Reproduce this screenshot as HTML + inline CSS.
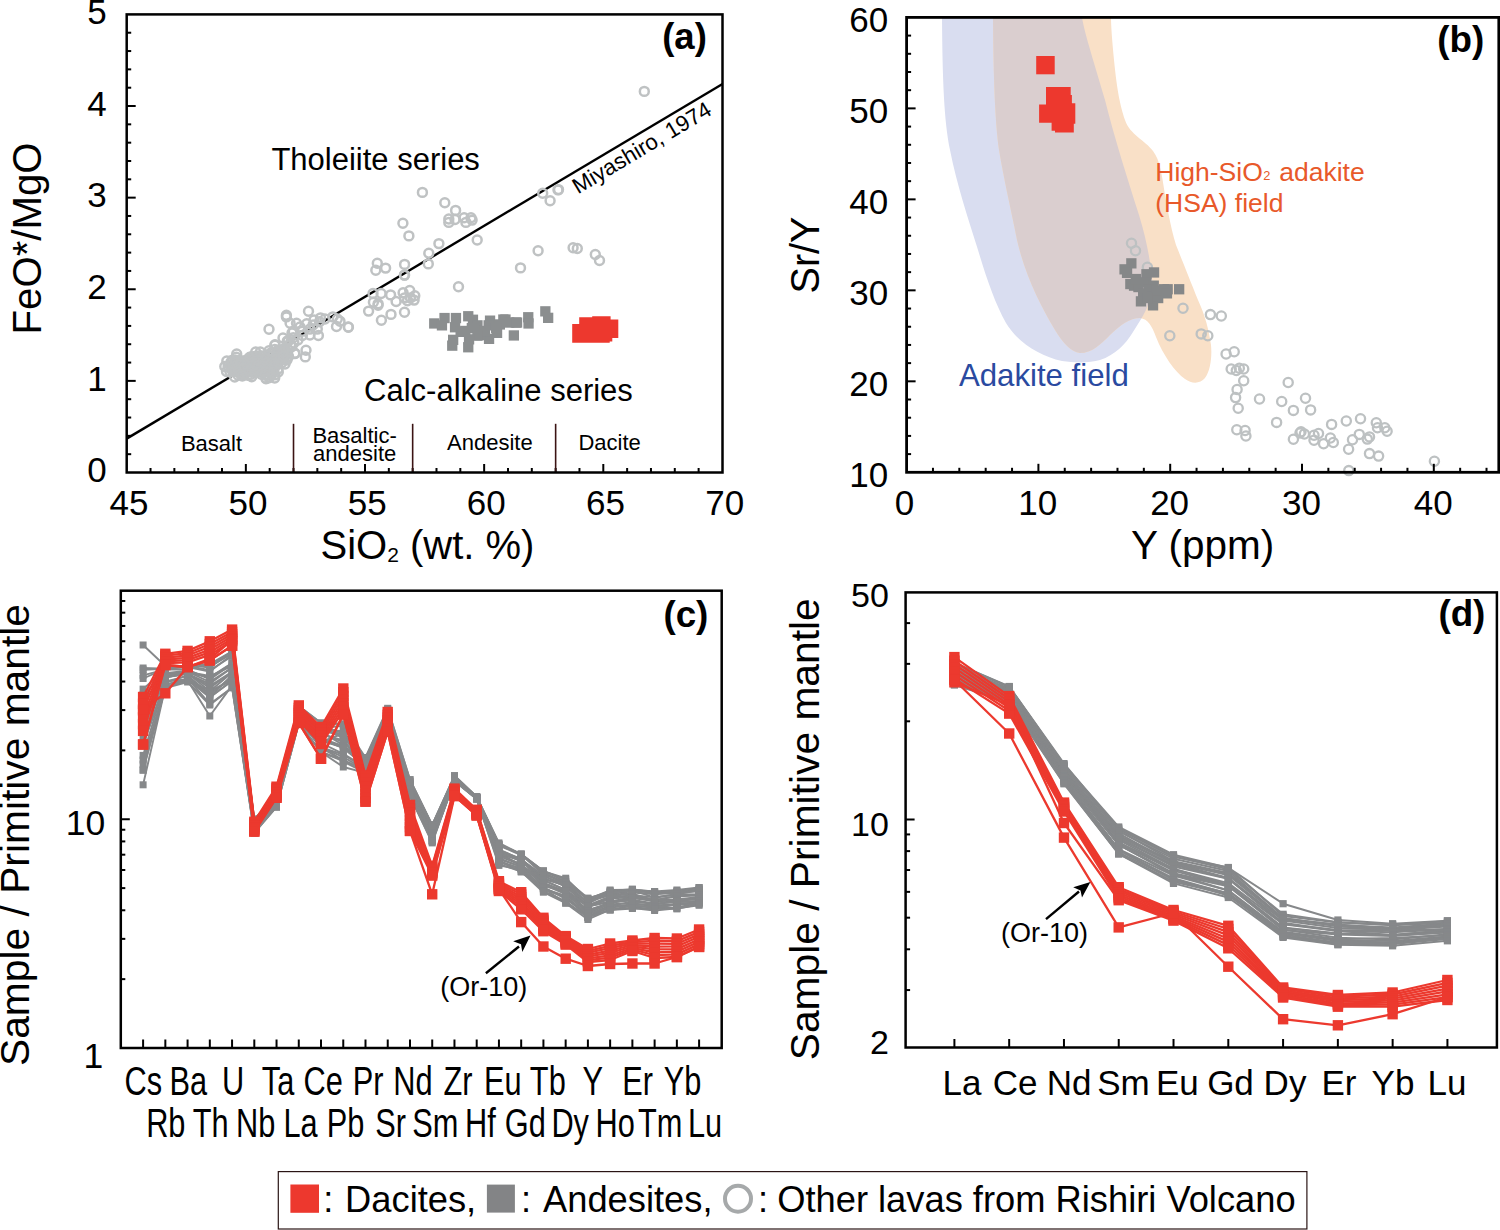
<!DOCTYPE html><html><head><meta charset="utf-8"><style>html,body{margin:0;padding:0;background:#fff;}svg{display:block;font-family:"Liberation Sans",sans-serif;}</style></head><body>
<svg width="1500" height="1230" viewBox="0 0 1500 1230" font-family="Liberation Sans, sans-serif">
<rect width="1500" height="1230" fill="#fff"/>
<line x1="150.53" y1="472.50" x2="150.53" y2="468.00" stroke="#000" stroke-width="2" />
<line x1="174.36" y1="472.50" x2="174.36" y2="468.00" stroke="#000" stroke-width="2" />
<line x1="198.19" y1="472.50" x2="198.19" y2="468.00" stroke="#000" stroke-width="2" />
<line x1="222.02" y1="472.50" x2="222.02" y2="468.00" stroke="#000" stroke-width="2" />
<line x1="245.85" y1="472.50" x2="245.85" y2="464.00" stroke="#000" stroke-width="2" />
<line x1="269.68" y1="472.50" x2="269.68" y2="468.00" stroke="#000" stroke-width="2" />
<line x1="293.51" y1="472.50" x2="293.51" y2="468.00" stroke="#000" stroke-width="2" />
<line x1="317.34" y1="472.50" x2="317.34" y2="468.00" stroke="#000" stroke-width="2" />
<line x1="341.17" y1="472.50" x2="341.17" y2="468.00" stroke="#000" stroke-width="2" />
<line x1="365.00" y1="472.50" x2="365.00" y2="464.00" stroke="#000" stroke-width="2" />
<line x1="388.83" y1="472.50" x2="388.83" y2="468.00" stroke="#000" stroke-width="2" />
<line x1="412.66" y1="472.50" x2="412.66" y2="468.00" stroke="#000" stroke-width="2" />
<line x1="436.49" y1="472.50" x2="436.49" y2="468.00" stroke="#000" stroke-width="2" />
<line x1="460.32" y1="472.50" x2="460.32" y2="468.00" stroke="#000" stroke-width="2" />
<line x1="484.15" y1="472.50" x2="484.15" y2="464.00" stroke="#000" stroke-width="2" />
<line x1="507.98" y1="472.50" x2="507.98" y2="468.00" stroke="#000" stroke-width="2" />
<line x1="531.81" y1="472.50" x2="531.81" y2="468.00" stroke="#000" stroke-width="2" />
<line x1="555.64" y1="472.50" x2="555.64" y2="468.00" stroke="#000" stroke-width="2" />
<line x1="579.47" y1="472.50" x2="579.47" y2="468.00" stroke="#000" stroke-width="2" />
<line x1="603.30" y1="472.50" x2="603.30" y2="464.00" stroke="#000" stroke-width="2" />
<line x1="627.13" y1="472.50" x2="627.13" y2="468.00" stroke="#000" stroke-width="2" />
<line x1="650.96" y1="472.50" x2="650.96" y2="468.00" stroke="#000" stroke-width="2" />
<line x1="674.79" y1="472.50" x2="674.79" y2="468.00" stroke="#000" stroke-width="2" />
<line x1="698.62" y1="472.50" x2="698.62" y2="468.00" stroke="#000" stroke-width="2" />
<line x1="126.70" y1="454.18" x2="131.20" y2="454.18" stroke="#000" stroke-width="2" />
<line x1="126.70" y1="435.85" x2="131.20" y2="435.85" stroke="#000" stroke-width="2" />
<line x1="126.70" y1="417.53" x2="131.20" y2="417.53" stroke="#000" stroke-width="2" />
<line x1="126.70" y1="399.20" x2="131.20" y2="399.20" stroke="#000" stroke-width="2" />
<line x1="126.70" y1="380.88" x2="135.70" y2="380.88" stroke="#000" stroke-width="2" />
<line x1="126.70" y1="362.56" x2="131.20" y2="362.56" stroke="#000" stroke-width="2" />
<line x1="126.70" y1="344.23" x2="131.20" y2="344.23" stroke="#000" stroke-width="2" />
<line x1="126.70" y1="325.91" x2="131.20" y2="325.91" stroke="#000" stroke-width="2" />
<line x1="126.70" y1="307.58" x2="131.20" y2="307.58" stroke="#000" stroke-width="2" />
<line x1="126.70" y1="289.26" x2="135.70" y2="289.26" stroke="#000" stroke-width="2" />
<line x1="126.70" y1="270.94" x2="131.20" y2="270.94" stroke="#000" stroke-width="2" />
<line x1="126.70" y1="252.61" x2="131.20" y2="252.61" stroke="#000" stroke-width="2" />
<line x1="126.70" y1="234.29" x2="131.20" y2="234.29" stroke="#000" stroke-width="2" />
<line x1="126.70" y1="215.96" x2="131.20" y2="215.96" stroke="#000" stroke-width="2" />
<line x1="126.70" y1="197.64" x2="135.70" y2="197.64" stroke="#000" stroke-width="2" />
<line x1="126.70" y1="179.32" x2="131.20" y2="179.32" stroke="#000" stroke-width="2" />
<line x1="126.70" y1="160.99" x2="131.20" y2="160.99" stroke="#000" stroke-width="2" />
<line x1="126.70" y1="142.67" x2="131.20" y2="142.67" stroke="#000" stroke-width="2" />
<line x1="126.70" y1="124.34" x2="131.20" y2="124.34" stroke="#000" stroke-width="2" />
<line x1="126.70" y1="106.02" x2="135.70" y2="106.02" stroke="#000" stroke-width="2" />
<line x1="126.70" y1="87.70" x2="131.20" y2="87.70" stroke="#000" stroke-width="2" />
<line x1="126.70" y1="69.37" x2="131.20" y2="69.37" stroke="#000" stroke-width="2" />
<line x1="126.70" y1="51.05" x2="131.20" y2="51.05" stroke="#000" stroke-width="2" />
<line x1="126.70" y1="32.72" x2="131.20" y2="32.72" stroke="#000" stroke-width="2" />
<line x1="293.51" y1="423.80" x2="293.51" y2="472.50" stroke="#3b1414" stroke-width="1.6" />
<line x1="412.66" y1="423.80" x2="412.66" y2="472.50" stroke="#3b1414" stroke-width="1.6" />
<line x1="555.64" y1="423.80" x2="555.64" y2="472.50" stroke="#3b1414" stroke-width="1.6" />
<line x1="126.70" y1="438.60" x2="722.50" y2="84.00" stroke="#000" stroke-width="2.4" />
<circle cx="274.8" cy="349.4" r="4.45" fill="none" stroke="#bfc2c3" stroke-width="2.5"/>
<circle cx="278.2" cy="350.1" r="4.45" fill="none" stroke="#bfc2c3" stroke-width="2.5"/>
<circle cx="281.7" cy="349.9" r="4.45" fill="none" stroke="#bfc2c3" stroke-width="2.5"/>
<circle cx="285.2" cy="350.6" r="4.45" fill="none" stroke="#bfc2c3" stroke-width="2.5"/>
<circle cx="270.3" cy="353.2" r="4.45" fill="none" stroke="#bfc2c3" stroke-width="2.5"/>
<circle cx="272.5" cy="352.6" r="4.45" fill="none" stroke="#bfc2c3" stroke-width="2.5"/>
<circle cx="276.5" cy="352.7" r="4.45" fill="none" stroke="#bfc2c3" stroke-width="2.5"/>
<circle cx="280.4" cy="353.9" r="4.45" fill="none" stroke="#bfc2c3" stroke-width="2.5"/>
<circle cx="282.6" cy="352.9" r="4.45" fill="none" stroke="#bfc2c3" stroke-width="2.5"/>
<circle cx="287.2" cy="353.6" r="4.45" fill="none" stroke="#bfc2c3" stroke-width="2.5"/>
<circle cx="236.3" cy="357.2" r="4.45" fill="none" stroke="#bfc2c3" stroke-width="2.5"/>
<circle cx="251.2" cy="357.0" r="4.45" fill="none" stroke="#bfc2c3" stroke-width="2.5"/>
<circle cx="254.5" cy="356.4" r="4.45" fill="none" stroke="#bfc2c3" stroke-width="2.5"/>
<circle cx="257.2" cy="356.1" r="4.45" fill="none" stroke="#bfc2c3" stroke-width="2.5"/>
<circle cx="260.5" cy="355.6" r="4.45" fill="none" stroke="#bfc2c3" stroke-width="2.5"/>
<circle cx="264.6" cy="356.0" r="4.45" fill="none" stroke="#bfc2c3" stroke-width="2.5"/>
<circle cx="268.4" cy="355.6" r="4.45" fill="none" stroke="#bfc2c3" stroke-width="2.5"/>
<circle cx="271.9" cy="356.7" r="4.45" fill="none" stroke="#bfc2c3" stroke-width="2.5"/>
<circle cx="275.4" cy="357.1" r="4.45" fill="none" stroke="#bfc2c3" stroke-width="2.5"/>
<circle cx="278.7" cy="356.5" r="4.45" fill="none" stroke="#bfc2c3" stroke-width="2.5"/>
<circle cx="280.5" cy="356.8" r="4.45" fill="none" stroke="#bfc2c3" stroke-width="2.5"/>
<circle cx="284.2" cy="356.0" r="4.45" fill="none" stroke="#bfc2c3" stroke-width="2.5"/>
<circle cx="288.5" cy="356.4" r="4.45" fill="none" stroke="#bfc2c3" stroke-width="2.5"/>
<circle cx="232.3" cy="360.1" r="4.45" fill="none" stroke="#bfc2c3" stroke-width="2.5"/>
<circle cx="235.0" cy="360.0" r="4.45" fill="none" stroke="#bfc2c3" stroke-width="2.5"/>
<circle cx="239.8" cy="360.1" r="4.45" fill="none" stroke="#bfc2c3" stroke-width="2.5"/>
<circle cx="246.0" cy="360.2" r="4.45" fill="none" stroke="#bfc2c3" stroke-width="2.5"/>
<circle cx="248.4" cy="359.1" r="4.45" fill="none" stroke="#bfc2c3" stroke-width="2.5"/>
<circle cx="252.2" cy="359.5" r="4.45" fill="none" stroke="#bfc2c3" stroke-width="2.5"/>
<circle cx="255.9" cy="359.5" r="4.45" fill="none" stroke="#bfc2c3" stroke-width="2.5"/>
<circle cx="259.9" cy="358.6" r="4.45" fill="none" stroke="#bfc2c3" stroke-width="2.5"/>
<circle cx="262.0" cy="358.8" r="4.45" fill="none" stroke="#bfc2c3" stroke-width="2.5"/>
<circle cx="265.5" cy="358.7" r="4.45" fill="none" stroke="#bfc2c3" stroke-width="2.5"/>
<circle cx="270.5" cy="360.1" r="4.45" fill="none" stroke="#bfc2c3" stroke-width="2.5"/>
<circle cx="272.3" cy="359.5" r="4.45" fill="none" stroke="#bfc2c3" stroke-width="2.5"/>
<circle cx="276.1" cy="359.2" r="4.45" fill="none" stroke="#bfc2c3" stroke-width="2.5"/>
<circle cx="279.5" cy="359.8" r="4.45" fill="none" stroke="#bfc2c3" stroke-width="2.5"/>
<circle cx="283.4" cy="359.2" r="4.45" fill="none" stroke="#bfc2c3" stroke-width="2.5"/>
<circle cx="286.0" cy="359.2" r="4.45" fill="none" stroke="#bfc2c3" stroke-width="2.5"/>
<circle cx="230.9" cy="362.4" r="4.45" fill="none" stroke="#bfc2c3" stroke-width="2.5"/>
<circle cx="234.3" cy="362.8" r="4.45" fill="none" stroke="#bfc2c3" stroke-width="2.5"/>
<circle cx="237.1" cy="362.4" r="4.45" fill="none" stroke="#bfc2c3" stroke-width="2.5"/>
<circle cx="240.6" cy="363.0" r="4.45" fill="none" stroke="#bfc2c3" stroke-width="2.5"/>
<circle cx="243.9" cy="362.9" r="4.45" fill="none" stroke="#bfc2c3" stroke-width="2.5"/>
<circle cx="247.3" cy="362.1" r="4.45" fill="none" stroke="#bfc2c3" stroke-width="2.5"/>
<circle cx="250.9" cy="363.0" r="4.45" fill="none" stroke="#bfc2c3" stroke-width="2.5"/>
<circle cx="253.4" cy="362.5" r="4.45" fill="none" stroke="#bfc2c3" stroke-width="2.5"/>
<circle cx="257.5" cy="363.3" r="4.45" fill="none" stroke="#bfc2c3" stroke-width="2.5"/>
<circle cx="261.8" cy="362.4" r="4.45" fill="none" stroke="#bfc2c3" stroke-width="2.5"/>
<circle cx="265.1" cy="363.1" r="4.45" fill="none" stroke="#bfc2c3" stroke-width="2.5"/>
<circle cx="267.4" cy="362.5" r="4.45" fill="none" stroke="#bfc2c3" stroke-width="2.5"/>
<circle cx="270.5" cy="363.2" r="4.45" fill="none" stroke="#bfc2c3" stroke-width="2.5"/>
<circle cx="274.9" cy="363.3" r="4.45" fill="none" stroke="#bfc2c3" stroke-width="2.5"/>
<circle cx="278.5" cy="362.9" r="4.45" fill="none" stroke="#bfc2c3" stroke-width="2.5"/>
<circle cx="281.8" cy="362.7" r="4.45" fill="none" stroke="#bfc2c3" stroke-width="2.5"/>
<circle cx="228.1" cy="366.3" r="4.45" fill="none" stroke="#bfc2c3" stroke-width="2.5"/>
<circle cx="232.5" cy="366.3" r="4.45" fill="none" stroke="#bfc2c3" stroke-width="2.5"/>
<circle cx="236.4" cy="365.8" r="4.45" fill="none" stroke="#bfc2c3" stroke-width="2.5"/>
<circle cx="239.5" cy="364.9" r="4.45" fill="none" stroke="#bfc2c3" stroke-width="2.5"/>
<circle cx="242.9" cy="365.7" r="4.45" fill="none" stroke="#bfc2c3" stroke-width="2.5"/>
<circle cx="246.2" cy="365.0" r="4.45" fill="none" stroke="#bfc2c3" stroke-width="2.5"/>
<circle cx="249.6" cy="366.5" r="4.45" fill="none" stroke="#bfc2c3" stroke-width="2.5"/>
<circle cx="251.8" cy="365.4" r="4.45" fill="none" stroke="#bfc2c3" stroke-width="2.5"/>
<circle cx="256.1" cy="366.3" r="4.45" fill="none" stroke="#bfc2c3" stroke-width="2.5"/>
<circle cx="258.9" cy="365.1" r="4.45" fill="none" stroke="#bfc2c3" stroke-width="2.5"/>
<circle cx="262.3" cy="365.9" r="4.45" fill="none" stroke="#bfc2c3" stroke-width="2.5"/>
<circle cx="266.7" cy="365.5" r="4.45" fill="none" stroke="#bfc2c3" stroke-width="2.5"/>
<circle cx="269.4" cy="365.5" r="4.45" fill="none" stroke="#bfc2c3" stroke-width="2.5"/>
<circle cx="272.7" cy="365.6" r="4.45" fill="none" stroke="#bfc2c3" stroke-width="2.5"/>
<circle cx="275.6" cy="365.7" r="4.45" fill="none" stroke="#bfc2c3" stroke-width="2.5"/>
<circle cx="231.1" cy="368.8" r="4.45" fill="none" stroke="#bfc2c3" stroke-width="2.5"/>
<circle cx="233.7" cy="369.2" r="4.45" fill="none" stroke="#bfc2c3" stroke-width="2.5"/>
<circle cx="236.6" cy="368.4" r="4.45" fill="none" stroke="#bfc2c3" stroke-width="2.5"/>
<circle cx="240.1" cy="369.0" r="4.45" fill="none" stroke="#bfc2c3" stroke-width="2.5"/>
<circle cx="243.7" cy="368.3" r="4.45" fill="none" stroke="#bfc2c3" stroke-width="2.5"/>
<circle cx="247.7" cy="369.6" r="4.45" fill="none" stroke="#bfc2c3" stroke-width="2.5"/>
<circle cx="250.4" cy="369.2" r="4.45" fill="none" stroke="#bfc2c3" stroke-width="2.5"/>
<circle cx="254.0" cy="369.4" r="4.45" fill="none" stroke="#bfc2c3" stroke-width="2.5"/>
<circle cx="257.8" cy="368.4" r="4.45" fill="none" stroke="#bfc2c3" stroke-width="2.5"/>
<circle cx="260.5" cy="367.9" r="4.45" fill="none" stroke="#bfc2c3" stroke-width="2.5"/>
<circle cx="264.4" cy="368.6" r="4.45" fill="none" stroke="#bfc2c3" stroke-width="2.5"/>
<circle cx="267.2" cy="368.5" r="4.45" fill="none" stroke="#bfc2c3" stroke-width="2.5"/>
<circle cx="270.9" cy="369.3" r="4.45" fill="none" stroke="#bfc2c3" stroke-width="2.5"/>
<circle cx="274.0" cy="369.7" r="4.45" fill="none" stroke="#bfc2c3" stroke-width="2.5"/>
<circle cx="278.0" cy="369.0" r="4.45" fill="none" stroke="#bfc2c3" stroke-width="2.5"/>
<circle cx="232.8" cy="371.4" r="4.45" fill="none" stroke="#bfc2c3" stroke-width="2.5"/>
<circle cx="235.0" cy="371.5" r="4.45" fill="none" stroke="#bfc2c3" stroke-width="2.5"/>
<circle cx="238.4" cy="372.3" r="4.45" fill="none" stroke="#bfc2c3" stroke-width="2.5"/>
<circle cx="243.0" cy="372.6" r="4.45" fill="none" stroke="#bfc2c3" stroke-width="2.5"/>
<circle cx="245.4" cy="372.6" r="4.45" fill="none" stroke="#bfc2c3" stroke-width="2.5"/>
<circle cx="248.9" cy="371.8" r="4.45" fill="none" stroke="#bfc2c3" stroke-width="2.5"/>
<circle cx="253.0" cy="371.2" r="4.45" fill="none" stroke="#bfc2c3" stroke-width="2.5"/>
<circle cx="255.3" cy="372.5" r="4.45" fill="none" stroke="#bfc2c3" stroke-width="2.5"/>
<circle cx="259.0" cy="371.6" r="4.45" fill="none" stroke="#bfc2c3" stroke-width="2.5"/>
<circle cx="262.9" cy="372.2" r="4.45" fill="none" stroke="#bfc2c3" stroke-width="2.5"/>
<circle cx="265.3" cy="371.6" r="4.45" fill="none" stroke="#bfc2c3" stroke-width="2.5"/>
<circle cx="269.5" cy="371.9" r="4.45" fill="none" stroke="#bfc2c3" stroke-width="2.5"/>
<circle cx="272.5" cy="372.1" r="4.45" fill="none" stroke="#bfc2c3" stroke-width="2.5"/>
<circle cx="238.0" cy="375.3" r="4.45" fill="none" stroke="#bfc2c3" stroke-width="2.5"/>
<circle cx="240.7" cy="374.3" r="4.45" fill="none" stroke="#bfc2c3" stroke-width="2.5"/>
<circle cx="244.0" cy="374.7" r="4.45" fill="none" stroke="#bfc2c3" stroke-width="2.5"/>
<circle cx="247.8" cy="375.3" r="4.45" fill="none" stroke="#bfc2c3" stroke-width="2.5"/>
<circle cx="250.9" cy="374.4" r="4.45" fill="none" stroke="#bfc2c3" stroke-width="2.5"/>
<circle cx="261.3" cy="374.3" r="4.45" fill="none" stroke="#bfc2c3" stroke-width="2.5"/>
<circle cx="265.2" cy="374.4" r="4.45" fill="none" stroke="#bfc2c3" stroke-width="2.5"/>
<circle cx="267.5" cy="375.4" r="4.45" fill="none" stroke="#bfc2c3" stroke-width="2.5"/>
<circle cx="271.4" cy="375.1" r="4.45" fill="none" stroke="#bfc2c3" stroke-width="2.5"/>
<circle cx="274.9" cy="374.9" r="4.45" fill="none" stroke="#bfc2c3" stroke-width="2.5"/>
<circle cx="266.2" cy="378.2" r="4.45" fill="none" stroke="#bfc2c3" stroke-width="2.5"/>
<circle cx="269.1" cy="377.7" r="4.45" fill="none" stroke="#bfc2c3" stroke-width="2.5"/>
<circle cx="422.4" cy="192.4" r="4.45" fill="none" stroke="#bfc2c3" stroke-width="2.5"/>
<circle cx="402.9" cy="223.3" r="4.45" fill="none" stroke="#bfc2c3" stroke-width="2.5"/>
<circle cx="408.9" cy="235.9" r="4.45" fill="none" stroke="#bfc2c3" stroke-width="2.5"/>
<circle cx="438.9" cy="243.6" r="4.45" fill="none" stroke="#bfc2c3" stroke-width="2.5"/>
<circle cx="428.8" cy="253.2" r="4.45" fill="none" stroke="#bfc2c3" stroke-width="2.5"/>
<circle cx="428.3" cy="263.9" r="4.45" fill="none" stroke="#bfc2c3" stroke-width="2.5"/>
<circle cx="404.6" cy="264.4" r="4.45" fill="none" stroke="#bfc2c3" stroke-width="2.5"/>
<circle cx="404.6" cy="275.1" r="4.45" fill="none" stroke="#bfc2c3" stroke-width="2.5"/>
<circle cx="377.3" cy="263.3" r="4.45" fill="none" stroke="#bfc2c3" stroke-width="2.5"/>
<circle cx="375.8" cy="270.3" r="4.45" fill="none" stroke="#bfc2c3" stroke-width="2.5"/>
<circle cx="385.6" cy="268.1" r="4.45" fill="none" stroke="#bfc2c3" stroke-width="2.5"/>
<circle cx="404.4" cy="275.1" r="4.45" fill="none" stroke="#bfc2c3" stroke-width="2.5"/>
<circle cx="373.0" cy="293.5" r="4.45" fill="none" stroke="#bfc2c3" stroke-width="2.5"/>
<circle cx="381.1" cy="293.5" r="4.45" fill="none" stroke="#bfc2c3" stroke-width="2.5"/>
<circle cx="390.6" cy="294.9" r="4.45" fill="none" stroke="#bfc2c3" stroke-width="2.5"/>
<circle cx="396.1" cy="301.5" r="4.45" fill="none" stroke="#bfc2c3" stroke-width="2.5"/>
<circle cx="373.4" cy="302.3" r="4.45" fill="none" stroke="#bfc2c3" stroke-width="2.5"/>
<circle cx="378.1" cy="303.7" r="4.45" fill="none" stroke="#bfc2c3" stroke-width="2.5"/>
<circle cx="378.1" cy="305.2" r="4.45" fill="none" stroke="#bfc2c3" stroke-width="2.5"/>
<circle cx="368.6" cy="311.1" r="4.45" fill="none" stroke="#bfc2c3" stroke-width="2.5"/>
<circle cx="381.4" cy="320.2" r="4.45" fill="none" stroke="#bfc2c3" stroke-width="2.5"/>
<circle cx="391.0" cy="314.4" r="4.45" fill="none" stroke="#bfc2c3" stroke-width="2.5"/>
<circle cx="404.5" cy="312.2" r="4.45" fill="none" stroke="#bfc2c3" stroke-width="2.5"/>
<circle cx="348.4" cy="327.2" r="4.45" fill="none" stroke="#bfc2c3" stroke-width="2.5"/>
<circle cx="340.0" cy="321.3" r="4.45" fill="none" stroke="#bfc2c3" stroke-width="2.5"/>
<circle cx="403.1" cy="292.7" r="4.45" fill="none" stroke="#bfc2c3" stroke-width="2.5"/>
<circle cx="409.7" cy="290.5" r="4.45" fill="none" stroke="#bfc2c3" stroke-width="2.5"/>
<circle cx="414.8" cy="295.7" r="4.45" fill="none" stroke="#bfc2c3" stroke-width="2.5"/>
<circle cx="410.4" cy="297.9" r="4.45" fill="none" stroke="#bfc2c3" stroke-width="2.5"/>
<circle cx="414.1" cy="300.1" r="4.45" fill="none" stroke="#bfc2c3" stroke-width="2.5"/>
<circle cx="404.5" cy="297.9" r="4.45" fill="none" stroke="#bfc2c3" stroke-width="2.5"/>
<circle cx="407.5" cy="300.8" r="4.45" fill="none" stroke="#bfc2c3" stroke-width="2.5"/>
<circle cx="444.8" cy="202.7" r="4.45" fill="none" stroke="#bfc2c3" stroke-width="2.5"/>
<circle cx="455.6" cy="210.4" r="4.45" fill="none" stroke="#bfc2c3" stroke-width="2.5"/>
<circle cx="448.8" cy="219.0" r="4.45" fill="none" stroke="#bfc2c3" stroke-width="2.5"/>
<circle cx="448.8" cy="222.4" r="4.45" fill="none" stroke="#bfc2c3" stroke-width="2.5"/>
<circle cx="455.0" cy="219.5" r="4.45" fill="none" stroke="#bfc2c3" stroke-width="2.5"/>
<circle cx="464.1" cy="217.8" r="4.45" fill="none" stroke="#bfc2c3" stroke-width="2.5"/>
<circle cx="465.9" cy="222.4" r="4.45" fill="none" stroke="#bfc2c3" stroke-width="2.5"/>
<circle cx="471.0" cy="217.8" r="4.45" fill="none" stroke="#bfc2c3" stroke-width="2.5"/>
<circle cx="472.1" cy="220.1" r="4.45" fill="none" stroke="#bfc2c3" stroke-width="2.5"/>
<circle cx="477.2" cy="240.0" r="4.45" fill="none" stroke="#bfc2c3" stroke-width="2.5"/>
<circle cx="458.5" cy="286.7" r="4.45" fill="none" stroke="#bfc2c3" stroke-width="2.5"/>
<circle cx="538.1" cy="250.8" r="4.45" fill="none" stroke="#bfc2c3" stroke-width="2.5"/>
<circle cx="520.5" cy="267.9" r="4.45" fill="none" stroke="#bfc2c3" stroke-width="2.5"/>
<circle cx="542.7" cy="193.3" r="4.45" fill="none" stroke="#bfc2c3" stroke-width="2.5"/>
<circle cx="550.1" cy="200.7" r="4.45" fill="none" stroke="#bfc2c3" stroke-width="2.5"/>
<circle cx="558.0" cy="189.9" r="4.45" fill="none" stroke="#bfc2c3" stroke-width="2.5"/>
<circle cx="644.3" cy="91.4" r="4.45" fill="none" stroke="#bfc2c3" stroke-width="2.5"/>
<circle cx="558.5" cy="189.6" r="4.45" fill="none" stroke="#bfc2c3" stroke-width="2.5"/>
<circle cx="573.1" cy="247.7" r="4.45" fill="none" stroke="#bfc2c3" stroke-width="2.5"/>
<circle cx="577.3" cy="248.5" r="4.45" fill="none" stroke="#bfc2c3" stroke-width="2.5"/>
<circle cx="595.3" cy="254.5" r="4.45" fill="none" stroke="#bfc2c3" stroke-width="2.5"/>
<circle cx="599.5" cy="260.5" r="4.45" fill="none" stroke="#bfc2c3" stroke-width="2.5"/>
<circle cx="308.5" cy="311.3" r="4.45" fill="none" stroke="#bfc2c3" stroke-width="2.5"/>
<circle cx="286.4" cy="315.3" r="4.45" fill="none" stroke="#bfc2c3" stroke-width="2.5"/>
<circle cx="286.4" cy="316.9" r="4.45" fill="none" stroke="#bfc2c3" stroke-width="2.5"/>
<circle cx="320.5" cy="317.9" r="4.45" fill="none" stroke="#bfc2c3" stroke-width="2.5"/>
<circle cx="332.8" cy="316.9" r="4.45" fill="none" stroke="#bfc2c3" stroke-width="2.5"/>
<circle cx="337.3" cy="319.0" r="4.45" fill="none" stroke="#bfc2c3" stroke-width="2.5"/>
<circle cx="336.5" cy="326.5" r="4.45" fill="none" stroke="#bfc2c3" stroke-width="2.5"/>
<circle cx="348.3" cy="327.0" r="4.45" fill="none" stroke="#bfc2c3" stroke-width="2.5"/>
<circle cx="290.1" cy="323.3" r="4.45" fill="none" stroke="#bfc2c3" stroke-width="2.5"/>
<circle cx="296.5" cy="323.3" r="4.45" fill="none" stroke="#bfc2c3" stroke-width="2.5"/>
<circle cx="306.7" cy="323.8" r="4.45" fill="none" stroke="#bfc2c3" stroke-width="2.5"/>
<circle cx="313.1" cy="324.9" r="4.45" fill="none" stroke="#bfc2c3" stroke-width="2.5"/>
<circle cx="319.5" cy="321.7" r="4.45" fill="none" stroke="#bfc2c3" stroke-width="2.5"/>
<circle cx="293.3" cy="331.3" r="4.45" fill="none" stroke="#bfc2c3" stroke-width="2.5"/>
<circle cx="302.4" cy="331.3" r="4.45" fill="none" stroke="#bfc2c3" stroke-width="2.5"/>
<circle cx="309.9" cy="329.1" r="4.45" fill="none" stroke="#bfc2c3" stroke-width="2.5"/>
<circle cx="317.3" cy="329.1" r="4.45" fill="none" stroke="#bfc2c3" stroke-width="2.5"/>
<circle cx="318.4" cy="335.5" r="4.45" fill="none" stroke="#bfc2c3" stroke-width="2.5"/>
<circle cx="309.9" cy="335.0" r="4.45" fill="none" stroke="#bfc2c3" stroke-width="2.5"/>
<circle cx="302.4" cy="335.5" r="4.45" fill="none" stroke="#bfc2c3" stroke-width="2.5"/>
<circle cx="293.3" cy="337.7" r="4.45" fill="none" stroke="#bfc2c3" stroke-width="2.5"/>
<circle cx="288.0" cy="341.4" r="4.45" fill="none" stroke="#bfc2c3" stroke-width="2.5"/>
<circle cx="293.9" cy="343.0" r="4.45" fill="none" stroke="#bfc2c3" stroke-width="2.5"/>
<circle cx="269.0" cy="329.3" r="4.45" fill="none" stroke="#bfc2c3" stroke-width="2.5"/>
<circle cx="275.0" cy="344.7" r="4.45" fill="none" stroke="#bfc2c3" stroke-width="2.5"/>
<circle cx="306.0" cy="350.3" r="4.45" fill="none" stroke="#bfc2c3" stroke-width="2.5"/>
<circle cx="305.3" cy="356.9" r="4.45" fill="none" stroke="#bfc2c3" stroke-width="2.5"/>
<circle cx="294.8" cy="353.6" r="4.45" fill="none" stroke="#bfc2c3" stroke-width="2.5"/>
<circle cx="288.3" cy="349.9" r="4.45" fill="none" stroke="#bfc2c3" stroke-width="2.5"/>
<circle cx="287.3" cy="341.0" r="4.45" fill="none" stroke="#bfc2c3" stroke-width="2.5"/>
<circle cx="290.6" cy="344.7" r="4.45" fill="none" stroke="#bfc2c3" stroke-width="2.5"/>
<circle cx="292.0" cy="333.0" r="4.45" fill="none" stroke="#bfc2c3" stroke-width="2.5"/>
<circle cx="300.0" cy="327.0" r="4.45" fill="none" stroke="#bfc2c3" stroke-width="2.5"/>
<circle cx="314.0" cy="320.0" r="4.45" fill="none" stroke="#bfc2c3" stroke-width="2.5"/>
<circle cx="325.0" cy="319.0" r="4.45" fill="none" stroke="#bfc2c3" stroke-width="2.5"/>
<circle cx="298.0" cy="340.0" r="4.45" fill="none" stroke="#bfc2c3" stroke-width="2.5"/>
<circle cx="283.0" cy="338.0" r="4.45" fill="none" stroke="#bfc2c3" stroke-width="2.5"/>
<circle cx="234.7" cy="377.0" r="4.45" fill="none" stroke="#bfc2c3" stroke-width="2.5"/>
<circle cx="274.7" cy="378.0" r="4.45" fill="none" stroke="#bfc2c3" stroke-width="2.5"/>
<circle cx="266.0" cy="378.7" r="4.45" fill="none" stroke="#bfc2c3" stroke-width="2.5"/>
<circle cx="251.7" cy="376.7" r="4.45" fill="none" stroke="#bfc2c3" stroke-width="2.5"/>
<circle cx="242.3" cy="376.0" r="4.45" fill="none" stroke="#bfc2c3" stroke-width="2.5"/>
<circle cx="236.7" cy="354.0" r="4.45" fill="none" stroke="#bfc2c3" stroke-width="2.5"/>
<circle cx="226.8" cy="361.0" r="4.45" fill="none" stroke="#bfc2c3" stroke-width="2.5"/>
<circle cx="224.8" cy="366.5" r="4.45" fill="none" stroke="#bfc2c3" stroke-width="2.5"/>
<circle cx="249.7" cy="357.3" r="4.45" fill="none" stroke="#bfc2c3" stroke-width="2.5"/>
<circle cx="255.7" cy="352.0" r="4.45" fill="none" stroke="#bfc2c3" stroke-width="2.5"/>
<circle cx="260.3" cy="352.0" r="4.45" fill="none" stroke="#bfc2c3" stroke-width="2.5"/>
<circle cx="269.0" cy="350.7" r="4.45" fill="none" stroke="#bfc2c3" stroke-width="2.5"/>
<circle cx="275.0" cy="345.3" r="4.45" fill="none" stroke="#bfc2c3" stroke-width="2.5"/>
<circle cx="285.0" cy="348.0" r="4.45" fill="none" stroke="#bfc2c3" stroke-width="2.5"/>
<circle cx="291.7" cy="346.7" r="4.45" fill="none" stroke="#bfc2c3" stroke-width="2.5"/>
<circle cx="295.0" cy="353.3" r="4.45" fill="none" stroke="#bfc2c3" stroke-width="2.5"/>
<circle cx="287.0" cy="360.0" r="4.45" fill="none" stroke="#bfc2c3" stroke-width="2.5"/>
<circle cx="285.0" cy="364.0" r="4.45" fill="none" stroke="#bfc2c3" stroke-width="2.5"/>
<circle cx="278.3" cy="372.0" r="4.45" fill="none" stroke="#bfc2c3" stroke-width="2.5"/>
<circle cx="226.5" cy="371.5" r="4.45" fill="none" stroke="#bfc2c3" stroke-width="2.5"/>
<circle cx="230.0" cy="372.0" r="4.45" fill="none" stroke="#bfc2c3" stroke-width="2.5"/>
<circle cx="283.0" cy="356.0" r="4.45" fill="none" stroke="#bfc2c3" stroke-width="2.5"/>
<rect x="429.1" y="318.3" width="10.3" height="10.3" fill="#8b8e8f"/>
<rect x="439.4" y="312.9" width="10.3" height="10.3" fill="#8b8e8f"/>
<rect x="450.8" y="312.9" width="10.3" height="10.3" fill="#8b8e8f"/>
<rect x="463.1" y="311.1" width="10.3" height="10.3" fill="#8b8e8f"/>
<rect x="467.8" y="314.6" width="10.3" height="10.3" fill="#8b8e8f"/>
<rect x="484.9" y="315.5" width="10.3" height="10.3" fill="#8b8e8f"/>
<rect x="498.2" y="314.4" width="10.3" height="10.3" fill="#8b8e8f"/>
<rect x="500.3" y="314.4" width="10.3" height="10.3" fill="#8b8e8f"/>
<rect x="510.7" y="317.4" width="10.3" height="10.3" fill="#8b8e8f"/>
<rect x="523.1" y="312.1" width="10.3" height="10.3" fill="#8b8e8f"/>
<rect x="523.4" y="318.3" width="10.3" height="10.3" fill="#8b8e8f"/>
<rect x="540.2" y="306.2" width="10.3" height="10.3" fill="#8b8e8f"/>
<rect x="543.0" y="312.7" width="10.3" height="10.3" fill="#8b8e8f"/>
<rect x="508.7" y="330.3" width="10.3" height="10.3" fill="#8b8e8f"/>
<rect x="447.1" y="340.5" width="10.3" height="10.3" fill="#8b8e8f"/>
<rect x="463.1" y="342.1" width="10.3" height="10.3" fill="#8b8e8f"/>
<rect x="483.9" y="333.7" width="10.3" height="10.3" fill="#8b8e8f"/>
<rect x="448.0" y="334.7" width="10.3" height="10.3" fill="#8b8e8f"/>
<rect x="436.8" y="320.2" width="10.3" height="10.3" fill="#8b8e8f"/>
<rect x="449.9" y="322.1" width="10.3" height="10.3" fill="#8b8e8f"/>
<rect x="455.5" y="326.7" width="10.3" height="10.3" fill="#8b8e8f"/>
<rect x="475.1" y="330.0" width="10.3" height="10.3" fill="#8b8e8f"/>
<rect x="491.9" y="327.7" width="10.3" height="10.3" fill="#8b8e8f"/>
<rect x="472.3" y="320.2" width="10.3" height="10.3" fill="#8b8e8f"/>
<rect x="483.5" y="320.2" width="10.3" height="10.3" fill="#8b8e8f"/>
<rect x="494.7" y="319.3" width="10.3" height="10.3" fill="#8b8e8f"/>
<rect x="504.0" y="317.4" width="10.3" height="10.3" fill="#8b8e8f"/>
<rect x="511.9" y="317.4" width="10.3" height="10.3" fill="#8b8e8f"/>
<rect x="460.1" y="325.8" width="10.3" height="10.3" fill="#8b8e8f"/>
<rect x="466.7" y="323.0" width="10.3" height="10.3" fill="#8b8e8f"/>
<rect x="479.7" y="325.8" width="10.3" height="10.3" fill="#8b8e8f"/>
<rect x="490.9" y="323.0" width="10.3" height="10.3" fill="#8b8e8f"/>
<rect x="472.3" y="330.5" width="10.3" height="10.3" fill="#8b8e8f"/>
<rect x="463.9" y="334.2" width="10.3" height="10.3" fill="#8b8e8f"/>
<polygon points="572.2,324.0 579.2,324.0 579.2,317.2 592.2,317.2 592.2,316.2 610.6,316.2 610.6,319.6 618.3,319.6 618.3,338.1 612.3,338.1 612.3,341.6 609.7,341.6 609.7,342.7 572.2,342.7" fill="#ed382e"/>
<rect x="126.7" y="14.4" width="595.8" height="458.1" fill="none" stroke="#000" stroke-width="2.5"/>
<text x="106.8" y="482.1" font-size="35" text-anchor="end" fill="#000" >0</text>
<text x="106.8" y="390.5" font-size="35" text-anchor="end" fill="#000" >1</text>
<text x="106.8" y="298.9" font-size="35" text-anchor="end" fill="#000" >2</text>
<text x="106.8" y="207.2" font-size="35" text-anchor="end" fill="#000" >3</text>
<text x="106.8" y="115.6" font-size="35" text-anchor="end" fill="#000" >4</text>
<text x="106.8" y="24.0" font-size="35" text-anchor="end" fill="#000" >5</text>
<text x="128.9" y="514.8" font-size="35" text-anchor="middle" fill="#000" >45</text>
<text x="248.0" y="514.8" font-size="35" text-anchor="middle" fill="#000" >50</text>
<text x="367.2" y="514.8" font-size="35" text-anchor="middle" fill="#000" >55</text>
<text x="486.3" y="514.8" font-size="35" text-anchor="middle" fill="#000" >60</text>
<text x="605.5" y="514.8" font-size="35" text-anchor="middle" fill="#000" >65</text>
<text x="724.7" y="514.8" font-size="35" text-anchor="middle" fill="#000" >70</text>
<text transform="translate(41.2,334.5) rotate(-90)" font-size="40.5" textLength="192" lengthAdjust="spacingAndGlyphs">FeO*/MgO</text>
<text x="320.5" y="558.9" font-size="40">SiO<tspan font-size="21" dy="2.6">2</tspan><tspan dy="-2.6"> (wt. %)</tspan></text>
<text x="271.4" y="170.0" font-size="31" fill="#000" >Tholeiite series</text>
<text x="364.1" y="400.5" font-size="31" fill="#000" >Calc-alkaline series</text>
<text x="180.9" y="450.7" font-size="22" fill="#000" >Basalt</text>
<text x="312.4" y="443.4" font-size="22" fill="#000" >Basaltic-</text>
<text x="313.1" y="461.1" font-size="22" fill="#000" >andesite</text>
<text x="447.0" y="449.7" font-size="22" fill="#000" >Andesite</text>
<text x="578.4" y="449.7" font-size="22" fill="#000" >Dacite</text>
<text transform="translate(578,194.5) rotate(-30.76)" font-size="22.3">Miyashiro, 1974</text>
<text x="662.2" y="49.0" font-size="36.5" font-weight="bold" fill="#000" >(a)</text>
<defs><clipPath id="clipB"><rect x="906.6" y="17.4" width="592" height="455"/></clipPath><clipPath id="clipBlue"><path d="M942,17.4 C942.5,80 944,120 950,150 C957,185 967,215 978,250 C987,280 995,303 1006,323 C1018,343 1040,356 1062,361 C1075,363 1090,363 1100,360 C1115,355 1125,345 1133,332 C1138,324 1142,318 1146,310 C1151,298 1153,288 1152,278 C1150,258 1146,238 1139,215 C1128,180 1115,140 1105,100 C1095,65 1085,35 1082,17.4 Z"/></clipPath></defs>
<g clip-path="url(#clipB)">
<path d="M942,17.4 C942.5,80 944,120 950,150 C957,185 967,215 978,250 C987,280 995,303 1006,323 C1018,343 1040,356 1062,361 C1075,363 1090,363 1100,360 C1115,355 1125,345 1133,332 C1138,324 1142,318 1146,310 C1151,298 1153,288 1152,278 C1150,258 1146,238 1139,215 C1128,180 1115,140 1105,100 C1095,65 1085,35 1082,17.4 Z" fill="#d9ddf0"/>
<path d="M993,17.4 C993.5,80 995,120 999,150 C1004,180 1010,205 1017,240 C1025,275 1040,305 1055,330 C1063,343 1071,352 1080,353 C1092,353 1100,345 1110,335 C1120,325 1130,318 1140,318 C1148,319 1152,326 1156,337 C1163,355 1175,372 1185,379 C1192,384 1200,384 1205,378 C1211,370 1212,355 1211,345 C1209,330 1205,315 1198,300 C1190,280 1182,260 1176,245 C1170,225 1167,205 1165,195 C1162,175 1160,160 1153,151 C1145,140 1130,135 1125,120 C1120,105 1117,90 1114,60 C1112,40 1111,25 1111,17.4 Z" fill="#f9e0c7"/>
<path d="M993,17.4 C993.5,80 995,120 999,150 C1004,180 1010,205 1017,240 C1025,275 1040,305 1055,330 C1063,343 1071,352 1080,353 C1092,353 1100,345 1110,335 C1120,325 1130,318 1140,318 C1148,319 1152,326 1156,337 C1163,355 1175,372 1185,379 C1192,384 1200,384 1205,378 C1211,370 1212,355 1211,345 C1209,330 1205,315 1198,300 C1190,280 1182,260 1176,245 C1170,225 1167,205 1165,195 C1162,175 1160,160 1153,151 C1145,140 1130,135 1125,120 C1120,105 1117,90 1114,60 C1112,40 1111,25 1111,17.4 Z" fill="#dacecf" clip-path="url(#clipBlue)"/>
</g>
<circle cx="1131.5" cy="243.2" r="4.6" fill="none" stroke="#bdc1c2" stroke-width="2.3"/>
<circle cx="1135.5" cy="250.8" r="4.6" fill="none" stroke="#bdc1c2" stroke-width="2.3"/>
<circle cx="1147.4" cy="267.3" r="4.6" fill="none" stroke="#bdc1c2" stroke-width="2.3"/>
<circle cx="1183.0" cy="308.3" r="4.6" fill="none" stroke="#bdc1c2" stroke-width="2.3"/>
<circle cx="1169.8" cy="335.7" r="4.6" fill="none" stroke="#bdc1c2" stroke-width="2.3"/>
<circle cx="1201.2" cy="333.9" r="4.6" fill="none" stroke="#bdc1c2" stroke-width="2.3"/>
<circle cx="1207.8" cy="335.7" r="4.6" fill="none" stroke="#bdc1c2" stroke-width="2.3"/>
<circle cx="1210.4" cy="314.6" r="4.6" fill="none" stroke="#bdc1c2" stroke-width="2.3"/>
<circle cx="1221.3" cy="316.0" r="4.6" fill="none" stroke="#bdc1c2" stroke-width="2.3"/>
<circle cx="1226.1" cy="354.0" r="4.6" fill="none" stroke="#bdc1c2" stroke-width="2.3"/>
<circle cx="1234.2" cy="351.8" r="4.6" fill="none" stroke="#bdc1c2" stroke-width="2.3"/>
<circle cx="1231.2" cy="369.0" r="4.6" fill="none" stroke="#bdc1c2" stroke-width="2.3"/>
<circle cx="1236.3" cy="370.5" r="4.6" fill="none" stroke="#bdc1c2" stroke-width="2.3"/>
<circle cx="1239.3" cy="368.3" r="4.6" fill="none" stroke="#bdc1c2" stroke-width="2.3"/>
<circle cx="1243.7" cy="369.0" r="4.6" fill="none" stroke="#bdc1c2" stroke-width="2.3"/>
<circle cx="1243.7" cy="380.7" r="4.6" fill="none" stroke="#bdc1c2" stroke-width="2.3"/>
<circle cx="1237.1" cy="389.5" r="4.6" fill="none" stroke="#bdc1c2" stroke-width="2.3"/>
<circle cx="1235.6" cy="397.6" r="4.6" fill="none" stroke="#bdc1c2" stroke-width="2.3"/>
<circle cx="1238.2" cy="408.2" r="4.6" fill="none" stroke="#bdc1c2" stroke-width="2.3"/>
<circle cx="1259.5" cy="399.0" r="4.6" fill="none" stroke="#bdc1c2" stroke-width="2.3"/>
<circle cx="1288.2" cy="382.5" r="4.6" fill="none" stroke="#bdc1c2" stroke-width="2.3"/>
<circle cx="1281.7" cy="401.5" r="4.6" fill="none" stroke="#bdc1c2" stroke-width="2.3"/>
<circle cx="1293.4" cy="410.4" r="4.6" fill="none" stroke="#bdc1c2" stroke-width="2.3"/>
<circle cx="1276.6" cy="422.4" r="4.6" fill="none" stroke="#bdc1c2" stroke-width="2.3"/>
<circle cx="1236.8" cy="429.8" r="4.6" fill="none" stroke="#bdc1c2" stroke-width="2.3"/>
<circle cx="1245.1" cy="430.5" r="4.6" fill="none" stroke="#bdc1c2" stroke-width="2.3"/>
<circle cx="1245.9" cy="436.0" r="4.6" fill="none" stroke="#bdc1c2" stroke-width="2.3"/>
<circle cx="1293.4" cy="439.3" r="4.6" fill="none" stroke="#bdc1c2" stroke-width="2.3"/>
<circle cx="1305.5" cy="398.3" r="4.6" fill="none" stroke="#bdc1c2" stroke-width="2.3"/>
<circle cx="1310.6" cy="409.9" r="4.6" fill="none" stroke="#bdc1c2" stroke-width="2.3"/>
<circle cx="1331.6" cy="424.4" r="4.6" fill="none" stroke="#bdc1c2" stroke-width="2.3"/>
<circle cx="1346.3" cy="421.0" r="4.6" fill="none" stroke="#bdc1c2" stroke-width="2.3"/>
<circle cx="1360.5" cy="418.7" r="4.6" fill="none" stroke="#bdc1c2" stroke-width="2.3"/>
<circle cx="1376.3" cy="422.7" r="4.6" fill="none" stroke="#bdc1c2" stroke-width="2.3"/>
<circle cx="1377.5" cy="427.8" r="4.6" fill="none" stroke="#bdc1c2" stroke-width="2.3"/>
<circle cx="1384.8" cy="427.8" r="4.6" fill="none" stroke="#bdc1c2" stroke-width="2.3"/>
<circle cx="1387.1" cy="431.2" r="4.6" fill="none" stroke="#bdc1c2" stroke-width="2.3"/>
<circle cx="1301.0" cy="431.8" r="4.6" fill="none" stroke="#bdc1c2" stroke-width="2.3"/>
<circle cx="1304.4" cy="434.0" r="4.6" fill="none" stroke="#bdc1c2" stroke-width="2.3"/>
<circle cx="1314.0" cy="435.2" r="4.6" fill="none" stroke="#bdc1c2" stroke-width="2.3"/>
<circle cx="1318.5" cy="433.5" r="4.6" fill="none" stroke="#bdc1c2" stroke-width="2.3"/>
<circle cx="1300.0" cy="433.0" r="4.6" fill="none" stroke="#bdc1c2" stroke-width="2.3"/>
<circle cx="1314.0" cy="440.3" r="4.6" fill="none" stroke="#bdc1c2" stroke-width="2.3"/>
<circle cx="1323.6" cy="443.7" r="4.6" fill="none" stroke="#bdc1c2" stroke-width="2.3"/>
<circle cx="1330.4" cy="438.0" r="4.6" fill="none" stroke="#bdc1c2" stroke-width="2.3"/>
<circle cx="1333.3" cy="442.5" r="4.6" fill="none" stroke="#bdc1c2" stroke-width="2.3"/>
<circle cx="1352.5" cy="439.7" r="4.6" fill="none" stroke="#bdc1c2" stroke-width="2.3"/>
<circle cx="1359.3" cy="434.4" r="4.6" fill="none" stroke="#bdc1c2" stroke-width="2.3"/>
<circle cx="1369.5" cy="436.9" r="4.6" fill="none" stroke="#bdc1c2" stroke-width="2.3"/>
<circle cx="1367.3" cy="439.1" r="4.6" fill="none" stroke="#bdc1c2" stroke-width="2.3"/>
<circle cx="1348.6" cy="449.3" r="4.6" fill="none" stroke="#bdc1c2" stroke-width="2.3"/>
<circle cx="1369.5" cy="453.6" r="4.6" fill="none" stroke="#bdc1c2" stroke-width="2.3"/>
<circle cx="1378.6" cy="456.1" r="4.6" fill="none" stroke="#bdc1c2" stroke-width="2.3"/>
<circle cx="1348.8" cy="470.6" r="4.6" fill="none" stroke="#bdc1c2" stroke-width="2.3"/>
<circle cx="1434.4" cy="461.2" r="4.6" fill="none" stroke="#bdc1c2" stroke-width="2.3"/>
<rect x="1126.2" y="258.2" width="10.3" height="10.3" fill="#858788"/>
<rect x="1119.4" y="264.2" width="10.3" height="10.3" fill="#858788"/>
<rect x="1121.9" y="267.7" width="10.3" height="10.3" fill="#858788"/>
<rect x="1125.2" y="278.9" width="10.3" height="10.3" fill="#858788"/>
<rect x="1128.9" y="280.5" width="10.3" height="10.3" fill="#858788"/>
<rect x="1133.3" y="281.9" width="10.3" height="10.3" fill="#858788"/>
<rect x="1141.3" y="269.1" width="10.3" height="10.3" fill="#858788"/>
<rect x="1148.9" y="267.3" width="10.3" height="10.3" fill="#858788"/>
<rect x="1141.0" y="277.2" width="10.3" height="10.3" fill="#858788"/>
<rect x="1148.6" y="280.5" width="10.3" height="10.3" fill="#858788"/>
<rect x="1158.9" y="284.1" width="10.3" height="10.3" fill="#858788"/>
<rect x="1162.5" y="284.1" width="10.3" height="10.3" fill="#858788"/>
<rect x="1174.0" y="284.1" width="10.3" height="10.3" fill="#858788"/>
<rect x="1161.8" y="288.2" width="10.3" height="10.3" fill="#858788"/>
<rect x="1138.0" y="288.2" width="10.3" height="10.3" fill="#858788"/>
<rect x="1135.8" y="296.2" width="10.3" height="10.3" fill="#858788"/>
<rect x="1147.9" y="300.2" width="10.3" height="10.3" fill="#858788"/>
<rect x="1153.0" y="292.9" width="10.3" height="10.3" fill="#858788"/>
<rect x="1143.9" y="284.1" width="10.3" height="10.3" fill="#858788"/>
<rect x="1146.8" y="291.4" width="10.3" height="10.3" fill="#858788"/>
<rect x="1130.7" y="273.9" width="10.3" height="10.3" fill="#858788"/>
<rect x="1151.2" y="285.6" width="10.3" height="10.3" fill="#858788"/>
<rect x="1142.4" y="292.9" width="10.3" height="10.3" fill="#858788"/>
<rect x="1036.2" y="56" width="18.5" height="18.3" fill="#ed382e"/>
<polygon points="1046.0,87.1 1070.7,87.1 1070.7,95.0 1071.9,95.0 1071.9,103.3 1075.3,103.3 1075.3,123.8 1073.8,123.8 1073.8,132.6 1055.0,132.6 1055.0,130.7 1051.6,130.7 1051.6,122.8 1039.1,122.8 1039.1,104.5 1046.0,104.5" fill="#ed382e"/>
<line x1="932.96" y1="472.30" x2="932.96" y2="467.80" stroke="#000" stroke-width="2" />
<line x1="959.32" y1="472.30" x2="959.32" y2="467.80" stroke="#000" stroke-width="2" />
<line x1="985.68" y1="472.30" x2="985.68" y2="467.80" stroke="#000" stroke-width="2" />
<line x1="1012.04" y1="472.30" x2="1012.04" y2="467.80" stroke="#000" stroke-width="2" />
<line x1="1038.40" y1="472.30" x2="1038.40" y2="463.80" stroke="#000" stroke-width="2" />
<line x1="1064.76" y1="472.30" x2="1064.76" y2="467.80" stroke="#000" stroke-width="2" />
<line x1="1091.12" y1="472.30" x2="1091.12" y2="467.80" stroke="#000" stroke-width="2" />
<line x1="1117.48" y1="472.30" x2="1117.48" y2="467.80" stroke="#000" stroke-width="2" />
<line x1="1143.84" y1="472.30" x2="1143.84" y2="467.80" stroke="#000" stroke-width="2" />
<line x1="1170.20" y1="472.30" x2="1170.20" y2="463.80" stroke="#000" stroke-width="2" />
<line x1="1196.56" y1="472.30" x2="1196.56" y2="467.80" stroke="#000" stroke-width="2" />
<line x1="1222.92" y1="472.30" x2="1222.92" y2="467.80" stroke="#000" stroke-width="2" />
<line x1="1249.28" y1="472.30" x2="1249.28" y2="467.80" stroke="#000" stroke-width="2" />
<line x1="1275.64" y1="472.30" x2="1275.64" y2="467.80" stroke="#000" stroke-width="2" />
<line x1="1302.00" y1="472.30" x2="1302.00" y2="463.80" stroke="#000" stroke-width="2" />
<line x1="1328.36" y1="472.30" x2="1328.36" y2="467.80" stroke="#000" stroke-width="2" />
<line x1="1354.72" y1="472.30" x2="1354.72" y2="467.80" stroke="#000" stroke-width="2" />
<line x1="1381.08" y1="472.30" x2="1381.08" y2="467.80" stroke="#000" stroke-width="2" />
<line x1="1407.44" y1="472.30" x2="1407.44" y2="467.80" stroke="#000" stroke-width="2" />
<line x1="1433.80" y1="472.30" x2="1433.80" y2="463.80" stroke="#000" stroke-width="2" />
<line x1="1460.16" y1="472.30" x2="1460.16" y2="467.80" stroke="#000" stroke-width="2" />
<line x1="1486.52" y1="472.30" x2="1486.52" y2="467.80" stroke="#000" stroke-width="2" />
<line x1="906.60" y1="454.10" x2="911.10" y2="454.10" stroke="#000" stroke-width="2" />
<line x1="906.60" y1="435.91" x2="911.10" y2="435.91" stroke="#000" stroke-width="2" />
<line x1="906.60" y1="417.71" x2="911.10" y2="417.71" stroke="#000" stroke-width="2" />
<line x1="906.60" y1="399.52" x2="911.10" y2="399.52" stroke="#000" stroke-width="2" />
<line x1="906.60" y1="381.32" x2="915.60" y2="381.32" stroke="#000" stroke-width="2" />
<line x1="906.60" y1="363.12" x2="911.10" y2="363.12" stroke="#000" stroke-width="2" />
<line x1="906.60" y1="344.93" x2="911.10" y2="344.93" stroke="#000" stroke-width="2" />
<line x1="906.60" y1="326.73" x2="911.10" y2="326.73" stroke="#000" stroke-width="2" />
<line x1="906.60" y1="308.54" x2="911.10" y2="308.54" stroke="#000" stroke-width="2" />
<line x1="906.60" y1="290.34" x2="915.60" y2="290.34" stroke="#000" stroke-width="2" />
<line x1="906.60" y1="272.14" x2="911.10" y2="272.14" stroke="#000" stroke-width="2" />
<line x1="906.60" y1="253.95" x2="911.10" y2="253.95" stroke="#000" stroke-width="2" />
<line x1="906.60" y1="235.75" x2="911.10" y2="235.75" stroke="#000" stroke-width="2" />
<line x1="906.60" y1="217.56" x2="911.10" y2="217.56" stroke="#000" stroke-width="2" />
<line x1="906.60" y1="199.36" x2="915.60" y2="199.36" stroke="#000" stroke-width="2" />
<line x1="906.60" y1="181.16" x2="911.10" y2="181.16" stroke="#000" stroke-width="2" />
<line x1="906.60" y1="162.97" x2="911.10" y2="162.97" stroke="#000" stroke-width="2" />
<line x1="906.60" y1="144.77" x2="911.10" y2="144.77" stroke="#000" stroke-width="2" />
<line x1="906.60" y1="126.58" x2="911.10" y2="126.58" stroke="#000" stroke-width="2" />
<line x1="906.60" y1="108.38" x2="915.60" y2="108.38" stroke="#000" stroke-width="2" />
<line x1="906.60" y1="90.18" x2="911.10" y2="90.18" stroke="#000" stroke-width="2" />
<line x1="906.60" y1="71.99" x2="911.10" y2="71.99" stroke="#000" stroke-width="2" />
<line x1="906.60" y1="53.79" x2="911.10" y2="53.79" stroke="#000" stroke-width="2" />
<line x1="906.60" y1="35.60" x2="911.10" y2="35.60" stroke="#000" stroke-width="2" />
<rect x="906.6" y="17.4" width="592.2" height="454.9" fill="none" stroke="#000" stroke-width="2.8"/>
<text x="888.3" y="486.5" font-size="35" text-anchor="end" fill="#000" >10</text>
<text x="888.3" y="395.5" font-size="35" text-anchor="end" fill="#000" >20</text>
<text x="888.3" y="304.5" font-size="35" text-anchor="end" fill="#000" >30</text>
<text x="888.3" y="213.6" font-size="35" text-anchor="end" fill="#000" >40</text>
<text x="888.3" y="122.6" font-size="35" text-anchor="end" fill="#000" >50</text>
<text x="888.3" y="31.6" font-size="35" text-anchor="end" fill="#000" >60</text>
<text x="904.4" y="514.7" font-size="35" text-anchor="middle" fill="#000" >0</text>
<text x="1037.8" y="514.7" font-size="35" text-anchor="middle" fill="#000" >10</text>
<text x="1169.6" y="514.7" font-size="35" text-anchor="middle" fill="#000" >20</text>
<text x="1301.4" y="514.7" font-size="35" text-anchor="middle" fill="#000" >30</text>
<text x="1433.2" y="514.7" font-size="35" text-anchor="middle" fill="#000" >40</text>
<text transform="translate(819.1,293.5) rotate(-90)" font-size="40.5" textLength="77" lengthAdjust="spacingAndGlyphs">Sr/Y</text>
<text x="1130.9" y="559.4" font-size="40.5" fill="#000" >Y (ppm)</text>
<text x="958.9" y="385.8" font-size="31.2" fill="#2a4aa0" >Adakite field</text>
<text x="1155.3" y="181.0" font-size="26.5" fill="#e8592a" >High-SiO</text>
<text x="1263.3" y="180.1" font-size="12.8" fill="#e8592a" >2</text>
<text x="1279.2" y="181.0" font-size="26.5" fill="#e8592a" >adakite</text>
<text x="1155.3" y="211.8" font-size="26.5" fill="#e8592a" >(HSA) field</text>
<text x="1437.2" y="51.5" font-size="36.8" font-weight="bold" fill="#000" >(b)</text>
<polyline points="143.1,645.0 165.3,666.0 187.6,665.6 209.8,664.0 232.1,651.3 254.3,819.0 276.5,795.0 298.8,706.0 321.0,723.0 343.3,724.0 365.5,757.5 387.7,708.3 410.0,779.7 432.2,825.1 454.5,775.6 476.7,796.7 498.9,842.9 521.2,854.2 543.4,871.3 565.7,878.2 587.9,899.6 610.1,890.0 632.4,889.8 654.6,891.5 676.9,890.0 699.1,887.5" fill="none" stroke="#86888a" stroke-width="1.9" stroke-linejoin="round"/>
<polyline points="143.1,668.0 165.3,668.6 187.6,665.0 209.8,666.6 232.1,653.8 254.3,819.2 276.5,795.7 298.8,706.0 321.0,723.0 343.3,724.0 365.5,758.8 387.7,709.0 410.0,779.7 432.2,824.8 454.5,775.8 476.7,796.7 498.9,844.8 521.2,853.9 543.4,870.9 565.7,879.7 587.9,898.1 610.1,892.7 632.4,890.0 654.6,891.5 676.9,893.0 699.1,887.5" fill="none" stroke="#86888a" stroke-width="1.9" stroke-linejoin="round"/>
<polyline points="143.1,675.3 165.3,669.3 187.6,665.1 209.8,667.5 232.1,651.0 254.3,820.8 276.5,796.8 298.8,707.9 321.0,728.1 343.3,725.8 365.5,759.6 387.7,711.1 410.0,781.4 432.2,825.1 454.5,776.6 476.7,797.2 498.9,844.1 521.2,854.6 543.4,870.9 565.7,881.6 587.9,899.8 610.1,894.1 632.4,891.4 654.6,892.2 676.9,891.1 699.1,889.9" fill="none" stroke="#86888a" stroke-width="1.9" stroke-linejoin="round"/>
<polyline points="143.1,669.7 165.3,668.7 187.6,665.9 209.8,665.6 232.1,651.9 254.3,821.7 276.5,795.5 298.8,707.3 321.0,742.0 343.3,733.4 365.5,758.0 387.7,711.4 410.0,782.0 432.2,827.9 454.5,776.8 476.7,797.2 498.9,844.0 521.2,854.3 543.4,873.0 565.7,883.8 587.9,902.4 610.1,890.9 632.4,889.1 654.6,892.8 676.9,891.3 699.1,889.8" fill="none" stroke="#86888a" stroke-width="1.9" stroke-linejoin="round"/>
<polyline points="143.1,689.1 165.3,668.6 187.6,665.9 209.8,670.3 232.1,656.3 254.3,821.7 276.5,798.4 298.8,710.0 321.0,728.2 343.3,732.7 365.5,760.9 387.7,710.0 410.0,784.1 432.2,828.3 454.5,777.1 476.7,797.3 498.9,845.6 521.2,855.1 543.4,872.6 565.7,883.4 587.9,898.5 610.1,891.4 632.4,890.1 654.6,893.3 676.9,892.6 699.1,888.7" fill="none" stroke="#86888a" stroke-width="1.9" stroke-linejoin="round"/>
<polyline points="143.1,678.5 165.3,668.9 187.6,667.1 209.8,671.6 232.1,654.8 254.3,823.3 276.5,797.9 298.8,708.4 321.0,727.6 343.3,731.8 365.5,760.4 387.7,711.6 410.0,784.6 432.2,830.1 454.5,776.8 476.7,797.2 498.9,844.9 521.2,854.5 543.4,874.7 565.7,882.2 587.9,903.7 610.1,892.7 632.4,890.1 654.6,897.7 676.9,894.3 699.1,890.0" fill="none" stroke="#86888a" stroke-width="1.9" stroke-linejoin="round"/>
<polyline points="143.1,697.3 165.3,669.2 187.6,669.5 209.8,679.4 232.1,663.9 254.3,823.3 276.5,797.4 298.8,710.1 321.0,728.2 343.3,738.0 365.5,761.7 387.7,716.8 410.0,783.3 432.2,827.4 454.5,777.5 476.7,797.6 498.9,850.2 521.2,858.9 543.4,878.1 565.7,886.2 587.9,901.4 610.1,895.3 632.4,892.6 654.6,894.3 676.9,892.8 699.1,891.3" fill="none" stroke="#86888a" stroke-width="1.9" stroke-linejoin="round"/>
<polyline points="143.1,694.6 165.3,673.7 187.6,672.0 209.8,676.0 232.1,666.1 254.3,824.9 276.5,800.0 298.8,710.9 321.0,729.9 343.3,734.3 365.5,761.1 387.7,714.4 410.0,785.1 432.2,831.4 454.5,777.8 476.7,797.4 498.9,850.1 521.2,859.8 543.4,875.3 565.7,886.8 587.9,906.1 610.1,897.4 632.4,895.5 654.6,897.2 676.9,894.3 699.1,894.4" fill="none" stroke="#86888a" stroke-width="1.9" stroke-linejoin="round"/>
<polyline points="143.1,701.2 165.3,675.2 187.6,672.8 209.8,677.2 232.1,663.0 254.3,825.4 276.5,799.8 298.8,710.8 321.0,730.5 343.3,735.4 365.5,764.4 387.7,719.3 410.0,784.0 432.2,831.9 454.5,778.2 476.7,797.7 498.9,849.4 521.2,859.4 543.4,876.4 565.7,884.0 587.9,907.4 610.1,897.7 632.4,895.3 654.6,900.1 676.9,896.3 699.1,895.6" fill="none" stroke="#86888a" stroke-width="1.9" stroke-linejoin="round"/>
<polyline points="143.1,718.7 165.3,673.1 187.6,670.6 209.8,678.0 232.1,663.2 254.3,824.8 276.5,799.0 298.8,712.7 321.0,731.8 343.3,745.1 365.5,763.0 387.7,718.2 410.0,786.4 432.2,833.1 454.5,777.7 476.7,797.9 498.9,851.3 521.2,860.3 543.4,879.4 565.7,885.1 587.9,905.5 610.1,896.3 632.4,893.6 654.6,900.3 676.9,895.9 699.1,894.6" fill="none" stroke="#86888a" stroke-width="1.9" stroke-linejoin="round"/>
<polyline points="143.1,720.8 165.3,675.9 187.6,671.7 209.8,682.0 232.1,667.6 254.3,826.0 276.5,799.1 298.8,714.1 321.0,733.9 343.3,740.4 365.5,765.3 387.7,719.7 410.0,787.0 432.2,833.3 454.5,778.6 476.7,797.8 498.9,852.9 521.2,861.0 543.4,880.2 565.7,890.2 587.9,906.5 610.1,898.9 632.4,896.8 654.6,901.8 676.9,899.2 699.1,897.2" fill="none" stroke="#86888a" stroke-width="1.9" stroke-linejoin="round"/>
<polyline points="143.1,731.1 165.3,675.3 187.6,673.4 209.8,688.0 232.1,671.7 254.3,824.5 276.5,799.6 298.8,714.4 321.0,733.9 343.3,741.9 365.5,763.3 387.7,721.8 410.0,788.6 432.2,834.8 454.5,777.9 476.7,798.0 498.9,854.2 521.2,860.1 543.4,883.0 565.7,893.0 587.9,906.2 610.1,901.7 632.4,897.3 654.6,900.5 676.9,901.3 699.1,897.8" fill="none" stroke="#86888a" stroke-width="1.9" stroke-linejoin="round"/>
<polyline points="143.1,715.6 165.3,677.1 187.6,673.9 209.8,683.8 232.1,667.6 254.3,825.7 276.5,801.9 298.8,713.3 321.0,738.5 343.3,745.8 365.5,763.8 387.7,720.8 410.0,788.7 432.2,833.8 454.5,778.0 476.7,798.3 498.9,855.9 521.2,865.1 543.4,880.0 565.7,889.8 587.9,906.3 610.1,901.8 632.4,897.6 654.6,899.7 676.9,899.6 699.1,899.0" fill="none" stroke="#86888a" stroke-width="1.9" stroke-linejoin="round"/>
<polyline points="143.1,737.3 165.3,677.2 187.6,673.2 209.8,691.3 232.1,672.5 254.3,827.6 276.5,800.6 298.8,714.3 321.0,740.7 343.3,747.5 365.5,764.7 387.7,725.7 410.0,789.4 432.2,836.0 454.5,778.3 476.7,798.3 498.9,852.9 521.2,865.5 543.4,882.7 565.7,891.4 587.9,910.0 610.1,903.4 632.4,898.4 654.6,900.5 676.9,900.9 699.1,896.8" fill="none" stroke="#86888a" stroke-width="1.9" stroke-linejoin="round"/>
<polyline points="143.1,723.6 165.3,677.6 187.6,673.5 209.8,686.0 232.1,671.9 254.3,826.9 276.5,803.1 298.8,716.0 321.0,740.7 343.3,746.8 365.5,766.4 387.7,721.1 410.0,788.6 432.2,833.2 454.5,779.4 476.7,798.3 498.9,854.6 521.2,864.5 543.4,886.1 565.7,891.1 587.9,912.4 610.1,901.8 632.4,900.5 654.6,904.6 676.9,901.1 699.1,898.8" fill="none" stroke="#86888a" stroke-width="1.9" stroke-linejoin="round"/>
<polyline points="143.1,743.3 165.3,682.9 187.6,675.4 209.8,694.0 232.1,677.0 254.3,828.6 276.5,802.6 298.8,717.1 321.0,738.8 343.3,748.2 365.5,766.0 387.7,726.8 410.0,789.4 432.2,834.7 454.5,778.7 476.7,798.5 498.9,859.4 521.2,866.3 543.4,883.7 565.7,893.0 587.9,910.6 610.1,902.8 632.4,899.7 654.6,903.6 676.9,901.3 699.1,901.6" fill="none" stroke="#86888a" stroke-width="1.9" stroke-linejoin="round"/>
<polyline points="143.1,755.4 165.3,681.6 187.6,675.8 209.8,697.1 232.1,675.0 254.3,828.3 276.5,801.9 298.8,718.0 321.0,743.0 343.3,753.9 365.5,767.2 387.7,726.4 410.0,789.1 432.2,836.1 454.5,779.0 476.7,798.4 498.9,855.8 521.2,864.0 543.4,884.7 565.7,894.0 587.9,913.1 610.1,904.1 632.4,903.5 654.6,905.4 676.9,904.2 699.1,902.1" fill="none" stroke="#86888a" stroke-width="1.9" stroke-linejoin="round"/>
<polyline points="143.1,745.0 165.3,681.3 187.6,679.5 209.8,690.9 232.1,680.3 254.3,829.8 276.5,802.6 298.8,720.8 321.0,747.2 343.3,757.1 365.5,769.8 387.7,729.5 410.0,790.3 432.2,838.1 454.5,779.8 476.7,798.7 498.9,861.0 521.2,868.9 543.4,887.1 565.7,899.0 587.9,914.6 610.1,905.7 632.4,901.8 654.6,903.4 676.9,902.4 699.1,900.6" fill="none" stroke="#86888a" stroke-width="1.9" stroke-linejoin="round"/>
<polyline points="143.1,742.3 165.3,685.0 187.6,678.5 209.8,697.3 232.1,681.1 254.3,830.6 276.5,804.4 298.8,717.9 321.0,747.8 343.3,760.2 365.5,769.6 387.7,728.9 410.0,793.1 432.2,836.8 454.5,780.4 476.7,798.5 498.9,858.0 521.2,867.0 543.4,888.7 565.7,896.0 587.9,915.9 610.1,907.9 632.4,904.0 654.6,905.8 676.9,904.8 699.1,902.8" fill="none" stroke="#86888a" stroke-width="1.9" stroke-linejoin="round"/>
<polyline points="143.1,764.1 165.3,684.8 187.6,679.6 209.8,693.7 232.1,678.4 254.3,829.7 276.5,805.6 298.8,720.0 321.0,747.4 343.3,754.5 365.5,768.7 387.7,728.3 410.0,793.8 432.2,840.6 454.5,780.5 476.7,798.6 498.9,861.5 521.2,868.9 543.4,888.3 565.7,896.6 587.9,917.7 610.1,905.1 632.4,907.3 654.6,909.2 676.9,903.5 699.1,902.6" fill="none" stroke="#86888a" stroke-width="1.9" stroke-linejoin="round"/>
<polyline points="143.1,770.2 165.3,687.6 187.6,679.6 209.8,697.4 232.1,680.6 254.3,832.7 276.5,804.6 298.8,722.0 321.0,745.7 343.3,761.6 365.5,772.7 387.7,728.6 410.0,795.1 432.2,840.6 454.5,781.1 476.7,799.0 498.9,860.9 521.2,872.0 543.4,889.4 565.7,897.1 587.9,913.9 610.1,907.4 632.4,905.6 654.6,907.1 676.9,904.9 699.1,902.9" fill="none" stroke="#86888a" stroke-width="1.9" stroke-linejoin="round"/>
<polyline points="143.1,760.0 165.3,687.9 187.6,678.5 209.8,703.9 232.1,687.8 254.3,830.5 276.5,807.0 298.8,723.4 321.0,752.0 343.3,761.1 365.5,771.2 387.7,731.4 410.0,796.0 432.2,841.8 454.5,780.6 476.7,798.9 498.9,862.1 521.2,868.7 543.4,888.3 565.7,903.0 587.9,916.4 610.1,910.0 632.4,905.5 654.6,907.8 676.9,907.4 699.1,903.0" fill="none" stroke="#86888a" stroke-width="1.9" stroke-linejoin="round"/>
<polyline points="143.1,770.0 165.3,688.0 187.6,682.0 209.8,705.0 232.1,687.6 254.3,833.0 276.5,807.0 298.8,723.4 321.0,752.0 343.3,760.0 365.5,773.0 387.7,732.9 410.0,796.0 432.2,842.9 454.5,780.8 476.7,798.8 498.9,865.4 521.2,869.9 543.4,891.1 565.7,901.2 587.9,917.4 610.1,910.0 632.4,908.5 654.6,908.6 676.9,908.9 699.1,904.3" fill="none" stroke="#86888a" stroke-width="1.9" stroke-linejoin="round"/>
<polyline points="143.1,784.8 165.3,687.4 187.6,680.6 209.8,716.0 232.1,685.4 254.3,833.0 276.5,807.0 298.8,722.8 321.0,752.0 343.3,767.0 365.5,772.8 387.7,732.1 410.0,794.8 432.2,841.2 454.5,781.1 476.7,799.0 498.9,863.9 521.2,871.5 543.4,892.2 565.7,903.2 587.9,919.5 610.1,909.6 632.4,908.1 654.6,910.5 676.9,908.4 699.1,905.3" fill="none" stroke="#86888a" stroke-width="1.9" stroke-linejoin="round"/>
<rect x="139.6" y="641.5" width="7" height="7" fill="#86888a"/>
<rect x="161.8" y="662.5" width="7" height="7" fill="#86888a"/>
<rect x="184.1" y="662.1" width="7" height="7" fill="#86888a"/>
<rect x="206.3" y="660.5" width="7" height="7" fill="#86888a"/>
<rect x="228.6" y="647.8" width="7" height="7" fill="#86888a"/>
<rect x="250.8" y="815.5" width="7" height="7" fill="#86888a"/>
<rect x="273.0" y="791.5" width="7" height="7" fill="#86888a"/>
<rect x="295.3" y="702.5" width="7" height="7" fill="#86888a"/>
<rect x="317.5" y="719.5" width="7" height="7" fill="#86888a"/>
<rect x="339.8" y="720.5" width="7" height="7" fill="#86888a"/>
<rect x="362.0" y="754.0" width="7" height="7" fill="#86888a"/>
<rect x="384.2" y="704.8" width="7" height="7" fill="#86888a"/>
<rect x="406.5" y="776.2" width="7" height="7" fill="#86888a"/>
<rect x="428.7" y="821.6" width="7" height="7" fill="#86888a"/>
<rect x="451.0" y="772.1" width="7" height="7" fill="#86888a"/>
<rect x="473.2" y="793.2" width="7" height="7" fill="#86888a"/>
<rect x="495.4" y="839.4" width="7" height="7" fill="#86888a"/>
<rect x="517.7" y="850.7" width="7" height="7" fill="#86888a"/>
<rect x="539.9" y="867.8" width="7" height="7" fill="#86888a"/>
<rect x="562.2" y="874.7" width="7" height="7" fill="#86888a"/>
<rect x="584.4" y="896.1" width="7" height="7" fill="#86888a"/>
<rect x="606.6" y="886.5" width="7" height="7" fill="#86888a"/>
<rect x="628.9" y="886.3" width="7" height="7" fill="#86888a"/>
<rect x="651.1" y="888.0" width="7" height="7" fill="#86888a"/>
<rect x="673.4" y="886.5" width="7" height="7" fill="#86888a"/>
<rect x="695.6" y="884.0" width="7" height="7" fill="#86888a"/>
<rect x="139.6" y="664.5" width="7" height="7" fill="#86888a"/>
<rect x="161.8" y="665.1" width="7" height="7" fill="#86888a"/>
<rect x="184.1" y="661.5" width="7" height="7" fill="#86888a"/>
<rect x="206.3" y="663.1" width="7" height="7" fill="#86888a"/>
<rect x="228.6" y="650.3" width="7" height="7" fill="#86888a"/>
<rect x="250.8" y="815.7" width="7" height="7" fill="#86888a"/>
<rect x="273.0" y="792.2" width="7" height="7" fill="#86888a"/>
<rect x="295.3" y="702.5" width="7" height="7" fill="#86888a"/>
<rect x="317.5" y="719.5" width="7" height="7" fill="#86888a"/>
<rect x="339.8" y="720.5" width="7" height="7" fill="#86888a"/>
<rect x="362.0" y="755.3" width="7" height="7" fill="#86888a"/>
<rect x="384.2" y="705.5" width="7" height="7" fill="#86888a"/>
<rect x="406.5" y="776.2" width="7" height="7" fill="#86888a"/>
<rect x="428.7" y="821.3" width="7" height="7" fill="#86888a"/>
<rect x="451.0" y="772.3" width="7" height="7" fill="#86888a"/>
<rect x="473.2" y="793.2" width="7" height="7" fill="#86888a"/>
<rect x="495.4" y="841.3" width="7" height="7" fill="#86888a"/>
<rect x="517.7" y="850.4" width="7" height="7" fill="#86888a"/>
<rect x="539.9" y="867.4" width="7" height="7" fill="#86888a"/>
<rect x="562.2" y="876.2" width="7" height="7" fill="#86888a"/>
<rect x="584.4" y="894.6" width="7" height="7" fill="#86888a"/>
<rect x="606.6" y="889.2" width="7" height="7" fill="#86888a"/>
<rect x="628.9" y="886.5" width="7" height="7" fill="#86888a"/>
<rect x="651.1" y="888.0" width="7" height="7" fill="#86888a"/>
<rect x="673.4" y="889.5" width="7" height="7" fill="#86888a"/>
<rect x="695.6" y="884.0" width="7" height="7" fill="#86888a"/>
<rect x="139.6" y="671.8" width="7" height="7" fill="#86888a"/>
<rect x="161.8" y="665.8" width="7" height="7" fill="#86888a"/>
<rect x="184.1" y="661.6" width="7" height="7" fill="#86888a"/>
<rect x="206.3" y="664.0" width="7" height="7" fill="#86888a"/>
<rect x="228.6" y="647.5" width="7" height="7" fill="#86888a"/>
<rect x="250.8" y="817.3" width="7" height="7" fill="#86888a"/>
<rect x="273.0" y="793.3" width="7" height="7" fill="#86888a"/>
<rect x="295.3" y="704.4" width="7" height="7" fill="#86888a"/>
<rect x="317.5" y="724.6" width="7" height="7" fill="#86888a"/>
<rect x="339.8" y="722.3" width="7" height="7" fill="#86888a"/>
<rect x="362.0" y="756.1" width="7" height="7" fill="#86888a"/>
<rect x="384.2" y="707.6" width="7" height="7" fill="#86888a"/>
<rect x="406.5" y="777.9" width="7" height="7" fill="#86888a"/>
<rect x="428.7" y="821.6" width="7" height="7" fill="#86888a"/>
<rect x="451.0" y="773.1" width="7" height="7" fill="#86888a"/>
<rect x="473.2" y="793.7" width="7" height="7" fill="#86888a"/>
<rect x="495.4" y="840.6" width="7" height="7" fill="#86888a"/>
<rect x="517.7" y="851.1" width="7" height="7" fill="#86888a"/>
<rect x="539.9" y="867.4" width="7" height="7" fill="#86888a"/>
<rect x="562.2" y="878.1" width="7" height="7" fill="#86888a"/>
<rect x="584.4" y="896.3" width="7" height="7" fill="#86888a"/>
<rect x="606.6" y="890.6" width="7" height="7" fill="#86888a"/>
<rect x="628.9" y="887.9" width="7" height="7" fill="#86888a"/>
<rect x="651.1" y="888.7" width="7" height="7" fill="#86888a"/>
<rect x="673.4" y="887.6" width="7" height="7" fill="#86888a"/>
<rect x="695.6" y="886.4" width="7" height="7" fill="#86888a"/>
<rect x="139.6" y="666.2" width="7" height="7" fill="#86888a"/>
<rect x="161.8" y="665.2" width="7" height="7" fill="#86888a"/>
<rect x="184.1" y="662.4" width="7" height="7" fill="#86888a"/>
<rect x="206.3" y="662.1" width="7" height="7" fill="#86888a"/>
<rect x="228.6" y="648.4" width="7" height="7" fill="#86888a"/>
<rect x="250.8" y="818.2" width="7" height="7" fill="#86888a"/>
<rect x="273.0" y="792.0" width="7" height="7" fill="#86888a"/>
<rect x="295.3" y="703.8" width="7" height="7" fill="#86888a"/>
<rect x="317.5" y="738.5" width="7" height="7" fill="#86888a"/>
<rect x="339.8" y="729.9" width="7" height="7" fill="#86888a"/>
<rect x="362.0" y="754.5" width="7" height="7" fill="#86888a"/>
<rect x="384.2" y="707.9" width="7" height="7" fill="#86888a"/>
<rect x="406.5" y="778.5" width="7" height="7" fill="#86888a"/>
<rect x="428.7" y="824.4" width="7" height="7" fill="#86888a"/>
<rect x="451.0" y="773.3" width="7" height="7" fill="#86888a"/>
<rect x="473.2" y="793.7" width="7" height="7" fill="#86888a"/>
<rect x="495.4" y="840.5" width="7" height="7" fill="#86888a"/>
<rect x="517.7" y="850.8" width="7" height="7" fill="#86888a"/>
<rect x="539.9" y="869.5" width="7" height="7" fill="#86888a"/>
<rect x="562.2" y="880.3" width="7" height="7" fill="#86888a"/>
<rect x="584.4" y="898.9" width="7" height="7" fill="#86888a"/>
<rect x="606.6" y="887.4" width="7" height="7" fill="#86888a"/>
<rect x="628.9" y="885.6" width="7" height="7" fill="#86888a"/>
<rect x="651.1" y="889.3" width="7" height="7" fill="#86888a"/>
<rect x="673.4" y="887.8" width="7" height="7" fill="#86888a"/>
<rect x="695.6" y="886.3" width="7" height="7" fill="#86888a"/>
<rect x="139.6" y="685.6" width="7" height="7" fill="#86888a"/>
<rect x="161.8" y="665.1" width="7" height="7" fill="#86888a"/>
<rect x="184.1" y="662.4" width="7" height="7" fill="#86888a"/>
<rect x="206.3" y="666.8" width="7" height="7" fill="#86888a"/>
<rect x="228.6" y="652.8" width="7" height="7" fill="#86888a"/>
<rect x="250.8" y="818.2" width="7" height="7" fill="#86888a"/>
<rect x="273.0" y="794.9" width="7" height="7" fill="#86888a"/>
<rect x="295.3" y="706.5" width="7" height="7" fill="#86888a"/>
<rect x="317.5" y="724.7" width="7" height="7" fill="#86888a"/>
<rect x="339.8" y="729.2" width="7" height="7" fill="#86888a"/>
<rect x="362.0" y="757.4" width="7" height="7" fill="#86888a"/>
<rect x="384.2" y="706.5" width="7" height="7" fill="#86888a"/>
<rect x="406.5" y="780.6" width="7" height="7" fill="#86888a"/>
<rect x="428.7" y="824.8" width="7" height="7" fill="#86888a"/>
<rect x="451.0" y="773.6" width="7" height="7" fill="#86888a"/>
<rect x="473.2" y="793.8" width="7" height="7" fill="#86888a"/>
<rect x="495.4" y="842.1" width="7" height="7" fill="#86888a"/>
<rect x="517.7" y="851.6" width="7" height="7" fill="#86888a"/>
<rect x="539.9" y="869.1" width="7" height="7" fill="#86888a"/>
<rect x="562.2" y="879.9" width="7" height="7" fill="#86888a"/>
<rect x="584.4" y="895.0" width="7" height="7" fill="#86888a"/>
<rect x="606.6" y="887.9" width="7" height="7" fill="#86888a"/>
<rect x="628.9" y="886.6" width="7" height="7" fill="#86888a"/>
<rect x="651.1" y="889.8" width="7" height="7" fill="#86888a"/>
<rect x="673.4" y="889.1" width="7" height="7" fill="#86888a"/>
<rect x="695.6" y="885.2" width="7" height="7" fill="#86888a"/>
<rect x="139.6" y="675.0" width="7" height="7" fill="#86888a"/>
<rect x="161.8" y="665.4" width="7" height="7" fill="#86888a"/>
<rect x="184.1" y="663.6" width="7" height="7" fill="#86888a"/>
<rect x="206.3" y="668.1" width="7" height="7" fill="#86888a"/>
<rect x="228.6" y="651.3" width="7" height="7" fill="#86888a"/>
<rect x="250.8" y="819.8" width="7" height="7" fill="#86888a"/>
<rect x="273.0" y="794.4" width="7" height="7" fill="#86888a"/>
<rect x="295.3" y="704.9" width="7" height="7" fill="#86888a"/>
<rect x="317.5" y="724.1" width="7" height="7" fill="#86888a"/>
<rect x="339.8" y="728.3" width="7" height="7" fill="#86888a"/>
<rect x="362.0" y="756.9" width="7" height="7" fill="#86888a"/>
<rect x="384.2" y="708.1" width="7" height="7" fill="#86888a"/>
<rect x="406.5" y="781.1" width="7" height="7" fill="#86888a"/>
<rect x="428.7" y="826.6" width="7" height="7" fill="#86888a"/>
<rect x="451.0" y="773.3" width="7" height="7" fill="#86888a"/>
<rect x="473.2" y="793.7" width="7" height="7" fill="#86888a"/>
<rect x="495.4" y="841.4" width="7" height="7" fill="#86888a"/>
<rect x="517.7" y="851.0" width="7" height="7" fill="#86888a"/>
<rect x="539.9" y="871.2" width="7" height="7" fill="#86888a"/>
<rect x="562.2" y="878.7" width="7" height="7" fill="#86888a"/>
<rect x="584.4" y="900.2" width="7" height="7" fill="#86888a"/>
<rect x="606.6" y="889.2" width="7" height="7" fill="#86888a"/>
<rect x="628.9" y="886.6" width="7" height="7" fill="#86888a"/>
<rect x="651.1" y="894.2" width="7" height="7" fill="#86888a"/>
<rect x="673.4" y="890.8" width="7" height="7" fill="#86888a"/>
<rect x="695.6" y="886.5" width="7" height="7" fill="#86888a"/>
<rect x="139.6" y="693.8" width="7" height="7" fill="#86888a"/>
<rect x="161.8" y="665.7" width="7" height="7" fill="#86888a"/>
<rect x="184.1" y="666.0" width="7" height="7" fill="#86888a"/>
<rect x="206.3" y="675.9" width="7" height="7" fill="#86888a"/>
<rect x="228.6" y="660.4" width="7" height="7" fill="#86888a"/>
<rect x="250.8" y="819.8" width="7" height="7" fill="#86888a"/>
<rect x="273.0" y="793.9" width="7" height="7" fill="#86888a"/>
<rect x="295.3" y="706.6" width="7" height="7" fill="#86888a"/>
<rect x="317.5" y="724.7" width="7" height="7" fill="#86888a"/>
<rect x="339.8" y="734.5" width="7" height="7" fill="#86888a"/>
<rect x="362.0" y="758.2" width="7" height="7" fill="#86888a"/>
<rect x="384.2" y="713.3" width="7" height="7" fill="#86888a"/>
<rect x="406.5" y="779.8" width="7" height="7" fill="#86888a"/>
<rect x="428.7" y="823.9" width="7" height="7" fill="#86888a"/>
<rect x="451.0" y="774.0" width="7" height="7" fill="#86888a"/>
<rect x="473.2" y="794.1" width="7" height="7" fill="#86888a"/>
<rect x="495.4" y="846.7" width="7" height="7" fill="#86888a"/>
<rect x="517.7" y="855.4" width="7" height="7" fill="#86888a"/>
<rect x="539.9" y="874.6" width="7" height="7" fill="#86888a"/>
<rect x="562.2" y="882.7" width="7" height="7" fill="#86888a"/>
<rect x="584.4" y="897.9" width="7" height="7" fill="#86888a"/>
<rect x="606.6" y="891.8" width="7" height="7" fill="#86888a"/>
<rect x="628.9" y="889.1" width="7" height="7" fill="#86888a"/>
<rect x="651.1" y="890.8" width="7" height="7" fill="#86888a"/>
<rect x="673.4" y="889.3" width="7" height="7" fill="#86888a"/>
<rect x="695.6" y="887.8" width="7" height="7" fill="#86888a"/>
<rect x="139.6" y="691.1" width="7" height="7" fill="#86888a"/>
<rect x="161.8" y="670.2" width="7" height="7" fill="#86888a"/>
<rect x="184.1" y="668.5" width="7" height="7" fill="#86888a"/>
<rect x="206.3" y="672.5" width="7" height="7" fill="#86888a"/>
<rect x="228.6" y="662.6" width="7" height="7" fill="#86888a"/>
<rect x="250.8" y="821.4" width="7" height="7" fill="#86888a"/>
<rect x="273.0" y="796.5" width="7" height="7" fill="#86888a"/>
<rect x="295.3" y="707.4" width="7" height="7" fill="#86888a"/>
<rect x="317.5" y="726.4" width="7" height="7" fill="#86888a"/>
<rect x="339.8" y="730.8" width="7" height="7" fill="#86888a"/>
<rect x="362.0" y="757.6" width="7" height="7" fill="#86888a"/>
<rect x="384.2" y="710.9" width="7" height="7" fill="#86888a"/>
<rect x="406.5" y="781.6" width="7" height="7" fill="#86888a"/>
<rect x="428.7" y="827.9" width="7" height="7" fill="#86888a"/>
<rect x="451.0" y="774.3" width="7" height="7" fill="#86888a"/>
<rect x="473.2" y="793.9" width="7" height="7" fill="#86888a"/>
<rect x="495.4" y="846.6" width="7" height="7" fill="#86888a"/>
<rect x="517.7" y="856.3" width="7" height="7" fill="#86888a"/>
<rect x="539.9" y="871.8" width="7" height="7" fill="#86888a"/>
<rect x="562.2" y="883.3" width="7" height="7" fill="#86888a"/>
<rect x="584.4" y="902.6" width="7" height="7" fill="#86888a"/>
<rect x="606.6" y="893.9" width="7" height="7" fill="#86888a"/>
<rect x="628.9" y="892.0" width="7" height="7" fill="#86888a"/>
<rect x="651.1" y="893.7" width="7" height="7" fill="#86888a"/>
<rect x="673.4" y="890.8" width="7" height="7" fill="#86888a"/>
<rect x="695.6" y="890.9" width="7" height="7" fill="#86888a"/>
<rect x="139.6" y="697.7" width="7" height="7" fill="#86888a"/>
<rect x="161.8" y="671.7" width="7" height="7" fill="#86888a"/>
<rect x="184.1" y="669.3" width="7" height="7" fill="#86888a"/>
<rect x="206.3" y="673.7" width="7" height="7" fill="#86888a"/>
<rect x="228.6" y="659.5" width="7" height="7" fill="#86888a"/>
<rect x="250.8" y="821.9" width="7" height="7" fill="#86888a"/>
<rect x="273.0" y="796.3" width="7" height="7" fill="#86888a"/>
<rect x="295.3" y="707.3" width="7" height="7" fill="#86888a"/>
<rect x="317.5" y="727.0" width="7" height="7" fill="#86888a"/>
<rect x="339.8" y="731.9" width="7" height="7" fill="#86888a"/>
<rect x="362.0" y="760.9" width="7" height="7" fill="#86888a"/>
<rect x="384.2" y="715.8" width="7" height="7" fill="#86888a"/>
<rect x="406.5" y="780.5" width="7" height="7" fill="#86888a"/>
<rect x="428.7" y="828.4" width="7" height="7" fill="#86888a"/>
<rect x="451.0" y="774.7" width="7" height="7" fill="#86888a"/>
<rect x="473.2" y="794.2" width="7" height="7" fill="#86888a"/>
<rect x="495.4" y="845.9" width="7" height="7" fill="#86888a"/>
<rect x="517.7" y="855.9" width="7" height="7" fill="#86888a"/>
<rect x="539.9" y="872.9" width="7" height="7" fill="#86888a"/>
<rect x="562.2" y="880.5" width="7" height="7" fill="#86888a"/>
<rect x="584.4" y="903.9" width="7" height="7" fill="#86888a"/>
<rect x="606.6" y="894.2" width="7" height="7" fill="#86888a"/>
<rect x="628.9" y="891.8" width="7" height="7" fill="#86888a"/>
<rect x="651.1" y="896.6" width="7" height="7" fill="#86888a"/>
<rect x="673.4" y="892.8" width="7" height="7" fill="#86888a"/>
<rect x="695.6" y="892.1" width="7" height="7" fill="#86888a"/>
<rect x="139.6" y="715.2" width="7" height="7" fill="#86888a"/>
<rect x="161.8" y="669.6" width="7" height="7" fill="#86888a"/>
<rect x="184.1" y="667.1" width="7" height="7" fill="#86888a"/>
<rect x="206.3" y="674.5" width="7" height="7" fill="#86888a"/>
<rect x="228.6" y="659.7" width="7" height="7" fill="#86888a"/>
<rect x="250.8" y="821.3" width="7" height="7" fill="#86888a"/>
<rect x="273.0" y="795.5" width="7" height="7" fill="#86888a"/>
<rect x="295.3" y="709.2" width="7" height="7" fill="#86888a"/>
<rect x="317.5" y="728.3" width="7" height="7" fill="#86888a"/>
<rect x="339.8" y="741.6" width="7" height="7" fill="#86888a"/>
<rect x="362.0" y="759.5" width="7" height="7" fill="#86888a"/>
<rect x="384.2" y="714.7" width="7" height="7" fill="#86888a"/>
<rect x="406.5" y="782.9" width="7" height="7" fill="#86888a"/>
<rect x="428.7" y="829.6" width="7" height="7" fill="#86888a"/>
<rect x="451.0" y="774.2" width="7" height="7" fill="#86888a"/>
<rect x="473.2" y="794.4" width="7" height="7" fill="#86888a"/>
<rect x="495.4" y="847.8" width="7" height="7" fill="#86888a"/>
<rect x="517.7" y="856.8" width="7" height="7" fill="#86888a"/>
<rect x="539.9" y="875.9" width="7" height="7" fill="#86888a"/>
<rect x="562.2" y="881.6" width="7" height="7" fill="#86888a"/>
<rect x="584.4" y="902.0" width="7" height="7" fill="#86888a"/>
<rect x="606.6" y="892.8" width="7" height="7" fill="#86888a"/>
<rect x="628.9" y="890.1" width="7" height="7" fill="#86888a"/>
<rect x="651.1" y="896.8" width="7" height="7" fill="#86888a"/>
<rect x="673.4" y="892.4" width="7" height="7" fill="#86888a"/>
<rect x="695.6" y="891.1" width="7" height="7" fill="#86888a"/>
<rect x="139.6" y="717.3" width="7" height="7" fill="#86888a"/>
<rect x="161.8" y="672.4" width="7" height="7" fill="#86888a"/>
<rect x="184.1" y="668.2" width="7" height="7" fill="#86888a"/>
<rect x="206.3" y="678.5" width="7" height="7" fill="#86888a"/>
<rect x="228.6" y="664.1" width="7" height="7" fill="#86888a"/>
<rect x="250.8" y="822.5" width="7" height="7" fill="#86888a"/>
<rect x="273.0" y="795.6" width="7" height="7" fill="#86888a"/>
<rect x="295.3" y="710.6" width="7" height="7" fill="#86888a"/>
<rect x="317.5" y="730.4" width="7" height="7" fill="#86888a"/>
<rect x="339.8" y="736.9" width="7" height="7" fill="#86888a"/>
<rect x="362.0" y="761.8" width="7" height="7" fill="#86888a"/>
<rect x="384.2" y="716.2" width="7" height="7" fill="#86888a"/>
<rect x="406.5" y="783.5" width="7" height="7" fill="#86888a"/>
<rect x="428.7" y="829.8" width="7" height="7" fill="#86888a"/>
<rect x="451.0" y="775.1" width="7" height="7" fill="#86888a"/>
<rect x="473.2" y="794.3" width="7" height="7" fill="#86888a"/>
<rect x="495.4" y="849.4" width="7" height="7" fill="#86888a"/>
<rect x="517.7" y="857.5" width="7" height="7" fill="#86888a"/>
<rect x="539.9" y="876.7" width="7" height="7" fill="#86888a"/>
<rect x="562.2" y="886.7" width="7" height="7" fill="#86888a"/>
<rect x="584.4" y="903.0" width="7" height="7" fill="#86888a"/>
<rect x="606.6" y="895.4" width="7" height="7" fill="#86888a"/>
<rect x="628.9" y="893.3" width="7" height="7" fill="#86888a"/>
<rect x="651.1" y="898.3" width="7" height="7" fill="#86888a"/>
<rect x="673.4" y="895.7" width="7" height="7" fill="#86888a"/>
<rect x="695.6" y="893.7" width="7" height="7" fill="#86888a"/>
<rect x="139.6" y="727.6" width="7" height="7" fill="#86888a"/>
<rect x="161.8" y="671.8" width="7" height="7" fill="#86888a"/>
<rect x="184.1" y="669.9" width="7" height="7" fill="#86888a"/>
<rect x="206.3" y="684.5" width="7" height="7" fill="#86888a"/>
<rect x="228.6" y="668.2" width="7" height="7" fill="#86888a"/>
<rect x="250.8" y="821.0" width="7" height="7" fill="#86888a"/>
<rect x="273.0" y="796.1" width="7" height="7" fill="#86888a"/>
<rect x="295.3" y="710.9" width="7" height="7" fill="#86888a"/>
<rect x="317.5" y="730.4" width="7" height="7" fill="#86888a"/>
<rect x="339.8" y="738.4" width="7" height="7" fill="#86888a"/>
<rect x="362.0" y="759.8" width="7" height="7" fill="#86888a"/>
<rect x="384.2" y="718.3" width="7" height="7" fill="#86888a"/>
<rect x="406.5" y="785.1" width="7" height="7" fill="#86888a"/>
<rect x="428.7" y="831.3" width="7" height="7" fill="#86888a"/>
<rect x="451.0" y="774.4" width="7" height="7" fill="#86888a"/>
<rect x="473.2" y="794.5" width="7" height="7" fill="#86888a"/>
<rect x="495.4" y="850.7" width="7" height="7" fill="#86888a"/>
<rect x="517.7" y="856.6" width="7" height="7" fill="#86888a"/>
<rect x="539.9" y="879.5" width="7" height="7" fill="#86888a"/>
<rect x="562.2" y="889.5" width="7" height="7" fill="#86888a"/>
<rect x="584.4" y="902.7" width="7" height="7" fill="#86888a"/>
<rect x="606.6" y="898.2" width="7" height="7" fill="#86888a"/>
<rect x="628.9" y="893.8" width="7" height="7" fill="#86888a"/>
<rect x="651.1" y="897.0" width="7" height="7" fill="#86888a"/>
<rect x="673.4" y="897.8" width="7" height="7" fill="#86888a"/>
<rect x="695.6" y="894.3" width="7" height="7" fill="#86888a"/>
<rect x="139.6" y="712.1" width="7" height="7" fill="#86888a"/>
<rect x="161.8" y="673.6" width="7" height="7" fill="#86888a"/>
<rect x="184.1" y="670.4" width="7" height="7" fill="#86888a"/>
<rect x="206.3" y="680.3" width="7" height="7" fill="#86888a"/>
<rect x="228.6" y="664.1" width="7" height="7" fill="#86888a"/>
<rect x="250.8" y="822.2" width="7" height="7" fill="#86888a"/>
<rect x="273.0" y="798.4" width="7" height="7" fill="#86888a"/>
<rect x="295.3" y="709.8" width="7" height="7" fill="#86888a"/>
<rect x="317.5" y="735.0" width="7" height="7" fill="#86888a"/>
<rect x="339.8" y="742.3" width="7" height="7" fill="#86888a"/>
<rect x="362.0" y="760.3" width="7" height="7" fill="#86888a"/>
<rect x="384.2" y="717.3" width="7" height="7" fill="#86888a"/>
<rect x="406.5" y="785.2" width="7" height="7" fill="#86888a"/>
<rect x="428.7" y="830.3" width="7" height="7" fill="#86888a"/>
<rect x="451.0" y="774.5" width="7" height="7" fill="#86888a"/>
<rect x="473.2" y="794.8" width="7" height="7" fill="#86888a"/>
<rect x="495.4" y="852.4" width="7" height="7" fill="#86888a"/>
<rect x="517.7" y="861.6" width="7" height="7" fill="#86888a"/>
<rect x="539.9" y="876.5" width="7" height="7" fill="#86888a"/>
<rect x="562.2" y="886.3" width="7" height="7" fill="#86888a"/>
<rect x="584.4" y="902.8" width="7" height="7" fill="#86888a"/>
<rect x="606.6" y="898.3" width="7" height="7" fill="#86888a"/>
<rect x="628.9" y="894.1" width="7" height="7" fill="#86888a"/>
<rect x="651.1" y="896.2" width="7" height="7" fill="#86888a"/>
<rect x="673.4" y="896.1" width="7" height="7" fill="#86888a"/>
<rect x="695.6" y="895.5" width="7" height="7" fill="#86888a"/>
<rect x="139.6" y="733.8" width="7" height="7" fill="#86888a"/>
<rect x="161.8" y="673.7" width="7" height="7" fill="#86888a"/>
<rect x="184.1" y="669.7" width="7" height="7" fill="#86888a"/>
<rect x="206.3" y="687.8" width="7" height="7" fill="#86888a"/>
<rect x="228.6" y="669.0" width="7" height="7" fill="#86888a"/>
<rect x="250.8" y="824.1" width="7" height="7" fill="#86888a"/>
<rect x="273.0" y="797.1" width="7" height="7" fill="#86888a"/>
<rect x="295.3" y="710.8" width="7" height="7" fill="#86888a"/>
<rect x="317.5" y="737.2" width="7" height="7" fill="#86888a"/>
<rect x="339.8" y="744.0" width="7" height="7" fill="#86888a"/>
<rect x="362.0" y="761.2" width="7" height="7" fill="#86888a"/>
<rect x="384.2" y="722.2" width="7" height="7" fill="#86888a"/>
<rect x="406.5" y="785.9" width="7" height="7" fill="#86888a"/>
<rect x="428.7" y="832.5" width="7" height="7" fill="#86888a"/>
<rect x="451.0" y="774.8" width="7" height="7" fill="#86888a"/>
<rect x="473.2" y="794.8" width="7" height="7" fill="#86888a"/>
<rect x="495.4" y="849.4" width="7" height="7" fill="#86888a"/>
<rect x="517.7" y="862.0" width="7" height="7" fill="#86888a"/>
<rect x="539.9" y="879.2" width="7" height="7" fill="#86888a"/>
<rect x="562.2" y="887.9" width="7" height="7" fill="#86888a"/>
<rect x="584.4" y="906.5" width="7" height="7" fill="#86888a"/>
<rect x="606.6" y="899.9" width="7" height="7" fill="#86888a"/>
<rect x="628.9" y="894.9" width="7" height="7" fill="#86888a"/>
<rect x="651.1" y="897.0" width="7" height="7" fill="#86888a"/>
<rect x="673.4" y="897.4" width="7" height="7" fill="#86888a"/>
<rect x="695.6" y="893.3" width="7" height="7" fill="#86888a"/>
<rect x="139.6" y="720.1" width="7" height="7" fill="#86888a"/>
<rect x="161.8" y="674.1" width="7" height="7" fill="#86888a"/>
<rect x="184.1" y="670.0" width="7" height="7" fill="#86888a"/>
<rect x="206.3" y="682.5" width="7" height="7" fill="#86888a"/>
<rect x="228.6" y="668.4" width="7" height="7" fill="#86888a"/>
<rect x="250.8" y="823.4" width="7" height="7" fill="#86888a"/>
<rect x="273.0" y="799.6" width="7" height="7" fill="#86888a"/>
<rect x="295.3" y="712.5" width="7" height="7" fill="#86888a"/>
<rect x="317.5" y="737.2" width="7" height="7" fill="#86888a"/>
<rect x="339.8" y="743.3" width="7" height="7" fill="#86888a"/>
<rect x="362.0" y="762.9" width="7" height="7" fill="#86888a"/>
<rect x="384.2" y="717.6" width="7" height="7" fill="#86888a"/>
<rect x="406.5" y="785.1" width="7" height="7" fill="#86888a"/>
<rect x="428.7" y="829.7" width="7" height="7" fill="#86888a"/>
<rect x="451.0" y="775.9" width="7" height="7" fill="#86888a"/>
<rect x="473.2" y="794.8" width="7" height="7" fill="#86888a"/>
<rect x="495.4" y="851.1" width="7" height="7" fill="#86888a"/>
<rect x="517.7" y="861.0" width="7" height="7" fill="#86888a"/>
<rect x="539.9" y="882.6" width="7" height="7" fill="#86888a"/>
<rect x="562.2" y="887.6" width="7" height="7" fill="#86888a"/>
<rect x="584.4" y="908.9" width="7" height="7" fill="#86888a"/>
<rect x="606.6" y="898.3" width="7" height="7" fill="#86888a"/>
<rect x="628.9" y="897.0" width="7" height="7" fill="#86888a"/>
<rect x="651.1" y="901.1" width="7" height="7" fill="#86888a"/>
<rect x="673.4" y="897.6" width="7" height="7" fill="#86888a"/>
<rect x="695.6" y="895.3" width="7" height="7" fill="#86888a"/>
<rect x="139.6" y="739.8" width="7" height="7" fill="#86888a"/>
<rect x="161.8" y="679.4" width="7" height="7" fill="#86888a"/>
<rect x="184.1" y="671.9" width="7" height="7" fill="#86888a"/>
<rect x="206.3" y="690.5" width="7" height="7" fill="#86888a"/>
<rect x="228.6" y="673.5" width="7" height="7" fill="#86888a"/>
<rect x="250.8" y="825.1" width="7" height="7" fill="#86888a"/>
<rect x="273.0" y="799.1" width="7" height="7" fill="#86888a"/>
<rect x="295.3" y="713.6" width="7" height="7" fill="#86888a"/>
<rect x="317.5" y="735.3" width="7" height="7" fill="#86888a"/>
<rect x="339.8" y="744.7" width="7" height="7" fill="#86888a"/>
<rect x="362.0" y="762.5" width="7" height="7" fill="#86888a"/>
<rect x="384.2" y="723.3" width="7" height="7" fill="#86888a"/>
<rect x="406.5" y="785.9" width="7" height="7" fill="#86888a"/>
<rect x="428.7" y="831.2" width="7" height="7" fill="#86888a"/>
<rect x="451.0" y="775.2" width="7" height="7" fill="#86888a"/>
<rect x="473.2" y="795.0" width="7" height="7" fill="#86888a"/>
<rect x="495.4" y="855.9" width="7" height="7" fill="#86888a"/>
<rect x="517.7" y="862.8" width="7" height="7" fill="#86888a"/>
<rect x="539.9" y="880.2" width="7" height="7" fill="#86888a"/>
<rect x="562.2" y="889.5" width="7" height="7" fill="#86888a"/>
<rect x="584.4" y="907.1" width="7" height="7" fill="#86888a"/>
<rect x="606.6" y="899.3" width="7" height="7" fill="#86888a"/>
<rect x="628.9" y="896.2" width="7" height="7" fill="#86888a"/>
<rect x="651.1" y="900.1" width="7" height="7" fill="#86888a"/>
<rect x="673.4" y="897.8" width="7" height="7" fill="#86888a"/>
<rect x="695.6" y="898.1" width="7" height="7" fill="#86888a"/>
<rect x="139.6" y="751.9" width="7" height="7" fill="#86888a"/>
<rect x="161.8" y="678.1" width="7" height="7" fill="#86888a"/>
<rect x="184.1" y="672.3" width="7" height="7" fill="#86888a"/>
<rect x="206.3" y="693.6" width="7" height="7" fill="#86888a"/>
<rect x="228.6" y="671.5" width="7" height="7" fill="#86888a"/>
<rect x="250.8" y="824.8" width="7" height="7" fill="#86888a"/>
<rect x="273.0" y="798.4" width="7" height="7" fill="#86888a"/>
<rect x="295.3" y="714.5" width="7" height="7" fill="#86888a"/>
<rect x="317.5" y="739.5" width="7" height="7" fill="#86888a"/>
<rect x="339.8" y="750.4" width="7" height="7" fill="#86888a"/>
<rect x="362.0" y="763.7" width="7" height="7" fill="#86888a"/>
<rect x="384.2" y="722.9" width="7" height="7" fill="#86888a"/>
<rect x="406.5" y="785.6" width="7" height="7" fill="#86888a"/>
<rect x="428.7" y="832.6" width="7" height="7" fill="#86888a"/>
<rect x="451.0" y="775.5" width="7" height="7" fill="#86888a"/>
<rect x="473.2" y="794.9" width="7" height="7" fill="#86888a"/>
<rect x="495.4" y="852.3" width="7" height="7" fill="#86888a"/>
<rect x="517.7" y="860.5" width="7" height="7" fill="#86888a"/>
<rect x="539.9" y="881.2" width="7" height="7" fill="#86888a"/>
<rect x="562.2" y="890.5" width="7" height="7" fill="#86888a"/>
<rect x="584.4" y="909.6" width="7" height="7" fill="#86888a"/>
<rect x="606.6" y="900.6" width="7" height="7" fill="#86888a"/>
<rect x="628.9" y="900.0" width="7" height="7" fill="#86888a"/>
<rect x="651.1" y="901.9" width="7" height="7" fill="#86888a"/>
<rect x="673.4" y="900.7" width="7" height="7" fill="#86888a"/>
<rect x="695.6" y="898.6" width="7" height="7" fill="#86888a"/>
<rect x="139.6" y="741.5" width="7" height="7" fill="#86888a"/>
<rect x="161.8" y="677.8" width="7" height="7" fill="#86888a"/>
<rect x="184.1" y="676.0" width="7" height="7" fill="#86888a"/>
<rect x="206.3" y="687.4" width="7" height="7" fill="#86888a"/>
<rect x="228.6" y="676.8" width="7" height="7" fill="#86888a"/>
<rect x="250.8" y="826.3" width="7" height="7" fill="#86888a"/>
<rect x="273.0" y="799.1" width="7" height="7" fill="#86888a"/>
<rect x="295.3" y="717.3" width="7" height="7" fill="#86888a"/>
<rect x="317.5" y="743.7" width="7" height="7" fill="#86888a"/>
<rect x="339.8" y="753.6" width="7" height="7" fill="#86888a"/>
<rect x="362.0" y="766.3" width="7" height="7" fill="#86888a"/>
<rect x="384.2" y="726.0" width="7" height="7" fill="#86888a"/>
<rect x="406.5" y="786.8" width="7" height="7" fill="#86888a"/>
<rect x="428.7" y="834.6" width="7" height="7" fill="#86888a"/>
<rect x="451.0" y="776.3" width="7" height="7" fill="#86888a"/>
<rect x="473.2" y="795.2" width="7" height="7" fill="#86888a"/>
<rect x="495.4" y="857.5" width="7" height="7" fill="#86888a"/>
<rect x="517.7" y="865.4" width="7" height="7" fill="#86888a"/>
<rect x="539.9" y="883.6" width="7" height="7" fill="#86888a"/>
<rect x="562.2" y="895.5" width="7" height="7" fill="#86888a"/>
<rect x="584.4" y="911.1" width="7" height="7" fill="#86888a"/>
<rect x="606.6" y="902.2" width="7" height="7" fill="#86888a"/>
<rect x="628.9" y="898.3" width="7" height="7" fill="#86888a"/>
<rect x="651.1" y="899.9" width="7" height="7" fill="#86888a"/>
<rect x="673.4" y="898.9" width="7" height="7" fill="#86888a"/>
<rect x="695.6" y="897.1" width="7" height="7" fill="#86888a"/>
<rect x="139.6" y="738.8" width="7" height="7" fill="#86888a"/>
<rect x="161.8" y="681.5" width="7" height="7" fill="#86888a"/>
<rect x="184.1" y="675.0" width="7" height="7" fill="#86888a"/>
<rect x="206.3" y="693.8" width="7" height="7" fill="#86888a"/>
<rect x="228.6" y="677.6" width="7" height="7" fill="#86888a"/>
<rect x="250.8" y="827.1" width="7" height="7" fill="#86888a"/>
<rect x="273.0" y="800.9" width="7" height="7" fill="#86888a"/>
<rect x="295.3" y="714.4" width="7" height="7" fill="#86888a"/>
<rect x="317.5" y="744.3" width="7" height="7" fill="#86888a"/>
<rect x="339.8" y="756.7" width="7" height="7" fill="#86888a"/>
<rect x="362.0" y="766.1" width="7" height="7" fill="#86888a"/>
<rect x="384.2" y="725.4" width="7" height="7" fill="#86888a"/>
<rect x="406.5" y="789.6" width="7" height="7" fill="#86888a"/>
<rect x="428.7" y="833.3" width="7" height="7" fill="#86888a"/>
<rect x="451.0" y="776.9" width="7" height="7" fill="#86888a"/>
<rect x="473.2" y="795.0" width="7" height="7" fill="#86888a"/>
<rect x="495.4" y="854.5" width="7" height="7" fill="#86888a"/>
<rect x="517.7" y="863.5" width="7" height="7" fill="#86888a"/>
<rect x="539.9" y="885.2" width="7" height="7" fill="#86888a"/>
<rect x="562.2" y="892.5" width="7" height="7" fill="#86888a"/>
<rect x="584.4" y="912.4" width="7" height="7" fill="#86888a"/>
<rect x="606.6" y="904.4" width="7" height="7" fill="#86888a"/>
<rect x="628.9" y="900.5" width="7" height="7" fill="#86888a"/>
<rect x="651.1" y="902.3" width="7" height="7" fill="#86888a"/>
<rect x="673.4" y="901.3" width="7" height="7" fill="#86888a"/>
<rect x="695.6" y="899.3" width="7" height="7" fill="#86888a"/>
<rect x="139.6" y="760.6" width="7" height="7" fill="#86888a"/>
<rect x="161.8" y="681.3" width="7" height="7" fill="#86888a"/>
<rect x="184.1" y="676.1" width="7" height="7" fill="#86888a"/>
<rect x="206.3" y="690.2" width="7" height="7" fill="#86888a"/>
<rect x="228.6" y="674.9" width="7" height="7" fill="#86888a"/>
<rect x="250.8" y="826.2" width="7" height="7" fill="#86888a"/>
<rect x="273.0" y="802.1" width="7" height="7" fill="#86888a"/>
<rect x="295.3" y="716.5" width="7" height="7" fill="#86888a"/>
<rect x="317.5" y="743.9" width="7" height="7" fill="#86888a"/>
<rect x="339.8" y="751.0" width="7" height="7" fill="#86888a"/>
<rect x="362.0" y="765.2" width="7" height="7" fill="#86888a"/>
<rect x="384.2" y="724.8" width="7" height="7" fill="#86888a"/>
<rect x="406.5" y="790.3" width="7" height="7" fill="#86888a"/>
<rect x="428.7" y="837.1" width="7" height="7" fill="#86888a"/>
<rect x="451.0" y="777.0" width="7" height="7" fill="#86888a"/>
<rect x="473.2" y="795.1" width="7" height="7" fill="#86888a"/>
<rect x="495.4" y="858.0" width="7" height="7" fill="#86888a"/>
<rect x="517.7" y="865.4" width="7" height="7" fill="#86888a"/>
<rect x="539.9" y="884.8" width="7" height="7" fill="#86888a"/>
<rect x="562.2" y="893.1" width="7" height="7" fill="#86888a"/>
<rect x="584.4" y="914.2" width="7" height="7" fill="#86888a"/>
<rect x="606.6" y="901.6" width="7" height="7" fill="#86888a"/>
<rect x="628.9" y="903.8" width="7" height="7" fill="#86888a"/>
<rect x="651.1" y="905.7" width="7" height="7" fill="#86888a"/>
<rect x="673.4" y="900.0" width="7" height="7" fill="#86888a"/>
<rect x="695.6" y="899.1" width="7" height="7" fill="#86888a"/>
<rect x="139.6" y="766.7" width="7" height="7" fill="#86888a"/>
<rect x="161.8" y="684.1" width="7" height="7" fill="#86888a"/>
<rect x="184.1" y="676.1" width="7" height="7" fill="#86888a"/>
<rect x="206.3" y="693.9" width="7" height="7" fill="#86888a"/>
<rect x="228.6" y="677.1" width="7" height="7" fill="#86888a"/>
<rect x="250.8" y="829.2" width="7" height="7" fill="#86888a"/>
<rect x="273.0" y="801.1" width="7" height="7" fill="#86888a"/>
<rect x="295.3" y="718.5" width="7" height="7" fill="#86888a"/>
<rect x="317.5" y="742.2" width="7" height="7" fill="#86888a"/>
<rect x="339.8" y="758.1" width="7" height="7" fill="#86888a"/>
<rect x="362.0" y="769.2" width="7" height="7" fill="#86888a"/>
<rect x="384.2" y="725.1" width="7" height="7" fill="#86888a"/>
<rect x="406.5" y="791.6" width="7" height="7" fill="#86888a"/>
<rect x="428.7" y="837.1" width="7" height="7" fill="#86888a"/>
<rect x="451.0" y="777.6" width="7" height="7" fill="#86888a"/>
<rect x="473.2" y="795.5" width="7" height="7" fill="#86888a"/>
<rect x="495.4" y="857.4" width="7" height="7" fill="#86888a"/>
<rect x="517.7" y="868.5" width="7" height="7" fill="#86888a"/>
<rect x="539.9" y="885.9" width="7" height="7" fill="#86888a"/>
<rect x="562.2" y="893.6" width="7" height="7" fill="#86888a"/>
<rect x="584.4" y="910.4" width="7" height="7" fill="#86888a"/>
<rect x="606.6" y="903.9" width="7" height="7" fill="#86888a"/>
<rect x="628.9" y="902.1" width="7" height="7" fill="#86888a"/>
<rect x="651.1" y="903.6" width="7" height="7" fill="#86888a"/>
<rect x="673.4" y="901.4" width="7" height="7" fill="#86888a"/>
<rect x="695.6" y="899.4" width="7" height="7" fill="#86888a"/>
<rect x="139.6" y="756.5" width="7" height="7" fill="#86888a"/>
<rect x="161.8" y="684.4" width="7" height="7" fill="#86888a"/>
<rect x="184.1" y="675.0" width="7" height="7" fill="#86888a"/>
<rect x="206.3" y="700.4" width="7" height="7" fill="#86888a"/>
<rect x="228.6" y="684.3" width="7" height="7" fill="#86888a"/>
<rect x="250.8" y="827.0" width="7" height="7" fill="#86888a"/>
<rect x="273.0" y="803.5" width="7" height="7" fill="#86888a"/>
<rect x="295.3" y="719.9" width="7" height="7" fill="#86888a"/>
<rect x="317.5" y="748.5" width="7" height="7" fill="#86888a"/>
<rect x="339.8" y="757.6" width="7" height="7" fill="#86888a"/>
<rect x="362.0" y="767.7" width="7" height="7" fill="#86888a"/>
<rect x="384.2" y="727.9" width="7" height="7" fill="#86888a"/>
<rect x="406.5" y="792.5" width="7" height="7" fill="#86888a"/>
<rect x="428.7" y="838.3" width="7" height="7" fill="#86888a"/>
<rect x="451.0" y="777.1" width="7" height="7" fill="#86888a"/>
<rect x="473.2" y="795.4" width="7" height="7" fill="#86888a"/>
<rect x="495.4" y="858.6" width="7" height="7" fill="#86888a"/>
<rect x="517.7" y="865.2" width="7" height="7" fill="#86888a"/>
<rect x="539.9" y="884.8" width="7" height="7" fill="#86888a"/>
<rect x="562.2" y="899.5" width="7" height="7" fill="#86888a"/>
<rect x="584.4" y="912.9" width="7" height="7" fill="#86888a"/>
<rect x="606.6" y="906.5" width="7" height="7" fill="#86888a"/>
<rect x="628.9" y="902.0" width="7" height="7" fill="#86888a"/>
<rect x="651.1" y="904.3" width="7" height="7" fill="#86888a"/>
<rect x="673.4" y="903.9" width="7" height="7" fill="#86888a"/>
<rect x="695.6" y="899.5" width="7" height="7" fill="#86888a"/>
<rect x="139.6" y="766.5" width="7" height="7" fill="#86888a"/>
<rect x="161.8" y="684.5" width="7" height="7" fill="#86888a"/>
<rect x="184.1" y="678.5" width="7" height="7" fill="#86888a"/>
<rect x="206.3" y="701.5" width="7" height="7" fill="#86888a"/>
<rect x="228.6" y="684.1" width="7" height="7" fill="#86888a"/>
<rect x="250.8" y="829.5" width="7" height="7" fill="#86888a"/>
<rect x="273.0" y="803.5" width="7" height="7" fill="#86888a"/>
<rect x="295.3" y="719.9" width="7" height="7" fill="#86888a"/>
<rect x="317.5" y="748.5" width="7" height="7" fill="#86888a"/>
<rect x="339.8" y="756.5" width="7" height="7" fill="#86888a"/>
<rect x="362.0" y="769.5" width="7" height="7" fill="#86888a"/>
<rect x="384.2" y="729.4" width="7" height="7" fill="#86888a"/>
<rect x="406.5" y="792.5" width="7" height="7" fill="#86888a"/>
<rect x="428.7" y="839.4" width="7" height="7" fill="#86888a"/>
<rect x="451.0" y="777.3" width="7" height="7" fill="#86888a"/>
<rect x="473.2" y="795.3" width="7" height="7" fill="#86888a"/>
<rect x="495.4" y="861.9" width="7" height="7" fill="#86888a"/>
<rect x="517.7" y="866.4" width="7" height="7" fill="#86888a"/>
<rect x="539.9" y="887.6" width="7" height="7" fill="#86888a"/>
<rect x="562.2" y="897.7" width="7" height="7" fill="#86888a"/>
<rect x="584.4" y="913.9" width="7" height="7" fill="#86888a"/>
<rect x="606.6" y="906.5" width="7" height="7" fill="#86888a"/>
<rect x="628.9" y="905.0" width="7" height="7" fill="#86888a"/>
<rect x="651.1" y="905.1" width="7" height="7" fill="#86888a"/>
<rect x="673.4" y="905.4" width="7" height="7" fill="#86888a"/>
<rect x="695.6" y="900.8" width="7" height="7" fill="#86888a"/>
<rect x="139.6" y="781.3" width="7" height="7" fill="#86888a"/>
<rect x="161.8" y="683.9" width="7" height="7" fill="#86888a"/>
<rect x="184.1" y="677.1" width="7" height="7" fill="#86888a"/>
<rect x="206.3" y="712.5" width="7" height="7" fill="#86888a"/>
<rect x="228.6" y="681.9" width="7" height="7" fill="#86888a"/>
<rect x="250.8" y="829.5" width="7" height="7" fill="#86888a"/>
<rect x="273.0" y="803.5" width="7" height="7" fill="#86888a"/>
<rect x="295.3" y="719.3" width="7" height="7" fill="#86888a"/>
<rect x="317.5" y="748.5" width="7" height="7" fill="#86888a"/>
<rect x="339.8" y="763.5" width="7" height="7" fill="#86888a"/>
<rect x="362.0" y="769.3" width="7" height="7" fill="#86888a"/>
<rect x="384.2" y="728.6" width="7" height="7" fill="#86888a"/>
<rect x="406.5" y="791.3" width="7" height="7" fill="#86888a"/>
<rect x="428.7" y="837.7" width="7" height="7" fill="#86888a"/>
<rect x="451.0" y="777.6" width="7" height="7" fill="#86888a"/>
<rect x="473.2" y="795.5" width="7" height="7" fill="#86888a"/>
<rect x="495.4" y="860.4" width="7" height="7" fill="#86888a"/>
<rect x="517.7" y="868.0" width="7" height="7" fill="#86888a"/>
<rect x="539.9" y="888.7" width="7" height="7" fill="#86888a"/>
<rect x="562.2" y="899.7" width="7" height="7" fill="#86888a"/>
<rect x="584.4" y="916.0" width="7" height="7" fill="#86888a"/>
<rect x="606.6" y="906.1" width="7" height="7" fill="#86888a"/>
<rect x="628.9" y="904.6" width="7" height="7" fill="#86888a"/>
<rect x="651.1" y="907.0" width="7" height="7" fill="#86888a"/>
<rect x="673.4" y="904.9" width="7" height="7" fill="#86888a"/>
<rect x="695.6" y="901.8" width="7" height="7" fill="#86888a"/>
<polyline points="143.1,697.0 165.3,653.8 187.6,650.9 209.8,641.3 232.1,629.6 254.3,821.8 276.5,786.7 298.8,705.4 321.0,727.0 343.3,688.5 365.5,775.4 387.7,712.0 410.0,804.9 432.2,865.9 454.5,788.6 476.7,809.8 498.9,881.2 521.2,892.2 543.4,917.8 565.7,936.1 587.9,949.0 610.1,943.5 632.4,940.5 654.6,938.0 676.9,938.5 699.1,929.5" fill="none" stroke="#ec392e" stroke-width="2.3" stroke-linejoin="round"/>
<polyline points="143.1,703.8 165.3,655.7 187.6,653.2 209.8,644.0 232.1,631.9 254.3,823.2 276.5,788.3 298.8,707.9 321.0,729.9 343.3,692.2 365.5,779.1 387.7,714.8 410.0,808.6 432.2,867.3 454.5,789.7 476.7,810.6 498.9,882.6 521.2,894.6 543.4,919.7 565.7,937.3 587.9,950.9 610.1,945.9 632.4,942.0 654.6,940.9 676.9,941.1 699.1,931.9" fill="none" stroke="#ec392e" stroke-width="2.3" stroke-linejoin="round"/>
<polyline points="143.1,710.6 165.3,657.6 187.6,655.5 209.8,646.8 232.1,634.2 254.3,824.6 276.5,789.8 298.8,710.4 321.0,732.7 343.3,695.9 365.5,782.9 387.7,717.6 410.0,812.3 432.2,868.7 454.5,790.7 476.7,811.4 498.9,884.0 521.2,897.1 543.4,921.6 565.7,938.5 587.9,952.7 610.1,948.2 632.4,943.5 654.6,943.7 676.9,943.8 699.1,934.4" fill="none" stroke="#ec392e" stroke-width="2.3" stroke-linejoin="round"/>
<polyline points="143.1,717.4 165.3,659.5 187.6,657.8 209.8,649.5 232.1,636.5 254.3,826.0 276.5,791.4 298.8,712.9 321.0,735.6 343.3,699.6 365.5,786.6 387.7,720.4 410.0,816.0 432.2,870.1 454.5,791.8 476.7,812.2 498.9,885.4 521.2,899.5 543.4,923.5 565.7,939.7 587.9,954.6 610.1,950.6 632.4,945.0 654.6,946.6 676.9,946.4 699.1,936.8" fill="none" stroke="#ec392e" stroke-width="2.3" stroke-linejoin="round"/>
<polyline points="143.1,724.1 165.3,661.3 187.6,660.1 209.8,652.2 232.1,638.8 254.3,827.3 276.5,793.0 298.8,715.4 321.0,738.4 343.3,703.3 365.5,790.4 387.7,723.1 410.0,819.8 432.2,871.4 454.5,792.8 476.7,813.0 498.9,886.8 521.2,902.0 543.4,925.5 565.7,941.0 587.9,956.4 610.1,952.9 632.4,946.5 654.6,949.4 676.9,949.1 699.1,939.2" fill="none" stroke="#ec392e" stroke-width="2.3" stroke-linejoin="round"/>
<polyline points="143.1,730.9 165.3,663.2 187.6,662.4 209.8,654.9 232.1,641.1 254.3,828.7 276.5,794.6 298.8,717.9 321.0,741.3 343.3,707.0 365.5,794.1 387.7,725.9 410.0,823.5 432.2,872.8 454.5,793.9 476.7,813.8 498.9,888.2 521.2,904.4 543.4,927.4 565.7,942.2 587.9,958.3 610.1,955.3 632.4,948.0 654.6,952.3 676.9,951.7 699.1,941.6" fill="none" stroke="#ec392e" stroke-width="2.3" stroke-linejoin="round"/>
<polyline points="143.1,709.4 165.3,693.3 187.6,667.0 209.8,658.9 232.1,640.0 254.3,830.1 276.5,796.1 298.8,720.4 321.0,744.1 343.3,710.7 365.5,797.9 387.7,728.7 410.0,827.2 432.2,874.2 454.5,794.9 476.7,814.6 498.9,889.6 521.2,906.9 543.4,929.3 565.7,943.4 587.9,960.1 610.1,957.6 632.4,949.5 654.6,955.1 676.9,954.4 699.1,944.1" fill="none" stroke="#ec392e" stroke-width="2.3" stroke-linejoin="round"/>
<polyline points="143.1,744.5 165.3,665.0 187.6,667.0 209.8,660.4 232.1,645.7 254.3,831.5 276.5,797.7 298.8,722.9 321.0,758.7 343.3,714.4 365.5,801.6 387.7,731.5 410.0,830.9 432.2,875.6 454.5,796.0 476.7,815.4 498.9,891.0 521.2,909.3 543.4,931.2 565.7,944.6 587.9,962.0 610.1,960.0 632.4,951.0 654.6,958.0 676.9,957.0 699.1,946.5" fill="none" stroke="#ec392e" stroke-width="2.3" stroke-linejoin="round"/>
<polyline points="143.1,744.5 165.3,665.0 187.6,667.0 209.8,660.4 232.1,645.7 254.3,831.5 276.5,797.7 298.8,722.9 321.0,758.7 343.3,714.4 365.5,801.6 387.7,731.5 410.0,830.9 432.2,894.3 454.5,796.0 476.7,815.4 498.9,889.0 521.2,922.1 543.4,946.5 565.7,958.7 587.9,966.0 610.1,964.0 632.4,963.5 654.6,963.5 676.9,957.0 699.1,947.0" fill="none" stroke="#ec392e" stroke-width="2.3" stroke-linejoin="round"/>
<rect x="137.9" y="691.8" width="10.4" height="10.4" fill="#ec392e"/>
<rect x="160.1" y="648.6" width="10.4" height="10.4" fill="#ec392e"/>
<rect x="182.4" y="645.7" width="10.4" height="10.4" fill="#ec392e"/>
<rect x="204.6" y="636.1" width="10.4" height="10.4" fill="#ec392e"/>
<rect x="226.9" y="624.4" width="10.4" height="10.4" fill="#ec392e"/>
<rect x="249.1" y="816.6" width="10.4" height="10.4" fill="#ec392e"/>
<rect x="271.3" y="781.5" width="10.4" height="10.4" fill="#ec392e"/>
<rect x="293.6" y="700.2" width="10.4" height="10.4" fill="#ec392e"/>
<rect x="315.8" y="721.8" width="10.4" height="10.4" fill="#ec392e"/>
<rect x="338.1" y="683.3" width="10.4" height="10.4" fill="#ec392e"/>
<rect x="360.3" y="770.2" width="10.4" height="10.4" fill="#ec392e"/>
<rect x="382.5" y="706.8" width="10.4" height="10.4" fill="#ec392e"/>
<rect x="404.8" y="799.7" width="10.4" height="10.4" fill="#ec392e"/>
<rect x="427.0" y="860.7" width="10.4" height="10.4" fill="#ec392e"/>
<rect x="449.3" y="783.4" width="10.4" height="10.4" fill="#ec392e"/>
<rect x="471.5" y="804.6" width="10.4" height="10.4" fill="#ec392e"/>
<rect x="493.7" y="876.0" width="10.4" height="10.4" fill="#ec392e"/>
<rect x="516.0" y="887.0" width="10.4" height="10.4" fill="#ec392e"/>
<rect x="538.2" y="912.6" width="10.4" height="10.4" fill="#ec392e"/>
<rect x="560.5" y="930.9" width="10.4" height="10.4" fill="#ec392e"/>
<rect x="582.7" y="943.8" width="10.4" height="10.4" fill="#ec392e"/>
<rect x="604.9" y="938.3" width="10.4" height="10.4" fill="#ec392e"/>
<rect x="627.2" y="935.3" width="10.4" height="10.4" fill="#ec392e"/>
<rect x="649.4" y="932.8" width="10.4" height="10.4" fill="#ec392e"/>
<rect x="671.7" y="933.3" width="10.4" height="10.4" fill="#ec392e"/>
<rect x="693.9" y="924.3" width="10.4" height="10.4" fill="#ec392e"/>
<rect x="137.9" y="698.6" width="10.4" height="10.4" fill="#ec392e"/>
<rect x="160.1" y="650.5" width="10.4" height="10.4" fill="#ec392e"/>
<rect x="182.4" y="648.0" width="10.4" height="10.4" fill="#ec392e"/>
<rect x="204.6" y="638.8" width="10.4" height="10.4" fill="#ec392e"/>
<rect x="226.9" y="626.7" width="10.4" height="10.4" fill="#ec392e"/>
<rect x="249.1" y="818.0" width="10.4" height="10.4" fill="#ec392e"/>
<rect x="271.3" y="783.1" width="10.4" height="10.4" fill="#ec392e"/>
<rect x="293.6" y="702.7" width="10.4" height="10.4" fill="#ec392e"/>
<rect x="315.8" y="724.7" width="10.4" height="10.4" fill="#ec392e"/>
<rect x="338.1" y="687.0" width="10.4" height="10.4" fill="#ec392e"/>
<rect x="360.3" y="773.9" width="10.4" height="10.4" fill="#ec392e"/>
<rect x="382.5" y="709.6" width="10.4" height="10.4" fill="#ec392e"/>
<rect x="404.8" y="803.4" width="10.4" height="10.4" fill="#ec392e"/>
<rect x="427.0" y="862.1" width="10.4" height="10.4" fill="#ec392e"/>
<rect x="449.3" y="784.5" width="10.4" height="10.4" fill="#ec392e"/>
<rect x="471.5" y="805.4" width="10.4" height="10.4" fill="#ec392e"/>
<rect x="493.7" y="877.4" width="10.4" height="10.4" fill="#ec392e"/>
<rect x="516.0" y="889.4" width="10.4" height="10.4" fill="#ec392e"/>
<rect x="538.2" y="914.5" width="10.4" height="10.4" fill="#ec392e"/>
<rect x="560.5" y="932.1" width="10.4" height="10.4" fill="#ec392e"/>
<rect x="582.7" y="945.7" width="10.4" height="10.4" fill="#ec392e"/>
<rect x="604.9" y="940.7" width="10.4" height="10.4" fill="#ec392e"/>
<rect x="627.2" y="936.8" width="10.4" height="10.4" fill="#ec392e"/>
<rect x="649.4" y="935.7" width="10.4" height="10.4" fill="#ec392e"/>
<rect x="671.7" y="935.9" width="10.4" height="10.4" fill="#ec392e"/>
<rect x="693.9" y="926.7" width="10.4" height="10.4" fill="#ec392e"/>
<rect x="137.9" y="705.4" width="10.4" height="10.4" fill="#ec392e"/>
<rect x="160.1" y="652.4" width="10.4" height="10.4" fill="#ec392e"/>
<rect x="182.4" y="650.3" width="10.4" height="10.4" fill="#ec392e"/>
<rect x="204.6" y="641.6" width="10.4" height="10.4" fill="#ec392e"/>
<rect x="226.9" y="629.0" width="10.4" height="10.4" fill="#ec392e"/>
<rect x="249.1" y="819.4" width="10.4" height="10.4" fill="#ec392e"/>
<rect x="271.3" y="784.6" width="10.4" height="10.4" fill="#ec392e"/>
<rect x="293.6" y="705.2" width="10.4" height="10.4" fill="#ec392e"/>
<rect x="315.8" y="727.5" width="10.4" height="10.4" fill="#ec392e"/>
<rect x="338.1" y="690.7" width="10.4" height="10.4" fill="#ec392e"/>
<rect x="360.3" y="777.7" width="10.4" height="10.4" fill="#ec392e"/>
<rect x="382.5" y="712.4" width="10.4" height="10.4" fill="#ec392e"/>
<rect x="404.8" y="807.1" width="10.4" height="10.4" fill="#ec392e"/>
<rect x="427.0" y="863.5" width="10.4" height="10.4" fill="#ec392e"/>
<rect x="449.3" y="785.5" width="10.4" height="10.4" fill="#ec392e"/>
<rect x="471.5" y="806.2" width="10.4" height="10.4" fill="#ec392e"/>
<rect x="493.7" y="878.8" width="10.4" height="10.4" fill="#ec392e"/>
<rect x="516.0" y="891.9" width="10.4" height="10.4" fill="#ec392e"/>
<rect x="538.2" y="916.4" width="10.4" height="10.4" fill="#ec392e"/>
<rect x="560.5" y="933.3" width="10.4" height="10.4" fill="#ec392e"/>
<rect x="582.7" y="947.5" width="10.4" height="10.4" fill="#ec392e"/>
<rect x="604.9" y="943.0" width="10.4" height="10.4" fill="#ec392e"/>
<rect x="627.2" y="938.3" width="10.4" height="10.4" fill="#ec392e"/>
<rect x="649.4" y="938.5" width="10.4" height="10.4" fill="#ec392e"/>
<rect x="671.7" y="938.6" width="10.4" height="10.4" fill="#ec392e"/>
<rect x="693.9" y="929.2" width="10.4" height="10.4" fill="#ec392e"/>
<rect x="137.9" y="712.2" width="10.4" height="10.4" fill="#ec392e"/>
<rect x="160.1" y="654.3" width="10.4" height="10.4" fill="#ec392e"/>
<rect x="182.4" y="652.6" width="10.4" height="10.4" fill="#ec392e"/>
<rect x="204.6" y="644.3" width="10.4" height="10.4" fill="#ec392e"/>
<rect x="226.9" y="631.3" width="10.4" height="10.4" fill="#ec392e"/>
<rect x="249.1" y="820.8" width="10.4" height="10.4" fill="#ec392e"/>
<rect x="271.3" y="786.2" width="10.4" height="10.4" fill="#ec392e"/>
<rect x="293.6" y="707.7" width="10.4" height="10.4" fill="#ec392e"/>
<rect x="315.8" y="730.4" width="10.4" height="10.4" fill="#ec392e"/>
<rect x="338.1" y="694.4" width="10.4" height="10.4" fill="#ec392e"/>
<rect x="360.3" y="781.4" width="10.4" height="10.4" fill="#ec392e"/>
<rect x="382.5" y="715.2" width="10.4" height="10.4" fill="#ec392e"/>
<rect x="404.8" y="810.8" width="10.4" height="10.4" fill="#ec392e"/>
<rect x="427.0" y="864.9" width="10.4" height="10.4" fill="#ec392e"/>
<rect x="449.3" y="786.6" width="10.4" height="10.4" fill="#ec392e"/>
<rect x="471.5" y="807.0" width="10.4" height="10.4" fill="#ec392e"/>
<rect x="493.7" y="880.2" width="10.4" height="10.4" fill="#ec392e"/>
<rect x="516.0" y="894.3" width="10.4" height="10.4" fill="#ec392e"/>
<rect x="538.2" y="918.3" width="10.4" height="10.4" fill="#ec392e"/>
<rect x="560.5" y="934.5" width="10.4" height="10.4" fill="#ec392e"/>
<rect x="582.7" y="949.4" width="10.4" height="10.4" fill="#ec392e"/>
<rect x="604.9" y="945.4" width="10.4" height="10.4" fill="#ec392e"/>
<rect x="627.2" y="939.8" width="10.4" height="10.4" fill="#ec392e"/>
<rect x="649.4" y="941.4" width="10.4" height="10.4" fill="#ec392e"/>
<rect x="671.7" y="941.2" width="10.4" height="10.4" fill="#ec392e"/>
<rect x="693.9" y="931.6" width="10.4" height="10.4" fill="#ec392e"/>
<rect x="137.9" y="718.9" width="10.4" height="10.4" fill="#ec392e"/>
<rect x="160.1" y="656.1" width="10.4" height="10.4" fill="#ec392e"/>
<rect x="182.4" y="654.9" width="10.4" height="10.4" fill="#ec392e"/>
<rect x="204.6" y="647.0" width="10.4" height="10.4" fill="#ec392e"/>
<rect x="226.9" y="633.6" width="10.4" height="10.4" fill="#ec392e"/>
<rect x="249.1" y="822.1" width="10.4" height="10.4" fill="#ec392e"/>
<rect x="271.3" y="787.8" width="10.4" height="10.4" fill="#ec392e"/>
<rect x="293.6" y="710.2" width="10.4" height="10.4" fill="#ec392e"/>
<rect x="315.8" y="733.2" width="10.4" height="10.4" fill="#ec392e"/>
<rect x="338.1" y="698.1" width="10.4" height="10.4" fill="#ec392e"/>
<rect x="360.3" y="785.2" width="10.4" height="10.4" fill="#ec392e"/>
<rect x="382.5" y="717.9" width="10.4" height="10.4" fill="#ec392e"/>
<rect x="404.8" y="814.6" width="10.4" height="10.4" fill="#ec392e"/>
<rect x="427.0" y="866.2" width="10.4" height="10.4" fill="#ec392e"/>
<rect x="449.3" y="787.6" width="10.4" height="10.4" fill="#ec392e"/>
<rect x="471.5" y="807.8" width="10.4" height="10.4" fill="#ec392e"/>
<rect x="493.7" y="881.6" width="10.4" height="10.4" fill="#ec392e"/>
<rect x="516.0" y="896.8" width="10.4" height="10.4" fill="#ec392e"/>
<rect x="538.2" y="920.3" width="10.4" height="10.4" fill="#ec392e"/>
<rect x="560.5" y="935.8" width="10.4" height="10.4" fill="#ec392e"/>
<rect x="582.7" y="951.2" width="10.4" height="10.4" fill="#ec392e"/>
<rect x="604.9" y="947.7" width="10.4" height="10.4" fill="#ec392e"/>
<rect x="627.2" y="941.3" width="10.4" height="10.4" fill="#ec392e"/>
<rect x="649.4" y="944.2" width="10.4" height="10.4" fill="#ec392e"/>
<rect x="671.7" y="943.9" width="10.4" height="10.4" fill="#ec392e"/>
<rect x="693.9" y="934.0" width="10.4" height="10.4" fill="#ec392e"/>
<rect x="137.9" y="725.7" width="10.4" height="10.4" fill="#ec392e"/>
<rect x="160.1" y="658.0" width="10.4" height="10.4" fill="#ec392e"/>
<rect x="182.4" y="657.2" width="10.4" height="10.4" fill="#ec392e"/>
<rect x="204.6" y="649.7" width="10.4" height="10.4" fill="#ec392e"/>
<rect x="226.9" y="635.9" width="10.4" height="10.4" fill="#ec392e"/>
<rect x="249.1" y="823.5" width="10.4" height="10.4" fill="#ec392e"/>
<rect x="271.3" y="789.4" width="10.4" height="10.4" fill="#ec392e"/>
<rect x="293.6" y="712.7" width="10.4" height="10.4" fill="#ec392e"/>
<rect x="315.8" y="736.1" width="10.4" height="10.4" fill="#ec392e"/>
<rect x="338.1" y="701.8" width="10.4" height="10.4" fill="#ec392e"/>
<rect x="360.3" y="788.9" width="10.4" height="10.4" fill="#ec392e"/>
<rect x="382.5" y="720.7" width="10.4" height="10.4" fill="#ec392e"/>
<rect x="404.8" y="818.3" width="10.4" height="10.4" fill="#ec392e"/>
<rect x="427.0" y="867.6" width="10.4" height="10.4" fill="#ec392e"/>
<rect x="449.3" y="788.7" width="10.4" height="10.4" fill="#ec392e"/>
<rect x="471.5" y="808.6" width="10.4" height="10.4" fill="#ec392e"/>
<rect x="493.7" y="883.0" width="10.4" height="10.4" fill="#ec392e"/>
<rect x="516.0" y="899.2" width="10.4" height="10.4" fill="#ec392e"/>
<rect x="538.2" y="922.2" width="10.4" height="10.4" fill="#ec392e"/>
<rect x="560.5" y="937.0" width="10.4" height="10.4" fill="#ec392e"/>
<rect x="582.7" y="953.1" width="10.4" height="10.4" fill="#ec392e"/>
<rect x="604.9" y="950.1" width="10.4" height="10.4" fill="#ec392e"/>
<rect x="627.2" y="942.8" width="10.4" height="10.4" fill="#ec392e"/>
<rect x="649.4" y="947.1" width="10.4" height="10.4" fill="#ec392e"/>
<rect x="671.7" y="946.5" width="10.4" height="10.4" fill="#ec392e"/>
<rect x="693.9" y="936.4" width="10.4" height="10.4" fill="#ec392e"/>
<rect x="137.9" y="704.2" width="10.4" height="10.4" fill="#ec392e"/>
<rect x="160.1" y="688.1" width="10.4" height="10.4" fill="#ec392e"/>
<rect x="182.4" y="661.8" width="10.4" height="10.4" fill="#ec392e"/>
<rect x="204.6" y="653.7" width="10.4" height="10.4" fill="#ec392e"/>
<rect x="226.9" y="634.8" width="10.4" height="10.4" fill="#ec392e"/>
<rect x="249.1" y="824.9" width="10.4" height="10.4" fill="#ec392e"/>
<rect x="271.3" y="790.9" width="10.4" height="10.4" fill="#ec392e"/>
<rect x="293.6" y="715.2" width="10.4" height="10.4" fill="#ec392e"/>
<rect x="315.8" y="738.9" width="10.4" height="10.4" fill="#ec392e"/>
<rect x="338.1" y="705.5" width="10.4" height="10.4" fill="#ec392e"/>
<rect x="360.3" y="792.7" width="10.4" height="10.4" fill="#ec392e"/>
<rect x="382.5" y="723.5" width="10.4" height="10.4" fill="#ec392e"/>
<rect x="404.8" y="822.0" width="10.4" height="10.4" fill="#ec392e"/>
<rect x="427.0" y="869.0" width="10.4" height="10.4" fill="#ec392e"/>
<rect x="449.3" y="789.7" width="10.4" height="10.4" fill="#ec392e"/>
<rect x="471.5" y="809.4" width="10.4" height="10.4" fill="#ec392e"/>
<rect x="493.7" y="884.4" width="10.4" height="10.4" fill="#ec392e"/>
<rect x="516.0" y="901.7" width="10.4" height="10.4" fill="#ec392e"/>
<rect x="538.2" y="924.1" width="10.4" height="10.4" fill="#ec392e"/>
<rect x="560.5" y="938.2" width="10.4" height="10.4" fill="#ec392e"/>
<rect x="582.7" y="954.9" width="10.4" height="10.4" fill="#ec392e"/>
<rect x="604.9" y="952.4" width="10.4" height="10.4" fill="#ec392e"/>
<rect x="627.2" y="944.3" width="10.4" height="10.4" fill="#ec392e"/>
<rect x="649.4" y="949.9" width="10.4" height="10.4" fill="#ec392e"/>
<rect x="671.7" y="949.2" width="10.4" height="10.4" fill="#ec392e"/>
<rect x="693.9" y="938.9" width="10.4" height="10.4" fill="#ec392e"/>
<rect x="137.9" y="739.3" width="10.4" height="10.4" fill="#ec392e"/>
<rect x="160.1" y="659.8" width="10.4" height="10.4" fill="#ec392e"/>
<rect x="182.4" y="661.8" width="10.4" height="10.4" fill="#ec392e"/>
<rect x="204.6" y="655.2" width="10.4" height="10.4" fill="#ec392e"/>
<rect x="226.9" y="640.5" width="10.4" height="10.4" fill="#ec392e"/>
<rect x="249.1" y="826.3" width="10.4" height="10.4" fill="#ec392e"/>
<rect x="271.3" y="792.5" width="10.4" height="10.4" fill="#ec392e"/>
<rect x="293.6" y="717.7" width="10.4" height="10.4" fill="#ec392e"/>
<rect x="315.8" y="753.5" width="10.4" height="10.4" fill="#ec392e"/>
<rect x="338.1" y="709.2" width="10.4" height="10.4" fill="#ec392e"/>
<rect x="360.3" y="796.4" width="10.4" height="10.4" fill="#ec392e"/>
<rect x="382.5" y="726.3" width="10.4" height="10.4" fill="#ec392e"/>
<rect x="404.8" y="825.7" width="10.4" height="10.4" fill="#ec392e"/>
<rect x="427.0" y="870.4" width="10.4" height="10.4" fill="#ec392e"/>
<rect x="449.3" y="790.8" width="10.4" height="10.4" fill="#ec392e"/>
<rect x="471.5" y="810.2" width="10.4" height="10.4" fill="#ec392e"/>
<rect x="493.7" y="885.8" width="10.4" height="10.4" fill="#ec392e"/>
<rect x="516.0" y="904.1" width="10.4" height="10.4" fill="#ec392e"/>
<rect x="538.2" y="926.0" width="10.4" height="10.4" fill="#ec392e"/>
<rect x="560.5" y="939.4" width="10.4" height="10.4" fill="#ec392e"/>
<rect x="582.7" y="956.8" width="10.4" height="10.4" fill="#ec392e"/>
<rect x="604.9" y="954.8" width="10.4" height="10.4" fill="#ec392e"/>
<rect x="627.2" y="945.8" width="10.4" height="10.4" fill="#ec392e"/>
<rect x="649.4" y="952.8" width="10.4" height="10.4" fill="#ec392e"/>
<rect x="671.7" y="951.8" width="10.4" height="10.4" fill="#ec392e"/>
<rect x="693.9" y="941.3" width="10.4" height="10.4" fill="#ec392e"/>
<rect x="137.9" y="739.3" width="10.4" height="10.4" fill="#ec392e"/>
<rect x="160.1" y="659.8" width="10.4" height="10.4" fill="#ec392e"/>
<rect x="182.4" y="661.8" width="10.4" height="10.4" fill="#ec392e"/>
<rect x="204.6" y="655.2" width="10.4" height="10.4" fill="#ec392e"/>
<rect x="226.9" y="640.5" width="10.4" height="10.4" fill="#ec392e"/>
<rect x="249.1" y="826.3" width="10.4" height="10.4" fill="#ec392e"/>
<rect x="271.3" y="792.5" width="10.4" height="10.4" fill="#ec392e"/>
<rect x="293.6" y="717.7" width="10.4" height="10.4" fill="#ec392e"/>
<rect x="315.8" y="753.5" width="10.4" height="10.4" fill="#ec392e"/>
<rect x="338.1" y="709.2" width="10.4" height="10.4" fill="#ec392e"/>
<rect x="360.3" y="796.4" width="10.4" height="10.4" fill="#ec392e"/>
<rect x="382.5" y="726.3" width="10.4" height="10.4" fill="#ec392e"/>
<rect x="404.8" y="825.7" width="10.4" height="10.4" fill="#ec392e"/>
<rect x="427.0" y="889.1" width="10.4" height="10.4" fill="#ec392e"/>
<rect x="449.3" y="790.8" width="10.4" height="10.4" fill="#ec392e"/>
<rect x="471.5" y="810.2" width="10.4" height="10.4" fill="#ec392e"/>
<rect x="493.7" y="883.8" width="10.4" height="10.4" fill="#ec392e"/>
<rect x="516.0" y="916.9" width="10.4" height="10.4" fill="#ec392e"/>
<rect x="538.2" y="941.3" width="10.4" height="10.4" fill="#ec392e"/>
<rect x="560.5" y="953.5" width="10.4" height="10.4" fill="#ec392e"/>
<rect x="582.7" y="960.8" width="10.4" height="10.4" fill="#ec392e"/>
<rect x="604.9" y="958.8" width="10.4" height="10.4" fill="#ec392e"/>
<rect x="627.2" y="958.3" width="10.4" height="10.4" fill="#ec392e"/>
<rect x="649.4" y="958.3" width="10.4" height="10.4" fill="#ec392e"/>
<rect x="671.7" y="951.8" width="10.4" height="10.4" fill="#ec392e"/>
<rect x="693.9" y="941.8" width="10.4" height="10.4" fill="#ec392e"/>
<line x1="485.90" y1="973.30" x2="519.00" y2="946.50" stroke="#000" stroke-width="2.4" />
<polygon points="530.5,935.6 513.2,941.2 521,944.3 522.3,952.1" fill="#000"/>
<text x="440.2" y="996.1" font-size="27" fill="#000" >(Or-10)</text>
<line x1="143.10" y1="1048.00" x2="143.10" y2="1039.50" stroke="#000" stroke-width="2" />
<line x1="165.34" y1="1048.00" x2="165.34" y2="1039.50" stroke="#000" stroke-width="2" />
<line x1="187.58" y1="1048.00" x2="187.58" y2="1039.50" stroke="#000" stroke-width="2" />
<line x1="209.82" y1="1048.00" x2="209.82" y2="1039.50" stroke="#000" stroke-width="2" />
<line x1="232.06" y1="1048.00" x2="232.06" y2="1039.50" stroke="#000" stroke-width="2" />
<line x1="254.30" y1="1048.00" x2="254.30" y2="1039.50" stroke="#000" stroke-width="2" />
<line x1="276.54" y1="1048.00" x2="276.54" y2="1039.50" stroke="#000" stroke-width="2" />
<line x1="298.78" y1="1048.00" x2="298.78" y2="1039.50" stroke="#000" stroke-width="2" />
<line x1="321.02" y1="1048.00" x2="321.02" y2="1039.50" stroke="#000" stroke-width="2" />
<line x1="343.26" y1="1048.00" x2="343.26" y2="1039.50" stroke="#000" stroke-width="2" />
<line x1="365.50" y1="1048.00" x2="365.50" y2="1039.50" stroke="#000" stroke-width="2" />
<line x1="387.74" y1="1048.00" x2="387.74" y2="1039.50" stroke="#000" stroke-width="2" />
<line x1="409.98" y1="1048.00" x2="409.98" y2="1039.50" stroke="#000" stroke-width="2" />
<line x1="432.22" y1="1048.00" x2="432.22" y2="1039.50" stroke="#000" stroke-width="2" />
<line x1="454.46" y1="1048.00" x2="454.46" y2="1039.50" stroke="#000" stroke-width="2" />
<line x1="476.70" y1="1048.00" x2="476.70" y2="1039.50" stroke="#000" stroke-width="2" />
<line x1="498.94" y1="1048.00" x2="498.94" y2="1039.50" stroke="#000" stroke-width="2" />
<line x1="521.18" y1="1048.00" x2="521.18" y2="1039.50" stroke="#000" stroke-width="2" />
<line x1="543.42" y1="1048.00" x2="543.42" y2="1039.50" stroke="#000" stroke-width="2" />
<line x1="565.66" y1="1048.00" x2="565.66" y2="1039.50" stroke="#000" stroke-width="2" />
<line x1="587.90" y1="1048.00" x2="587.90" y2="1039.50" stroke="#000" stroke-width="2" />
<line x1="610.14" y1="1048.00" x2="610.14" y2="1039.50" stroke="#000" stroke-width="2" />
<line x1="632.38" y1="1048.00" x2="632.38" y2="1039.50" stroke="#000" stroke-width="2" />
<line x1="654.62" y1="1048.00" x2="654.62" y2="1039.50" stroke="#000" stroke-width="2" />
<line x1="676.86" y1="1048.00" x2="676.86" y2="1039.50" stroke="#000" stroke-width="2" />
<line x1="699.10" y1="1048.00" x2="699.10" y2="1039.50" stroke="#000" stroke-width="2" />
<line x1="120.80" y1="979.14" x2="125.30" y2="979.14" stroke="#000" stroke-width="2" />
<line x1="120.80" y1="938.86" x2="125.30" y2="938.86" stroke="#000" stroke-width="2" />
<line x1="120.80" y1="910.28" x2="125.30" y2="910.28" stroke="#000" stroke-width="2" />
<line x1="120.80" y1="888.11" x2="125.30" y2="888.11" stroke="#000" stroke-width="2" />
<line x1="120.80" y1="870.00" x2="125.30" y2="870.00" stroke="#000" stroke-width="2" />
<line x1="120.80" y1="854.68" x2="125.30" y2="854.68" stroke="#000" stroke-width="2" />
<line x1="120.80" y1="841.42" x2="125.30" y2="841.42" stroke="#000" stroke-width="2" />
<line x1="120.80" y1="829.72" x2="125.30" y2="829.72" stroke="#000" stroke-width="2" />
<line x1="120.80" y1="750.39" x2="125.30" y2="750.39" stroke="#000" stroke-width="2" />
<line x1="120.80" y1="710.11" x2="125.30" y2="710.11" stroke="#000" stroke-width="2" />
<line x1="120.80" y1="681.53" x2="125.30" y2="681.53" stroke="#000" stroke-width="2" />
<line x1="120.80" y1="659.36" x2="125.30" y2="659.36" stroke="#000" stroke-width="2" />
<line x1="120.80" y1="641.25" x2="125.30" y2="641.25" stroke="#000" stroke-width="2" />
<line x1="120.80" y1="625.93" x2="125.30" y2="625.93" stroke="#000" stroke-width="2" />
<line x1="120.80" y1="612.67" x2="125.30" y2="612.67" stroke="#000" stroke-width="2" />
<line x1="120.80" y1="600.97" x2="125.30" y2="600.97" stroke="#000" stroke-width="2" />
<line x1="120.80" y1="819.25" x2="129.80" y2="819.25" stroke="#000" stroke-width="2" />
<rect x="120.8" y="590.7" width="600.9" height="457.3" fill="none" stroke="#000" stroke-width="2.5"/>
<text x="105.3" y="834.6" font-size="35.5" text-anchor="end" fill="#000" >10</text>
<text x="103.2" y="1067.8" font-size="35.5" text-anchor="end" fill="#000" >1</text>
<text transform="translate(29.3,1066) rotate(-90)" font-size="40.5" textLength="462" lengthAdjust="spacingAndGlyphs">Sample / Primitive mantle</text>
<text x="663.4" y="627.4" font-size="36.8" font-weight="bold" fill="#000" >(c)</text>
<text transform="translate(143.3,1095.3) scale(0.75,1)" font-size="41" text-anchor="middle">Cs</text>
<text transform="translate(165.8,1136.5) scale(0.75,1)" font-size="41" text-anchor="middle">Rb</text>
<text transform="translate(188.2,1095.3) scale(0.75,1)" font-size="41" text-anchor="middle">Ba</text>
<text transform="translate(210.7,1136.5) scale(0.75,1)" font-size="41" text-anchor="middle">Th</text>
<text transform="translate(233.2,1095.3) scale(0.75,1)" font-size="41" text-anchor="middle">U</text>
<text transform="translate(255.7,1136.5) scale(0.75,1)" font-size="41" text-anchor="middle">Nb</text>
<text transform="translate(278.1,1095.3) scale(0.75,1)" font-size="41" text-anchor="middle">Ta</text>
<text transform="translate(300.6,1136.5) scale(0.75,1)" font-size="41" text-anchor="middle">La</text>
<text transform="translate(323.1,1095.3) scale(0.75,1)" font-size="41" text-anchor="middle">Ce</text>
<text transform="translate(345.5,1136.5) scale(0.75,1)" font-size="41" text-anchor="middle">Pb</text>
<text transform="translate(368.0,1095.3) scale(0.75,1)" font-size="41" text-anchor="middle">Pr</text>
<text transform="translate(390.5,1136.5) scale(0.75,1)" font-size="41" text-anchor="middle">Sr</text>
<text transform="translate(412.9,1095.3) scale(0.75,1)" font-size="41" text-anchor="middle">Nd</text>
<text transform="translate(435.4,1136.5) scale(0.75,1)" font-size="41" text-anchor="middle">Sm</text>
<text transform="translate(457.9,1095.3) scale(0.75,1)" font-size="41" text-anchor="middle">Zr</text>
<text transform="translate(480.3,1136.5) scale(0.75,1)" font-size="41" text-anchor="middle">Hf</text>
<text transform="translate(502.8,1095.3) scale(0.75,1)" font-size="41" text-anchor="middle">Eu</text>
<text transform="translate(525.3,1136.5) scale(0.75,1)" font-size="41" text-anchor="middle">Gd</text>
<text transform="translate(547.8,1095.3) scale(0.75,1)" font-size="41" text-anchor="middle">Tb</text>
<text transform="translate(570.2,1136.5) scale(0.75,1)" font-size="41" text-anchor="middle">Dy</text>
<text transform="translate(592.7,1095.3) scale(0.75,1)" font-size="41" text-anchor="middle">Y</text>
<text transform="translate(615.2,1136.5) scale(0.75,1)" font-size="41" text-anchor="middle">Ho</text>
<text transform="translate(637.6,1095.3) scale(0.75,1)" font-size="41" text-anchor="middle">Er</text>
<text transform="translate(660.1,1136.5) scale(0.75,1)" font-size="41" text-anchor="middle">Tm</text>
<text transform="translate(682.6,1095.3) scale(0.75,1)" font-size="41" text-anchor="middle">Yb</text>
<text transform="translate(705.0,1136.5) scale(0.75,1)" font-size="41" text-anchor="middle">Lu</text>
<polyline points="954.4,663.0 1009.2,686.5 1064.0,764.6 1118.7,827.0 1173.5,854.7 1228.3,867.8 1283.1,903.7 1337.9,920.0 1392.6,923.7 1447.4,920.7" fill="none" stroke="#86888a" stroke-width="2.0" stroke-linejoin="round"/>
<polyline points="954.4,663.0 1009.2,686.8 1064.0,763.6 1118.7,829.3 1173.5,856.8 1228.3,867.5 1283.1,915.9 1337.9,922.6 1392.6,924.8 1447.4,921.3" fill="none" stroke="#86888a" stroke-width="2.0" stroke-linejoin="round"/>
<polyline points="954.4,664.2 1009.2,687.0 1064.0,765.6 1118.7,828.1 1173.5,856.4 1228.3,869.4 1283.1,914.3 1337.9,922.3 1392.6,925.3 1447.4,922.8" fill="none" stroke="#86888a" stroke-width="2.0" stroke-linejoin="round"/>
<polyline points="954.4,666.2 1009.2,688.9 1064.0,766.5 1118.7,831.4 1173.5,858.7 1228.3,871.0 1283.1,918.4 1337.9,925.1 1392.6,927.4 1447.4,923.5" fill="none" stroke="#86888a" stroke-width="2.0" stroke-linejoin="round"/>
<polyline points="954.4,666.7 1009.2,688.9 1064.0,767.0 1118.7,830.7 1173.5,861.2 1228.3,872.9 1283.1,919.1 1337.9,924.4 1392.6,928.8 1447.4,924.8" fill="none" stroke="#86888a" stroke-width="2.0" stroke-linejoin="round"/>
<polyline points="954.4,666.9 1009.2,689.6 1064.0,769.4 1118.7,833.3 1173.5,863.4 1228.3,874.3 1283.1,918.0 1337.9,926.3 1392.6,929.4 1447.4,924.4" fill="none" stroke="#86888a" stroke-width="2.0" stroke-linejoin="round"/>
<polyline points="954.4,668.2 1009.2,690.5 1064.0,770.5 1118.7,835.5 1173.5,861.7 1228.3,875.2 1283.1,919.2 1337.9,925.8 1392.6,930.5 1447.4,925.1" fill="none" stroke="#86888a" stroke-width="2.0" stroke-linejoin="round"/>
<polyline points="954.4,670.5 1009.2,691.5 1064.0,769.6 1118.7,836.7 1173.5,863.2 1228.3,878.0 1283.1,920.5 1337.9,928.1 1392.6,930.0 1447.4,926.4" fill="none" stroke="#86888a" stroke-width="2.0" stroke-linejoin="round"/>
<polyline points="954.4,672.6 1009.2,692.9 1064.0,770.9 1118.7,838.5 1173.5,864.8 1228.3,878.5 1283.1,923.9 1337.9,929.9 1392.6,930.8 1447.4,929.1" fill="none" stroke="#86888a" stroke-width="2.0" stroke-linejoin="round"/>
<polyline points="954.4,671.7 1009.2,692.6 1064.0,773.0 1118.7,838.0 1173.5,866.5 1228.3,878.8 1283.1,922.8 1337.9,931.0 1392.6,932.2 1447.4,929.2" fill="none" stroke="#86888a" stroke-width="2.0" stroke-linejoin="round"/>
<polyline points="954.4,673.1 1009.2,693.7 1064.0,774.4 1118.7,839.8 1173.5,868.9 1228.3,883.1 1283.1,924.3 1337.9,930.9 1392.6,935.1 1447.4,930.7" fill="none" stroke="#86888a" stroke-width="2.0" stroke-linejoin="round"/>
<polyline points="954.4,673.9 1009.2,694.0 1064.0,774.8 1118.7,842.5 1173.5,869.0 1228.3,884.8 1283.1,927.5 1337.9,933.4 1392.6,934.9 1447.4,929.9" fill="none" stroke="#86888a" stroke-width="2.0" stroke-linejoin="round"/>
<polyline points="954.4,674.4 1009.2,696.2 1064.0,774.6 1118.7,843.0 1173.5,870.6 1228.3,885.8 1283.1,927.9 1337.9,933.7 1392.6,935.3 1447.4,932.4" fill="none" stroke="#86888a" stroke-width="2.0" stroke-linejoin="round"/>
<polyline points="954.4,675.5 1009.2,695.5 1064.0,776.3 1118.7,844.8 1173.5,873.2 1228.3,885.3 1283.1,930.0 1337.9,934.6 1392.6,935.9 1447.4,932.3" fill="none" stroke="#86888a" stroke-width="2.0" stroke-linejoin="round"/>
<polyline points="954.4,677.5 1009.2,696.0 1064.0,776.3 1118.7,844.5 1173.5,874.5 1228.3,886.2 1283.1,929.6 1337.9,937.8 1392.6,939.6 1447.4,934.3" fill="none" stroke="#86888a" stroke-width="2.0" stroke-linejoin="round"/>
<polyline points="954.4,679.2 1009.2,697.7 1064.0,777.2 1118.7,844.7 1173.5,873.9 1228.3,890.4 1283.1,931.8 1337.9,939.2 1392.6,938.1 1447.4,935.2" fill="none" stroke="#86888a" stroke-width="2.0" stroke-linejoin="round"/>
<polyline points="954.4,679.7 1009.2,698.7 1064.0,778.6 1118.7,849.1 1173.5,875.5 1228.3,890.5 1283.1,933.1 1337.9,940.2 1392.6,941.1 1447.4,936.4" fill="none" stroke="#86888a" stroke-width="2.0" stroke-linejoin="round"/>
<polyline points="954.4,681.6 1009.2,699.8 1064.0,779.7 1118.7,849.4 1173.5,879.8 1228.3,893.1 1283.1,933.3 1337.9,941.1 1392.6,942.5 1447.4,937.0" fill="none" stroke="#86888a" stroke-width="2.0" stroke-linejoin="round"/>
<polyline points="954.4,682.2 1009.2,699.6 1064.0,781.2 1118.7,850.4 1173.5,878.3 1228.3,893.7 1283.1,936.2 1337.9,942.6 1392.6,943.2 1447.4,937.6" fill="none" stroke="#86888a" stroke-width="2.0" stroke-linejoin="round"/>
<polyline points="954.4,683.5 1009.2,700.7 1064.0,781.8 1118.7,852.4 1173.5,879.7 1228.3,895.5 1283.1,934.5 1337.9,942.9 1392.6,943.6 1447.4,938.1" fill="none" stroke="#86888a" stroke-width="2.0" stroke-linejoin="round"/>
<polyline points="954.4,684.5 1009.2,701.3 1064.0,783.2 1118.7,853.9 1173.5,881.7 1228.3,894.3 1283.1,936.5 1337.9,944.3 1392.6,943.9 1447.4,939.0" fill="none" stroke="#86888a" stroke-width="2.0" stroke-linejoin="round"/>
<polyline points="954.4,685.0 1009.2,702.0 1064.0,783.8 1118.7,853.9 1173.5,883.4 1228.3,897.5 1283.1,937.4 1337.9,944.8 1392.6,945.8 1447.4,940.8" fill="none" stroke="#86888a" stroke-width="2.0" stroke-linejoin="round"/>
<rect x="950.8" y="659.4" width="7.2" height="7.2" fill="#86888a"/>
<rect x="1005.6" y="682.9" width="7.2" height="7.2" fill="#86888a"/>
<rect x="1060.4" y="761.0" width="7.2" height="7.2" fill="#86888a"/>
<rect x="1115.1" y="823.4" width="7.2" height="7.2" fill="#86888a"/>
<rect x="1169.9" y="851.1" width="7.2" height="7.2" fill="#86888a"/>
<rect x="1224.7" y="864.2" width="7.2" height="7.2" fill="#86888a"/>
<rect x="1279.5" y="900.1" width="7.2" height="7.2" fill="#86888a"/>
<rect x="1334.3" y="916.4" width="7.2" height="7.2" fill="#86888a"/>
<rect x="1389.0" y="920.1" width="7.2" height="7.2" fill="#86888a"/>
<rect x="1443.8" y="917.1" width="7.2" height="7.2" fill="#86888a"/>
<rect x="950.8" y="659.4" width="7.2" height="7.2" fill="#86888a"/>
<rect x="1005.6" y="683.2" width="7.2" height="7.2" fill="#86888a"/>
<rect x="1060.4" y="760.0" width="7.2" height="7.2" fill="#86888a"/>
<rect x="1115.1" y="825.7" width="7.2" height="7.2" fill="#86888a"/>
<rect x="1169.9" y="853.2" width="7.2" height="7.2" fill="#86888a"/>
<rect x="1224.7" y="863.9" width="7.2" height="7.2" fill="#86888a"/>
<rect x="1279.5" y="912.3" width="7.2" height="7.2" fill="#86888a"/>
<rect x="1334.3" y="919.0" width="7.2" height="7.2" fill="#86888a"/>
<rect x="1389.0" y="921.2" width="7.2" height="7.2" fill="#86888a"/>
<rect x="1443.8" y="917.7" width="7.2" height="7.2" fill="#86888a"/>
<rect x="950.8" y="660.6" width="7.2" height="7.2" fill="#86888a"/>
<rect x="1005.6" y="683.4" width="7.2" height="7.2" fill="#86888a"/>
<rect x="1060.4" y="762.0" width="7.2" height="7.2" fill="#86888a"/>
<rect x="1115.1" y="824.5" width="7.2" height="7.2" fill="#86888a"/>
<rect x="1169.9" y="852.8" width="7.2" height="7.2" fill="#86888a"/>
<rect x="1224.7" y="865.8" width="7.2" height="7.2" fill="#86888a"/>
<rect x="1279.5" y="910.7" width="7.2" height="7.2" fill="#86888a"/>
<rect x="1334.3" y="918.7" width="7.2" height="7.2" fill="#86888a"/>
<rect x="1389.0" y="921.7" width="7.2" height="7.2" fill="#86888a"/>
<rect x="1443.8" y="919.2" width="7.2" height="7.2" fill="#86888a"/>
<rect x="950.8" y="662.6" width="7.2" height="7.2" fill="#86888a"/>
<rect x="1005.6" y="685.3" width="7.2" height="7.2" fill="#86888a"/>
<rect x="1060.4" y="762.9" width="7.2" height="7.2" fill="#86888a"/>
<rect x="1115.1" y="827.8" width="7.2" height="7.2" fill="#86888a"/>
<rect x="1169.9" y="855.1" width="7.2" height="7.2" fill="#86888a"/>
<rect x="1224.7" y="867.4" width="7.2" height="7.2" fill="#86888a"/>
<rect x="1279.5" y="914.8" width="7.2" height="7.2" fill="#86888a"/>
<rect x="1334.3" y="921.5" width="7.2" height="7.2" fill="#86888a"/>
<rect x="1389.0" y="923.8" width="7.2" height="7.2" fill="#86888a"/>
<rect x="1443.8" y="919.9" width="7.2" height="7.2" fill="#86888a"/>
<rect x="950.8" y="663.1" width="7.2" height="7.2" fill="#86888a"/>
<rect x="1005.6" y="685.3" width="7.2" height="7.2" fill="#86888a"/>
<rect x="1060.4" y="763.4" width="7.2" height="7.2" fill="#86888a"/>
<rect x="1115.1" y="827.1" width="7.2" height="7.2" fill="#86888a"/>
<rect x="1169.9" y="857.6" width="7.2" height="7.2" fill="#86888a"/>
<rect x="1224.7" y="869.3" width="7.2" height="7.2" fill="#86888a"/>
<rect x="1279.5" y="915.5" width="7.2" height="7.2" fill="#86888a"/>
<rect x="1334.3" y="920.8" width="7.2" height="7.2" fill="#86888a"/>
<rect x="1389.0" y="925.2" width="7.2" height="7.2" fill="#86888a"/>
<rect x="1443.8" y="921.2" width="7.2" height="7.2" fill="#86888a"/>
<rect x="950.8" y="663.3" width="7.2" height="7.2" fill="#86888a"/>
<rect x="1005.6" y="686.0" width="7.2" height="7.2" fill="#86888a"/>
<rect x="1060.4" y="765.8" width="7.2" height="7.2" fill="#86888a"/>
<rect x="1115.1" y="829.7" width="7.2" height="7.2" fill="#86888a"/>
<rect x="1169.9" y="859.8" width="7.2" height="7.2" fill="#86888a"/>
<rect x="1224.7" y="870.7" width="7.2" height="7.2" fill="#86888a"/>
<rect x="1279.5" y="914.4" width="7.2" height="7.2" fill="#86888a"/>
<rect x="1334.3" y="922.7" width="7.2" height="7.2" fill="#86888a"/>
<rect x="1389.0" y="925.8" width="7.2" height="7.2" fill="#86888a"/>
<rect x="1443.8" y="920.8" width="7.2" height="7.2" fill="#86888a"/>
<rect x="950.8" y="664.6" width="7.2" height="7.2" fill="#86888a"/>
<rect x="1005.6" y="686.9" width="7.2" height="7.2" fill="#86888a"/>
<rect x="1060.4" y="766.9" width="7.2" height="7.2" fill="#86888a"/>
<rect x="1115.1" y="831.9" width="7.2" height="7.2" fill="#86888a"/>
<rect x="1169.9" y="858.1" width="7.2" height="7.2" fill="#86888a"/>
<rect x="1224.7" y="871.6" width="7.2" height="7.2" fill="#86888a"/>
<rect x="1279.5" y="915.6" width="7.2" height="7.2" fill="#86888a"/>
<rect x="1334.3" y="922.2" width="7.2" height="7.2" fill="#86888a"/>
<rect x="1389.0" y="926.9" width="7.2" height="7.2" fill="#86888a"/>
<rect x="1443.8" y="921.5" width="7.2" height="7.2" fill="#86888a"/>
<rect x="950.8" y="666.9" width="7.2" height="7.2" fill="#86888a"/>
<rect x="1005.6" y="687.9" width="7.2" height="7.2" fill="#86888a"/>
<rect x="1060.4" y="766.0" width="7.2" height="7.2" fill="#86888a"/>
<rect x="1115.1" y="833.1" width="7.2" height="7.2" fill="#86888a"/>
<rect x="1169.9" y="859.6" width="7.2" height="7.2" fill="#86888a"/>
<rect x="1224.7" y="874.4" width="7.2" height="7.2" fill="#86888a"/>
<rect x="1279.5" y="916.9" width="7.2" height="7.2" fill="#86888a"/>
<rect x="1334.3" y="924.5" width="7.2" height="7.2" fill="#86888a"/>
<rect x="1389.0" y="926.4" width="7.2" height="7.2" fill="#86888a"/>
<rect x="1443.8" y="922.8" width="7.2" height="7.2" fill="#86888a"/>
<rect x="950.8" y="669.0" width="7.2" height="7.2" fill="#86888a"/>
<rect x="1005.6" y="689.3" width="7.2" height="7.2" fill="#86888a"/>
<rect x="1060.4" y="767.3" width="7.2" height="7.2" fill="#86888a"/>
<rect x="1115.1" y="834.9" width="7.2" height="7.2" fill="#86888a"/>
<rect x="1169.9" y="861.2" width="7.2" height="7.2" fill="#86888a"/>
<rect x="1224.7" y="874.9" width="7.2" height="7.2" fill="#86888a"/>
<rect x="1279.5" y="920.3" width="7.2" height="7.2" fill="#86888a"/>
<rect x="1334.3" y="926.3" width="7.2" height="7.2" fill="#86888a"/>
<rect x="1389.0" y="927.2" width="7.2" height="7.2" fill="#86888a"/>
<rect x="1443.8" y="925.5" width="7.2" height="7.2" fill="#86888a"/>
<rect x="950.8" y="668.1" width="7.2" height="7.2" fill="#86888a"/>
<rect x="1005.6" y="689.0" width="7.2" height="7.2" fill="#86888a"/>
<rect x="1060.4" y="769.4" width="7.2" height="7.2" fill="#86888a"/>
<rect x="1115.1" y="834.4" width="7.2" height="7.2" fill="#86888a"/>
<rect x="1169.9" y="862.9" width="7.2" height="7.2" fill="#86888a"/>
<rect x="1224.7" y="875.2" width="7.2" height="7.2" fill="#86888a"/>
<rect x="1279.5" y="919.2" width="7.2" height="7.2" fill="#86888a"/>
<rect x="1334.3" y="927.4" width="7.2" height="7.2" fill="#86888a"/>
<rect x="1389.0" y="928.6" width="7.2" height="7.2" fill="#86888a"/>
<rect x="1443.8" y="925.6" width="7.2" height="7.2" fill="#86888a"/>
<rect x="950.8" y="669.5" width="7.2" height="7.2" fill="#86888a"/>
<rect x="1005.6" y="690.1" width="7.2" height="7.2" fill="#86888a"/>
<rect x="1060.4" y="770.8" width="7.2" height="7.2" fill="#86888a"/>
<rect x="1115.1" y="836.2" width="7.2" height="7.2" fill="#86888a"/>
<rect x="1169.9" y="865.3" width="7.2" height="7.2" fill="#86888a"/>
<rect x="1224.7" y="879.5" width="7.2" height="7.2" fill="#86888a"/>
<rect x="1279.5" y="920.7" width="7.2" height="7.2" fill="#86888a"/>
<rect x="1334.3" y="927.3" width="7.2" height="7.2" fill="#86888a"/>
<rect x="1389.0" y="931.5" width="7.2" height="7.2" fill="#86888a"/>
<rect x="1443.8" y="927.1" width="7.2" height="7.2" fill="#86888a"/>
<rect x="950.8" y="670.3" width="7.2" height="7.2" fill="#86888a"/>
<rect x="1005.6" y="690.4" width="7.2" height="7.2" fill="#86888a"/>
<rect x="1060.4" y="771.2" width="7.2" height="7.2" fill="#86888a"/>
<rect x="1115.1" y="838.9" width="7.2" height="7.2" fill="#86888a"/>
<rect x="1169.9" y="865.4" width="7.2" height="7.2" fill="#86888a"/>
<rect x="1224.7" y="881.2" width="7.2" height="7.2" fill="#86888a"/>
<rect x="1279.5" y="923.9" width="7.2" height="7.2" fill="#86888a"/>
<rect x="1334.3" y="929.8" width="7.2" height="7.2" fill="#86888a"/>
<rect x="1389.0" y="931.3" width="7.2" height="7.2" fill="#86888a"/>
<rect x="1443.8" y="926.3" width="7.2" height="7.2" fill="#86888a"/>
<rect x="950.8" y="670.8" width="7.2" height="7.2" fill="#86888a"/>
<rect x="1005.6" y="692.6" width="7.2" height="7.2" fill="#86888a"/>
<rect x="1060.4" y="771.0" width="7.2" height="7.2" fill="#86888a"/>
<rect x="1115.1" y="839.4" width="7.2" height="7.2" fill="#86888a"/>
<rect x="1169.9" y="867.0" width="7.2" height="7.2" fill="#86888a"/>
<rect x="1224.7" y="882.2" width="7.2" height="7.2" fill="#86888a"/>
<rect x="1279.5" y="924.3" width="7.2" height="7.2" fill="#86888a"/>
<rect x="1334.3" y="930.1" width="7.2" height="7.2" fill="#86888a"/>
<rect x="1389.0" y="931.7" width="7.2" height="7.2" fill="#86888a"/>
<rect x="1443.8" y="928.8" width="7.2" height="7.2" fill="#86888a"/>
<rect x="950.8" y="671.9" width="7.2" height="7.2" fill="#86888a"/>
<rect x="1005.6" y="691.9" width="7.2" height="7.2" fill="#86888a"/>
<rect x="1060.4" y="772.7" width="7.2" height="7.2" fill="#86888a"/>
<rect x="1115.1" y="841.2" width="7.2" height="7.2" fill="#86888a"/>
<rect x="1169.9" y="869.6" width="7.2" height="7.2" fill="#86888a"/>
<rect x="1224.7" y="881.7" width="7.2" height="7.2" fill="#86888a"/>
<rect x="1279.5" y="926.4" width="7.2" height="7.2" fill="#86888a"/>
<rect x="1334.3" y="931.0" width="7.2" height="7.2" fill="#86888a"/>
<rect x="1389.0" y="932.3" width="7.2" height="7.2" fill="#86888a"/>
<rect x="1443.8" y="928.7" width="7.2" height="7.2" fill="#86888a"/>
<rect x="950.8" y="673.9" width="7.2" height="7.2" fill="#86888a"/>
<rect x="1005.6" y="692.4" width="7.2" height="7.2" fill="#86888a"/>
<rect x="1060.4" y="772.7" width="7.2" height="7.2" fill="#86888a"/>
<rect x="1115.1" y="840.9" width="7.2" height="7.2" fill="#86888a"/>
<rect x="1169.9" y="870.9" width="7.2" height="7.2" fill="#86888a"/>
<rect x="1224.7" y="882.6" width="7.2" height="7.2" fill="#86888a"/>
<rect x="1279.5" y="926.0" width="7.2" height="7.2" fill="#86888a"/>
<rect x="1334.3" y="934.2" width="7.2" height="7.2" fill="#86888a"/>
<rect x="1389.0" y="936.0" width="7.2" height="7.2" fill="#86888a"/>
<rect x="1443.8" y="930.7" width="7.2" height="7.2" fill="#86888a"/>
<rect x="950.8" y="675.6" width="7.2" height="7.2" fill="#86888a"/>
<rect x="1005.6" y="694.1" width="7.2" height="7.2" fill="#86888a"/>
<rect x="1060.4" y="773.6" width="7.2" height="7.2" fill="#86888a"/>
<rect x="1115.1" y="841.1" width="7.2" height="7.2" fill="#86888a"/>
<rect x="1169.9" y="870.3" width="7.2" height="7.2" fill="#86888a"/>
<rect x="1224.7" y="886.8" width="7.2" height="7.2" fill="#86888a"/>
<rect x="1279.5" y="928.2" width="7.2" height="7.2" fill="#86888a"/>
<rect x="1334.3" y="935.6" width="7.2" height="7.2" fill="#86888a"/>
<rect x="1389.0" y="934.5" width="7.2" height="7.2" fill="#86888a"/>
<rect x="1443.8" y="931.6" width="7.2" height="7.2" fill="#86888a"/>
<rect x="950.8" y="676.1" width="7.2" height="7.2" fill="#86888a"/>
<rect x="1005.6" y="695.1" width="7.2" height="7.2" fill="#86888a"/>
<rect x="1060.4" y="775.0" width="7.2" height="7.2" fill="#86888a"/>
<rect x="1115.1" y="845.5" width="7.2" height="7.2" fill="#86888a"/>
<rect x="1169.9" y="871.9" width="7.2" height="7.2" fill="#86888a"/>
<rect x="1224.7" y="886.9" width="7.2" height="7.2" fill="#86888a"/>
<rect x="1279.5" y="929.5" width="7.2" height="7.2" fill="#86888a"/>
<rect x="1334.3" y="936.6" width="7.2" height="7.2" fill="#86888a"/>
<rect x="1389.0" y="937.5" width="7.2" height="7.2" fill="#86888a"/>
<rect x="1443.8" y="932.8" width="7.2" height="7.2" fill="#86888a"/>
<rect x="950.8" y="678.0" width="7.2" height="7.2" fill="#86888a"/>
<rect x="1005.6" y="696.2" width="7.2" height="7.2" fill="#86888a"/>
<rect x="1060.4" y="776.1" width="7.2" height="7.2" fill="#86888a"/>
<rect x="1115.1" y="845.8" width="7.2" height="7.2" fill="#86888a"/>
<rect x="1169.9" y="876.2" width="7.2" height="7.2" fill="#86888a"/>
<rect x="1224.7" y="889.5" width="7.2" height="7.2" fill="#86888a"/>
<rect x="1279.5" y="929.7" width="7.2" height="7.2" fill="#86888a"/>
<rect x="1334.3" y="937.5" width="7.2" height="7.2" fill="#86888a"/>
<rect x="1389.0" y="938.9" width="7.2" height="7.2" fill="#86888a"/>
<rect x="1443.8" y="933.4" width="7.2" height="7.2" fill="#86888a"/>
<rect x="950.8" y="678.6" width="7.2" height="7.2" fill="#86888a"/>
<rect x="1005.6" y="696.0" width="7.2" height="7.2" fill="#86888a"/>
<rect x="1060.4" y="777.6" width="7.2" height="7.2" fill="#86888a"/>
<rect x="1115.1" y="846.8" width="7.2" height="7.2" fill="#86888a"/>
<rect x="1169.9" y="874.7" width="7.2" height="7.2" fill="#86888a"/>
<rect x="1224.7" y="890.1" width="7.2" height="7.2" fill="#86888a"/>
<rect x="1279.5" y="932.6" width="7.2" height="7.2" fill="#86888a"/>
<rect x="1334.3" y="939.0" width="7.2" height="7.2" fill="#86888a"/>
<rect x="1389.0" y="939.6" width="7.2" height="7.2" fill="#86888a"/>
<rect x="1443.8" y="934.0" width="7.2" height="7.2" fill="#86888a"/>
<rect x="950.8" y="679.9" width="7.2" height="7.2" fill="#86888a"/>
<rect x="1005.6" y="697.1" width="7.2" height="7.2" fill="#86888a"/>
<rect x="1060.4" y="778.2" width="7.2" height="7.2" fill="#86888a"/>
<rect x="1115.1" y="848.8" width="7.2" height="7.2" fill="#86888a"/>
<rect x="1169.9" y="876.1" width="7.2" height="7.2" fill="#86888a"/>
<rect x="1224.7" y="891.9" width="7.2" height="7.2" fill="#86888a"/>
<rect x="1279.5" y="930.9" width="7.2" height="7.2" fill="#86888a"/>
<rect x="1334.3" y="939.3" width="7.2" height="7.2" fill="#86888a"/>
<rect x="1389.0" y="940.0" width="7.2" height="7.2" fill="#86888a"/>
<rect x="1443.8" y="934.5" width="7.2" height="7.2" fill="#86888a"/>
<rect x="950.8" y="680.9" width="7.2" height="7.2" fill="#86888a"/>
<rect x="1005.6" y="697.7" width="7.2" height="7.2" fill="#86888a"/>
<rect x="1060.4" y="779.6" width="7.2" height="7.2" fill="#86888a"/>
<rect x="1115.1" y="850.3" width="7.2" height="7.2" fill="#86888a"/>
<rect x="1169.9" y="878.1" width="7.2" height="7.2" fill="#86888a"/>
<rect x="1224.7" y="890.7" width="7.2" height="7.2" fill="#86888a"/>
<rect x="1279.5" y="932.9" width="7.2" height="7.2" fill="#86888a"/>
<rect x="1334.3" y="940.7" width="7.2" height="7.2" fill="#86888a"/>
<rect x="1389.0" y="940.3" width="7.2" height="7.2" fill="#86888a"/>
<rect x="1443.8" y="935.4" width="7.2" height="7.2" fill="#86888a"/>
<rect x="950.8" y="681.4" width="7.2" height="7.2" fill="#86888a"/>
<rect x="1005.6" y="698.4" width="7.2" height="7.2" fill="#86888a"/>
<rect x="1060.4" y="780.2" width="7.2" height="7.2" fill="#86888a"/>
<rect x="1115.1" y="850.3" width="7.2" height="7.2" fill="#86888a"/>
<rect x="1169.9" y="879.8" width="7.2" height="7.2" fill="#86888a"/>
<rect x="1224.7" y="893.9" width="7.2" height="7.2" fill="#86888a"/>
<rect x="1279.5" y="933.8" width="7.2" height="7.2" fill="#86888a"/>
<rect x="1334.3" y="941.2" width="7.2" height="7.2" fill="#86888a"/>
<rect x="1389.0" y="942.2" width="7.2" height="7.2" fill="#86888a"/>
<rect x="1443.8" y="937.2" width="7.2" height="7.2" fill="#86888a"/>
<polyline points="954.4,657.1 1009.2,696.1 1064.0,802.6 1118.7,887.2 1173.5,910.0 1228.3,925.8 1283.1,987.5 1337.9,995.0 1392.6,992.5 1447.4,980.0" fill="none" stroke="#ec392e" stroke-width="2.3" stroke-linejoin="round"/>
<polyline points="954.4,660.7 1009.2,699.0 1064.0,804.1 1118.7,889.1 1173.5,911.5 1228.3,929.0 1283.1,988.9 1337.9,996.7 1392.6,994.5 1447.4,982.9" fill="none" stroke="#ec392e" stroke-width="2.3" stroke-linejoin="round"/>
<polyline points="954.4,664.3 1009.2,701.9 1064.0,805.6 1118.7,890.9 1173.5,913.0 1228.3,932.2 1283.1,990.4 1337.9,998.3 1392.6,996.6 1447.4,985.7" fill="none" stroke="#ec392e" stroke-width="2.3" stroke-linejoin="round"/>
<polyline points="954.4,667.9 1009.2,704.8 1064.0,807.1 1118.7,892.8 1173.5,914.5 1228.3,935.4 1283.1,991.8 1337.9,1000.0 1392.6,998.6 1447.4,988.6" fill="none" stroke="#ec392e" stroke-width="2.3" stroke-linejoin="round"/>
<polyline points="954.4,671.5 1009.2,707.8 1064.0,808.5 1118.7,894.6 1173.5,916.1 1228.3,938.7 1283.1,993.2 1337.9,1001.7 1392.6,1000.6 1447.4,991.4" fill="none" stroke="#ec392e" stroke-width="2.3" stroke-linejoin="round"/>
<polyline points="954.4,675.1 1009.2,710.7 1064.0,810.0 1118.7,896.5 1173.5,917.6 1228.3,941.9 1283.1,994.6 1337.9,1003.4 1392.6,1002.6 1447.4,994.3" fill="none" stroke="#ec392e" stroke-width="2.3" stroke-linejoin="round"/>
<polyline points="954.4,678.7 1009.2,713.6 1064.0,811.5 1118.7,898.3 1173.5,919.1 1228.3,945.1 1283.1,996.1 1337.9,1005.0 1392.6,1004.7 1447.4,997.1" fill="none" stroke="#ec392e" stroke-width="2.3" stroke-linejoin="round"/>
<polyline points="954.4,682.3 1009.2,705.0 1064.0,823.0 1118.7,900.2 1173.5,920.6 1228.3,948.3 1283.1,997.5 1337.9,1006.7 1392.6,1006.7 1447.4,1000.0" fill="none" stroke="#ec392e" stroke-width="2.3" stroke-linejoin="round"/>
<polyline points="954.4,680.0 1009.2,733.5 1064.0,837.6 1118.7,927.4 1173.5,913.0 1228.3,966.7 1283.1,1019.2 1337.9,1025.3 1392.6,1014.2 1447.4,997.0" fill="none" stroke="#ec392e" stroke-width="2.3" stroke-linejoin="round"/>
<rect x="949.2" y="651.9" width="10.4" height="10.4" fill="#ec392e"/>
<rect x="1004.0" y="690.9" width="10.4" height="10.4" fill="#ec392e"/>
<rect x="1058.8" y="797.4" width="10.4" height="10.4" fill="#ec392e"/>
<rect x="1113.5" y="882.0" width="10.4" height="10.4" fill="#ec392e"/>
<rect x="1168.3" y="904.8" width="10.4" height="10.4" fill="#ec392e"/>
<rect x="1223.1" y="920.6" width="10.4" height="10.4" fill="#ec392e"/>
<rect x="1277.9" y="982.3" width="10.4" height="10.4" fill="#ec392e"/>
<rect x="1332.7" y="989.8" width="10.4" height="10.4" fill="#ec392e"/>
<rect x="1387.4" y="987.3" width="10.4" height="10.4" fill="#ec392e"/>
<rect x="1442.2" y="974.8" width="10.4" height="10.4" fill="#ec392e"/>
<rect x="949.2" y="655.5" width="10.4" height="10.4" fill="#ec392e"/>
<rect x="1004.0" y="693.8" width="10.4" height="10.4" fill="#ec392e"/>
<rect x="1058.8" y="798.9" width="10.4" height="10.4" fill="#ec392e"/>
<rect x="1113.5" y="883.9" width="10.4" height="10.4" fill="#ec392e"/>
<rect x="1168.3" y="906.3" width="10.4" height="10.4" fill="#ec392e"/>
<rect x="1223.1" y="923.8" width="10.4" height="10.4" fill="#ec392e"/>
<rect x="1277.9" y="983.7" width="10.4" height="10.4" fill="#ec392e"/>
<rect x="1332.7" y="991.5" width="10.4" height="10.4" fill="#ec392e"/>
<rect x="1387.4" y="989.3" width="10.4" height="10.4" fill="#ec392e"/>
<rect x="1442.2" y="977.7" width="10.4" height="10.4" fill="#ec392e"/>
<rect x="949.2" y="659.1" width="10.4" height="10.4" fill="#ec392e"/>
<rect x="1004.0" y="696.7" width="10.4" height="10.4" fill="#ec392e"/>
<rect x="1058.8" y="800.4" width="10.4" height="10.4" fill="#ec392e"/>
<rect x="1113.5" y="885.7" width="10.4" height="10.4" fill="#ec392e"/>
<rect x="1168.3" y="907.8" width="10.4" height="10.4" fill="#ec392e"/>
<rect x="1223.1" y="927.0" width="10.4" height="10.4" fill="#ec392e"/>
<rect x="1277.9" y="985.2" width="10.4" height="10.4" fill="#ec392e"/>
<rect x="1332.7" y="993.1" width="10.4" height="10.4" fill="#ec392e"/>
<rect x="1387.4" y="991.4" width="10.4" height="10.4" fill="#ec392e"/>
<rect x="1442.2" y="980.5" width="10.4" height="10.4" fill="#ec392e"/>
<rect x="949.2" y="662.7" width="10.4" height="10.4" fill="#ec392e"/>
<rect x="1004.0" y="699.6" width="10.4" height="10.4" fill="#ec392e"/>
<rect x="1058.8" y="801.9" width="10.4" height="10.4" fill="#ec392e"/>
<rect x="1113.5" y="887.6" width="10.4" height="10.4" fill="#ec392e"/>
<rect x="1168.3" y="909.3" width="10.4" height="10.4" fill="#ec392e"/>
<rect x="1223.1" y="930.2" width="10.4" height="10.4" fill="#ec392e"/>
<rect x="1277.9" y="986.6" width="10.4" height="10.4" fill="#ec392e"/>
<rect x="1332.7" y="994.8" width="10.4" height="10.4" fill="#ec392e"/>
<rect x="1387.4" y="993.4" width="10.4" height="10.4" fill="#ec392e"/>
<rect x="1442.2" y="983.4" width="10.4" height="10.4" fill="#ec392e"/>
<rect x="949.2" y="666.3" width="10.4" height="10.4" fill="#ec392e"/>
<rect x="1004.0" y="702.6" width="10.4" height="10.4" fill="#ec392e"/>
<rect x="1058.8" y="803.3" width="10.4" height="10.4" fill="#ec392e"/>
<rect x="1113.5" y="889.4" width="10.4" height="10.4" fill="#ec392e"/>
<rect x="1168.3" y="910.9" width="10.4" height="10.4" fill="#ec392e"/>
<rect x="1223.1" y="933.5" width="10.4" height="10.4" fill="#ec392e"/>
<rect x="1277.9" y="988.0" width="10.4" height="10.4" fill="#ec392e"/>
<rect x="1332.7" y="996.5" width="10.4" height="10.4" fill="#ec392e"/>
<rect x="1387.4" y="995.4" width="10.4" height="10.4" fill="#ec392e"/>
<rect x="1442.2" y="986.2" width="10.4" height="10.4" fill="#ec392e"/>
<rect x="949.2" y="669.9" width="10.4" height="10.4" fill="#ec392e"/>
<rect x="1004.0" y="705.5" width="10.4" height="10.4" fill="#ec392e"/>
<rect x="1058.8" y="804.8" width="10.4" height="10.4" fill="#ec392e"/>
<rect x="1113.5" y="891.3" width="10.4" height="10.4" fill="#ec392e"/>
<rect x="1168.3" y="912.4" width="10.4" height="10.4" fill="#ec392e"/>
<rect x="1223.1" y="936.7" width="10.4" height="10.4" fill="#ec392e"/>
<rect x="1277.9" y="989.4" width="10.4" height="10.4" fill="#ec392e"/>
<rect x="1332.7" y="998.2" width="10.4" height="10.4" fill="#ec392e"/>
<rect x="1387.4" y="997.4" width="10.4" height="10.4" fill="#ec392e"/>
<rect x="1442.2" y="989.1" width="10.4" height="10.4" fill="#ec392e"/>
<rect x="949.2" y="673.5" width="10.4" height="10.4" fill="#ec392e"/>
<rect x="1004.0" y="708.4" width="10.4" height="10.4" fill="#ec392e"/>
<rect x="1058.8" y="806.3" width="10.4" height="10.4" fill="#ec392e"/>
<rect x="1113.5" y="893.1" width="10.4" height="10.4" fill="#ec392e"/>
<rect x="1168.3" y="913.9" width="10.4" height="10.4" fill="#ec392e"/>
<rect x="1223.1" y="939.9" width="10.4" height="10.4" fill="#ec392e"/>
<rect x="1277.9" y="990.9" width="10.4" height="10.4" fill="#ec392e"/>
<rect x="1332.7" y="999.8" width="10.4" height="10.4" fill="#ec392e"/>
<rect x="1387.4" y="999.5" width="10.4" height="10.4" fill="#ec392e"/>
<rect x="1442.2" y="991.9" width="10.4" height="10.4" fill="#ec392e"/>
<rect x="949.2" y="677.1" width="10.4" height="10.4" fill="#ec392e"/>
<rect x="1004.0" y="699.8" width="10.4" height="10.4" fill="#ec392e"/>
<rect x="1058.8" y="817.8" width="10.4" height="10.4" fill="#ec392e"/>
<rect x="1113.5" y="895.0" width="10.4" height="10.4" fill="#ec392e"/>
<rect x="1168.3" y="915.4" width="10.4" height="10.4" fill="#ec392e"/>
<rect x="1223.1" y="943.1" width="10.4" height="10.4" fill="#ec392e"/>
<rect x="1277.9" y="992.3" width="10.4" height="10.4" fill="#ec392e"/>
<rect x="1332.7" y="1001.5" width="10.4" height="10.4" fill="#ec392e"/>
<rect x="1387.4" y="1001.5" width="10.4" height="10.4" fill="#ec392e"/>
<rect x="1442.2" y="994.8" width="10.4" height="10.4" fill="#ec392e"/>
<rect x="949.2" y="674.8" width="10.4" height="10.4" fill="#ec392e"/>
<rect x="1004.0" y="728.3" width="10.4" height="10.4" fill="#ec392e"/>
<rect x="1058.8" y="832.4" width="10.4" height="10.4" fill="#ec392e"/>
<rect x="1113.5" y="922.2" width="10.4" height="10.4" fill="#ec392e"/>
<rect x="1168.3" y="907.8" width="10.4" height="10.4" fill="#ec392e"/>
<rect x="1223.1" y="961.5" width="10.4" height="10.4" fill="#ec392e"/>
<rect x="1277.9" y="1014.0" width="10.4" height="10.4" fill="#ec392e"/>
<rect x="1332.7" y="1020.1" width="10.4" height="10.4" fill="#ec392e"/>
<rect x="1387.4" y="1009.0" width="10.4" height="10.4" fill="#ec392e"/>
<rect x="1442.2" y="991.8" width="10.4" height="10.4" fill="#ec392e"/>
<line x1="1046.00" y1="919.20" x2="1079.00" y2="891.50" stroke="#000" stroke-width="2.4" />
<polygon points="1090.4,882 1073.2,887.2 1080.5,890.5 1082,897.6" fill="#000"/>
<text x="1001.0" y="941.6" font-size="27" fill="#000" >(Or-10)</text>
<line x1="954.40" y1="1047.50" x2="954.40" y2="1039.00" stroke="#000" stroke-width="2" />
<line x1="1009.18" y1="1047.50" x2="1009.18" y2="1039.00" stroke="#000" stroke-width="2" />
<line x1="1063.96" y1="1047.50" x2="1063.96" y2="1039.00" stroke="#000" stroke-width="2" />
<line x1="1118.74" y1="1047.50" x2="1118.74" y2="1039.00" stroke="#000" stroke-width="2" />
<line x1="1173.52" y1="1047.50" x2="1173.52" y2="1039.00" stroke="#000" stroke-width="2" />
<line x1="1228.30" y1="1047.50" x2="1228.30" y2="1039.00" stroke="#000" stroke-width="2" />
<line x1="1283.08" y1="1047.50" x2="1283.08" y2="1039.00" stroke="#000" stroke-width="2" />
<line x1="1337.86" y1="1047.50" x2="1337.86" y2="1039.00" stroke="#000" stroke-width="2" />
<line x1="1392.64" y1="1047.50" x2="1392.64" y2="1039.00" stroke="#000" stroke-width="2" />
<line x1="1447.42" y1="1047.50" x2="1447.42" y2="1039.00" stroke="#000" stroke-width="2" />
<line x1="905.60" y1="990.06" x2="910.10" y2="990.06" stroke="#000" stroke-width="2" />
<line x1="905.60" y1="949.30" x2="910.10" y2="949.30" stroke="#000" stroke-width="2" />
<line x1="905.60" y1="917.69" x2="910.10" y2="917.69" stroke="#000" stroke-width="2" />
<line x1="905.60" y1="891.86" x2="910.10" y2="891.86" stroke="#000" stroke-width="2" />
<line x1="905.60" y1="870.03" x2="910.10" y2="870.03" stroke="#000" stroke-width="2" />
<line x1="905.60" y1="851.11" x2="910.10" y2="851.11" stroke="#000" stroke-width="2" />
<line x1="905.60" y1="834.42" x2="910.10" y2="834.42" stroke="#000" stroke-width="2" />
<line x1="905.60" y1="721.30" x2="910.10" y2="721.30" stroke="#000" stroke-width="2" />
<line x1="905.60" y1="663.86" x2="910.10" y2="663.86" stroke="#000" stroke-width="2" />
<line x1="905.60" y1="623.10" x2="910.10" y2="623.10" stroke="#000" stroke-width="2" />
<line x1="905.60" y1="819.50" x2="914.60" y2="819.50" stroke="#000" stroke-width="2" />
<rect x="905.6" y="592.4" width="591.3" height="455.1" fill="none" stroke="#000" stroke-width="2.5"/>
<text x="888.8" y="606.5" font-size="34" text-anchor="end" fill="#000" >50</text>
<text x="888.8" y="835.6" font-size="34" text-anchor="end" fill="#000" >10</text>
<text x="888.8" y="1054.0" font-size="34" text-anchor="end" fill="#000" >2</text>
<text transform="translate(819,1060.3) rotate(-90)" font-size="40.5" textLength="462" lengthAdjust="spacingAndGlyphs">Sample / Primitive mantle</text>
<text x="1438.4" y="625.5" font-size="36.8" font-weight="bold" fill="#000" >(d)</text>
<text x="961.9" y="1095.0" font-size="35" text-anchor="middle" fill="#000" >La</text>
<text x="1015.2" y="1095.0" font-size="35" text-anchor="middle" fill="#000" >Ce</text>
<text x="1069.0" y="1095.0" font-size="35" text-anchor="middle" fill="#000" >Nd</text>
<text x="1123.5" y="1095.0" font-size="35" text-anchor="middle" fill="#000" >Sm</text>
<text x="1177.3" y="1095.0" font-size="35" text-anchor="middle" fill="#000" >Eu</text>
<text x="1230.5" y="1095.0" font-size="35" text-anchor="middle" fill="#000" >Gd</text>
<text x="1285.0" y="1095.0" font-size="35" text-anchor="middle" fill="#000" >Dy</text>
<text x="1339.0" y="1095.0" font-size="35" text-anchor="middle" fill="#000" >Er</text>
<text x="1393.0" y="1095.0" font-size="35" text-anchor="middle" fill="#000" >Yb</text>
<text x="1447.0" y="1095.0" font-size="35" text-anchor="middle" fill="#000" >Lu</text>
<rect x="278.3" y="1171.6" width="1028.6" height="57.4" fill="none" stroke="#2a1414" stroke-width="1.2"/>
<rect x="290.4" y="1184.5" width="28.6" height="28.3" fill="#ed382e"/>
<rect x="486.9" y="1184.6" width="28" height="28" fill="#838486"/>
<circle cx="738" cy="1198.7" r="13" fill="none" stroke="#a6a9aa" stroke-width="4"/>
<text x="323.2" y="1211.6" font-size="36.3" fill="#000" >:</text>
<text x="345.1" y="1211.6" font-size="36.3" fill="#000" >Dacites,</text>
<text x="521.0" y="1211.6" font-size="36.3" fill="#000" >:</text>
<text x="543.0" y="1211.6" font-size="36.3" fill="#000" >Andesites,</text>
<text x="758.0" y="1211.6" font-size="36.3" fill="#000" >:</text>
<text x="777.2" y="1211.6" font-size="36.3" fill="#000" >Other lavas from Rishiri Volcano</text>
</svg></body></html>
